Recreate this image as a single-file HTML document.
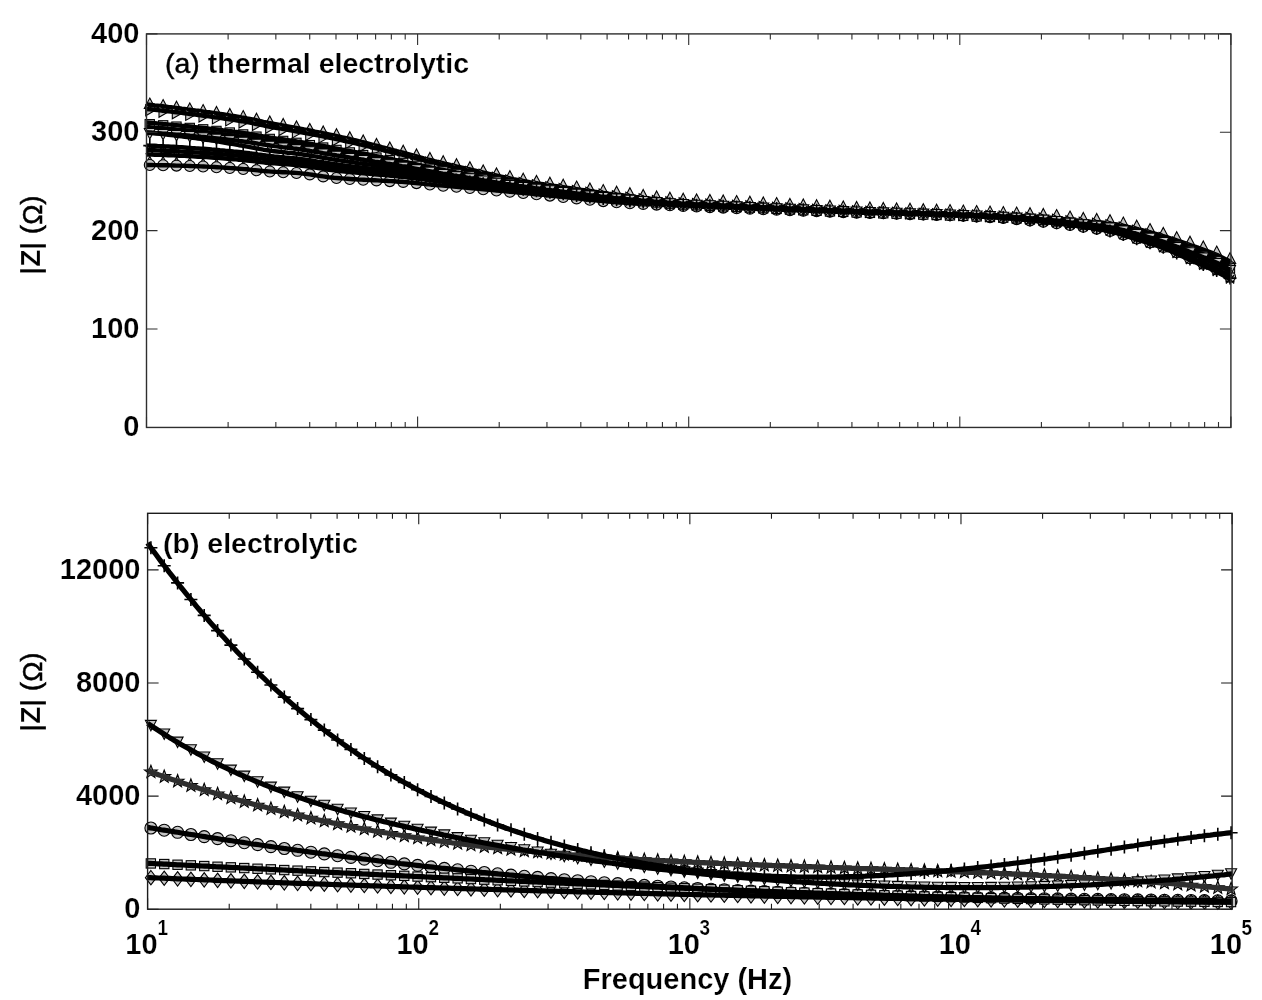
<!DOCTYPE html><html><head><meta charset="utf-8"><style>html,body{margin:0;padding:0;background:#fff;width:1262px;height:1000px;overflow:hidden;position:relative}body{-webkit-font-smoothing:antialiased}#t{position:absolute;left:0;top:0;width:1262px;height:1000px;will-change:transform}</style></head><body><svg width="1262" height="1000" viewBox="0 0 1262 1000" style="position:absolute;left:0;top:0"><rect width="1262" height="1000" fill="#fff"/><clipPath id="ca"><rect x="138.5" y="33.9" width="1100.4" height="393.55"/></clipPath><clipPath id="cb"><rect x="139.6" y="513.3" width="1100.5" height="395.9000000000001"/></clipPath><g><path d="M149.8 156.4L153.8 164.0L145.8 164.0Z" fill="#c4c4c4" stroke="#000" stroke-width="1.1"/><path d="M163.1 156.7L167.1 164.3L159.1 164.3Z" fill="#c4c4c4" stroke="#000" stroke-width="1.1"/><path d="M176.5 157.2L180.5 164.8L172.5 164.8Z" fill="#c4c4c4" stroke="#000" stroke-width="1.1"/><path d="M189.8 157.7L193.8 165.3L185.8 165.3Z" fill="#c4c4c4" stroke="#000" stroke-width="1.1"/><path d="M203.1 158.3L207.1 165.9L199.1 165.9Z" fill="#c4c4c4" stroke="#000" stroke-width="1.1"/><path d="M216.5 159.1L220.5 166.7L212.5 166.7Z" fill="#c4c4c4" stroke="#000" stroke-width="1.1"/><path d="M229.8 160.0L233.8 167.6L225.8 167.6Z" fill="#c4c4c4" stroke="#000" stroke-width="1.1"/><path d="M243.2 161.1L247.2 168.7L239.2 168.7Z" fill="#c4c4c4" stroke="#000" stroke-width="1.1"/><path d="M256.5 162.5L260.5 170.1L252.5 170.1Z" fill="#c4c4c4" stroke="#000" stroke-width="1.1"/><path d="M269.8 163.8L273.8 171.4L265.8 171.4Z" fill="#c4c4c4" stroke="#000" stroke-width="1.1"/><path d="M283.2 164.7L287.2 172.3L279.2 172.3Z" fill="#c4c4c4" stroke="#000" stroke-width="1.1"/><path d="M296.5 165.6L300.5 173.2L292.5 173.2Z" fill="#c4c4c4" stroke="#000" stroke-width="1.1"/><path d="M309.8 167.1L313.8 174.7L305.8 174.7Z" fill="#c4c4c4" stroke="#000" stroke-width="1.1"/><path d="M323.2 169.1L327.2 176.7L319.2 176.7Z" fill="#c4c4c4" stroke="#000" stroke-width="1.1"/><path d="M336.5 170.8L340.5 178.4L332.5 178.4Z" fill="#c4c4c4" stroke="#000" stroke-width="1.1"/><path d="M349.8 172.0L353.8 179.6L345.8 179.6Z" fill="#c4c4c4" stroke="#000" stroke-width="1.1"/><path d="M363.2 173.0L367.2 180.6L359.2 180.6Z" fill="#c4c4c4" stroke="#000" stroke-width="1.1"/><path d="M376.5 173.8L380.5 181.4L372.5 181.4Z" fill="#c4c4c4" stroke="#000" stroke-width="1.1"/><path d="M389.8 174.7L393.8 182.3L385.8 182.3Z" fill="#c4c4c4" stroke="#000" stroke-width="1.1"/><path d="M403.2 175.8L407.2 183.4L399.2 183.4Z" fill="#c4c4c4" stroke="#000" stroke-width="1.1"/><path d="M416.5 177.2L420.5 184.8L412.5 184.8Z" fill="#c4c4c4" stroke="#000" stroke-width="1.1"/><path d="M429.9 178.7L433.9 186.3L425.9 186.3Z" fill="#c4c4c4" stroke="#000" stroke-width="1.1"/><path d="M443.2 180.1L447.2 187.7L439.2 187.7Z" fill="#c4c4c4" stroke="#000" stroke-width="1.1"/><path d="M456.5 181.4L460.5 189.0L452.5 189.0Z" fill="#c4c4c4" stroke="#000" stroke-width="1.1"/><path d="M469.9 182.7L473.9 190.3L465.9 190.3Z" fill="#c4c4c4" stroke="#000" stroke-width="1.1"/><path d="M483.2 184.1L487.2 191.7L479.2 191.7Z" fill="#c4c4c4" stroke="#000" stroke-width="1.1"/><path d="M496.5 185.5L500.5 193.1L492.5 193.1Z" fill="#c4c4c4" stroke="#000" stroke-width="1.1"/><path d="M509.9 186.9L513.9 194.5L505.9 194.5Z" fill="#c4c4c4" stroke="#000" stroke-width="1.1"/><path d="M523.2 188.3L527.2 195.9L519.2 195.9Z" fill="#c4c4c4" stroke="#000" stroke-width="1.1"/><path d="M536.5 189.6L540.5 197.2L532.5 197.2Z" fill="#c4c4c4" stroke="#000" stroke-width="1.1"/><path d="M549.9 191.0L553.9 198.6L545.9 198.6Z" fill="#c4c4c4" stroke="#000" stroke-width="1.1"/><path d="M563.2 192.4L567.2 200.0L559.2 200.0Z" fill="#c4c4c4" stroke="#000" stroke-width="1.1"/><path d="M576.6 193.9L580.6 201.5L572.6 201.5Z" fill="#c4c4c4" stroke="#000" stroke-width="1.1"/><path d="M589.9 195.3L593.9 202.9L585.9 202.9Z" fill="#c4c4c4" stroke="#000" stroke-width="1.1"/><path d="M603.2 196.7L607.2 204.3L599.2 204.3Z" fill="#c4c4c4" stroke="#000" stroke-width="1.1"/><path d="M616.6 197.8L620.6 205.4L612.6 205.4Z" fill="#c4c4c4" stroke="#000" stroke-width="1.1"/><path d="M629.9 198.8L633.9 206.4L625.9 206.4Z" fill="#c4c4c4" stroke="#000" stroke-width="1.1"/><path d="M643.2 199.7L647.2 207.3L639.2 207.3Z" fill="#c4c4c4" stroke="#000" stroke-width="1.1"/><path d="M656.6 200.4L660.6 208.0L652.6 208.0Z" fill="#c4c4c4" stroke="#000" stroke-width="1.1"/><path d="M669.9 201.1L673.9 208.7L665.9 208.7Z" fill="#c4c4c4" stroke="#000" stroke-width="1.1"/><path d="M683.2 201.8L687.2 209.4L679.2 209.4Z" fill="#c4c4c4" stroke="#000" stroke-width="1.1"/><path d="M696.6 202.4L700.6 210.0L692.6 210.0Z" fill="#c4c4c4" stroke="#000" stroke-width="1.1"/><path d="M709.9 203.0L713.9 210.6L705.9 210.6Z" fill="#c4c4c4" stroke="#000" stroke-width="1.1"/><path d="M723.2 203.5L727.2 211.1L719.2 211.1Z" fill="#c4c4c4" stroke="#000" stroke-width="1.1"/><path d="M736.6 204.1L740.6 211.7L732.6 211.7Z" fill="#c4c4c4" stroke="#000" stroke-width="1.1"/><path d="M749.9 204.6L753.9 212.2L745.9 212.2Z" fill="#c4c4c4" stroke="#000" stroke-width="1.1"/><path d="M763.3 205.1L767.3 212.7L759.3 212.7Z" fill="#c4c4c4" stroke="#000" stroke-width="1.1"/><path d="M776.6 205.6L780.6 213.2L772.6 213.2Z" fill="#c4c4c4" stroke="#000" stroke-width="1.1"/><path d="M789.9 206.1L793.9 213.7L785.9 213.7Z" fill="#c4c4c4" stroke="#000" stroke-width="1.1"/><path d="M803.3 206.6L807.3 214.2L799.3 214.2Z" fill="#c4c4c4" stroke="#000" stroke-width="1.1"/><path d="M816.6 207.1L820.6 214.7L812.6 214.7Z" fill="#c4c4c4" stroke="#000" stroke-width="1.1"/><path d="M829.9 207.6L833.9 215.2L825.9 215.2Z" fill="#c4c4c4" stroke="#000" stroke-width="1.1"/><path d="M843.3 208.1L847.3 215.7L839.3 215.7Z" fill="#c4c4c4" stroke="#000" stroke-width="1.1"/><path d="M856.6 208.6L860.6 216.2L852.6 216.2Z" fill="#c4c4c4" stroke="#000" stroke-width="1.1"/><path d="M869.9 209.0L873.9 216.6L865.9 216.6Z" fill="#c4c4c4" stroke="#000" stroke-width="1.1"/><path d="M883.3 209.3L887.3 216.9L879.3 216.9Z" fill="#c4c4c4" stroke="#000" stroke-width="1.1"/><path d="M896.6 209.7L900.6 217.3L892.6 217.3Z" fill="#c4c4c4" stroke="#000" stroke-width="1.1"/><path d="M910.0 210.1L914.0 217.7L906.0 217.7Z" fill="#c4c4c4" stroke="#000" stroke-width="1.1"/><path d="M923.3 210.5L927.3 218.1L919.3 218.1Z" fill="#c4c4c4" stroke="#000" stroke-width="1.1"/><path d="M936.6 210.9L940.6 218.5L932.6 218.5Z" fill="#c4c4c4" stroke="#000" stroke-width="1.1"/><path d="M950.0 211.3L954.0 218.9L946.0 218.9Z" fill="#c4c4c4" stroke="#000" stroke-width="1.1"/><path d="M963.3 211.8L967.3 219.4L959.3 219.4Z" fill="#c4c4c4" stroke="#000" stroke-width="1.1"/><path d="M976.6 212.4L980.6 220.0L972.6 220.0Z" fill="#c4c4c4" stroke="#000" stroke-width="1.1"/><path d="M990.0 213.1L994.0 220.7L986.0 220.7Z" fill="#c4c4c4" stroke="#000" stroke-width="1.1"/><path d="M1003.3 213.9L1007.3 221.5L999.3 221.5Z" fill="#c4c4c4" stroke="#000" stroke-width="1.1"/><path d="M1016.6 215.1L1020.6 222.7L1012.6 222.7Z" fill="#c4c4c4" stroke="#000" stroke-width="1.1"/><path d="M1030.0 216.4L1034.0 224.0L1026.0 224.0Z" fill="#c4c4c4" stroke="#000" stroke-width="1.1"/><path d="M1043.3 217.7L1047.3 225.3L1039.3 225.3Z" fill="#c4c4c4" stroke="#000" stroke-width="1.1"/><path d="M1056.6 219.2L1060.6 226.8L1052.6 226.8Z" fill="#c4c4c4" stroke="#000" stroke-width="1.1"/><path d="M1070.0 220.9L1074.0 228.5L1066.0 228.5Z" fill="#c4c4c4" stroke="#000" stroke-width="1.1"/><path d="M1083.3 222.8L1087.3 230.4L1079.3 230.4Z" fill="#c4c4c4" stroke="#000" stroke-width="1.1"/><path d="M1096.7 224.7L1100.7 232.3L1092.7 232.3Z" fill="#c4c4c4" stroke="#000" stroke-width="1.1"/><path d="M1110.0 227.1L1114.0 234.7L1106.0 234.7Z" fill="#c4c4c4" stroke="#000" stroke-width="1.1"/><path d="M1123.3 230.6L1127.3 238.2L1119.3 238.2Z" fill="#c4c4c4" stroke="#000" stroke-width="1.1"/><path d="M1136.7 234.8L1140.7 242.4L1132.7 242.4Z" fill="#c4c4c4" stroke="#000" stroke-width="1.1"/><path d="M1150.0 238.8L1154.0 246.4L1146.0 246.4Z" fill="#c4c4c4" stroke="#000" stroke-width="1.1"/><path d="M1163.3 243.4L1167.3 251.0L1159.3 251.0Z" fill="#c4c4c4" stroke="#000" stroke-width="1.1"/><path d="M1176.7 249.0L1180.7 256.6L1172.7 256.6Z" fill="#c4c4c4" stroke="#000" stroke-width="1.1"/><path d="M1190.0 255.0L1194.0 262.6L1186.0 262.6Z" fill="#c4c4c4" stroke="#000" stroke-width="1.1"/><path d="M1203.3 260.6L1207.3 268.2L1199.3 268.2Z" fill="#c4c4c4" stroke="#000" stroke-width="1.1"/><path d="M1216.7 266.7L1220.7 274.3L1212.7 274.3Z" fill="#c4c4c4" stroke="#000" stroke-width="1.1"/><path d="M1230.0 274.2L1234.0 281.8L1226.0 281.8Z" fill="#c4c4c4" stroke="#000" stroke-width="1.1"/><circle cx="149.8" cy="165.0" r="5.5" fill="#c4c4c4" stroke="#000" stroke-width="1.1"/><circle cx="163.1" cy="165.2" r="5.5" fill="#c4c4c4" stroke="#000" stroke-width="1.1"/><circle cx="176.5" cy="165.6" r="5.5" fill="#c4c4c4" stroke="#000" stroke-width="1.1"/><circle cx="189.8" cy="166.0" r="5.5" fill="#c4c4c4" stroke="#000" stroke-width="1.1"/><circle cx="203.1" cy="166.5" r="5.5" fill="#c4c4c4" stroke="#000" stroke-width="1.1"/><circle cx="216.5" cy="167.2" r="5.5" fill="#c4c4c4" stroke="#000" stroke-width="1.1"/><circle cx="229.8" cy="168.0" r="5.5" fill="#c4c4c4" stroke="#000" stroke-width="1.1"/><circle cx="243.2" cy="169.0" r="5.5" fill="#c4c4c4" stroke="#000" stroke-width="1.1"/><circle cx="256.5" cy="170.3" r="5.5" fill="#c4c4c4" stroke="#000" stroke-width="1.1"/><circle cx="269.8" cy="171.5" r="5.5" fill="#c4c4c4" stroke="#000" stroke-width="1.1"/><circle cx="283.2" cy="172.2" r="5.5" fill="#c4c4c4" stroke="#000" stroke-width="1.1"/><circle cx="296.5" cy="173.0" r="5.5" fill="#c4c4c4" stroke="#000" stroke-width="1.1"/><circle cx="309.8" cy="174.4" r="5.5" fill="#c4c4c4" stroke="#000" stroke-width="1.1"/><circle cx="323.2" cy="176.4" r="5.5" fill="#c4c4c4" stroke="#000" stroke-width="1.1"/><circle cx="336.5" cy="178.0" r="5.5" fill="#c4c4c4" stroke="#000" stroke-width="1.1"/><circle cx="349.8" cy="179.0" r="5.5" fill="#c4c4c4" stroke="#000" stroke-width="1.1"/><circle cx="363.2" cy="179.7" r="5.5" fill="#c4c4c4" stroke="#000" stroke-width="1.1"/><circle cx="376.5" cy="180.4" r="5.5" fill="#c4c4c4" stroke="#000" stroke-width="1.1"/><circle cx="389.8" cy="181.1" r="5.5" fill="#c4c4c4" stroke="#000" stroke-width="1.1"/><circle cx="403.2" cy="181.9" r="5.5" fill="#c4c4c4" stroke="#000" stroke-width="1.1"/><circle cx="416.5" cy="183.1" r="5.5" fill="#c4c4c4" stroke="#000" stroke-width="1.1"/><circle cx="429.9" cy="184.5" r="5.5" fill="#c4c4c4" stroke="#000" stroke-width="1.1"/><circle cx="443.2" cy="185.7" r="5.5" fill="#c4c4c4" stroke="#000" stroke-width="1.1"/><circle cx="456.5" cy="186.8" r="5.5" fill="#c4c4c4" stroke="#000" stroke-width="1.1"/><circle cx="469.9" cy="188.0" r="5.5" fill="#c4c4c4" stroke="#000" stroke-width="1.1"/><circle cx="483.2" cy="189.2" r="5.5" fill="#c4c4c4" stroke="#000" stroke-width="1.1"/><circle cx="496.5" cy="190.5" r="5.5" fill="#c4c4c4" stroke="#000" stroke-width="1.1"/><circle cx="509.9" cy="191.7" r="5.5" fill="#c4c4c4" stroke="#000" stroke-width="1.1"/><circle cx="523.2" cy="193.0" r="5.5" fill="#c4c4c4" stroke="#000" stroke-width="1.1"/><circle cx="536.5" cy="194.3" r="5.5" fill="#c4c4c4" stroke="#000" stroke-width="1.1"/><circle cx="549.9" cy="195.6" r="5.5" fill="#c4c4c4" stroke="#000" stroke-width="1.1"/><circle cx="563.2" cy="197.0" r="5.5" fill="#c4c4c4" stroke="#000" stroke-width="1.1"/><circle cx="576.6" cy="198.4" r="5.5" fill="#c4c4c4" stroke="#000" stroke-width="1.1"/><circle cx="589.9" cy="199.8" r="5.5" fill="#c4c4c4" stroke="#000" stroke-width="1.1"/><circle cx="603.2" cy="201.1" r="5.5" fill="#c4c4c4" stroke="#000" stroke-width="1.1"/><circle cx="616.6" cy="202.3" r="5.5" fill="#c4c4c4" stroke="#000" stroke-width="1.1"/><circle cx="629.9" cy="203.2" r="5.5" fill="#c4c4c4" stroke="#000" stroke-width="1.1"/><circle cx="643.2" cy="203.9" r="5.5" fill="#c4c4c4" stroke="#000" stroke-width="1.1"/><circle cx="656.6" cy="204.6" r="5.5" fill="#c4c4c4" stroke="#000" stroke-width="1.1"/><circle cx="669.9" cy="205.3" r="5.5" fill="#c4c4c4" stroke="#000" stroke-width="1.1"/><circle cx="683.2" cy="205.9" r="5.5" fill="#c4c4c4" stroke="#000" stroke-width="1.1"/><circle cx="696.6" cy="206.5" r="5.5" fill="#c4c4c4" stroke="#000" stroke-width="1.1"/><circle cx="709.9" cy="207.1" r="5.5" fill="#c4c4c4" stroke="#000" stroke-width="1.1"/><circle cx="723.2" cy="207.6" r="5.5" fill="#c4c4c4" stroke="#000" stroke-width="1.1"/><circle cx="736.6" cy="208.2" r="5.5" fill="#c4c4c4" stroke="#000" stroke-width="1.1"/><circle cx="749.9" cy="208.7" r="5.5" fill="#c4c4c4" stroke="#000" stroke-width="1.1"/><circle cx="763.3" cy="209.2" r="5.5" fill="#c4c4c4" stroke="#000" stroke-width="1.1"/><circle cx="776.6" cy="209.7" r="5.5" fill="#c4c4c4" stroke="#000" stroke-width="1.1"/><circle cx="789.9" cy="210.2" r="5.5" fill="#c4c4c4" stroke="#000" stroke-width="1.1"/><circle cx="803.3" cy="210.7" r="5.5" fill="#c4c4c4" stroke="#000" stroke-width="1.1"/><circle cx="816.6" cy="211.2" r="5.5" fill="#c4c4c4" stroke="#000" stroke-width="1.1"/><circle cx="829.9" cy="211.6" r="5.5" fill="#c4c4c4" stroke="#000" stroke-width="1.1"/><circle cx="843.3" cy="212.1" r="5.5" fill="#c4c4c4" stroke="#000" stroke-width="1.1"/><circle cx="856.6" cy="212.6" r="5.5" fill="#c4c4c4" stroke="#000" stroke-width="1.1"/><circle cx="869.9" cy="213.0" r="5.5" fill="#c4c4c4" stroke="#000" stroke-width="1.1"/><circle cx="883.3" cy="213.3" r="5.5" fill="#c4c4c4" stroke="#000" stroke-width="1.1"/><circle cx="896.6" cy="213.7" r="5.5" fill="#c4c4c4" stroke="#000" stroke-width="1.1"/><circle cx="910.0" cy="214.1" r="5.5" fill="#c4c4c4" stroke="#000" stroke-width="1.1"/><circle cx="923.3" cy="214.4" r="5.5" fill="#c4c4c4" stroke="#000" stroke-width="1.1"/><circle cx="936.6" cy="214.9" r="5.5" fill="#c4c4c4" stroke="#000" stroke-width="1.1"/><circle cx="950.0" cy="215.3" r="5.5" fill="#c4c4c4" stroke="#000" stroke-width="1.1"/><circle cx="963.3" cy="215.8" r="5.5" fill="#c4c4c4" stroke="#000" stroke-width="1.1"/><circle cx="976.6" cy="216.4" r="5.5" fill="#c4c4c4" stroke="#000" stroke-width="1.1"/><circle cx="990.0" cy="217.1" r="5.5" fill="#c4c4c4" stroke="#000" stroke-width="1.1"/><circle cx="1003.3" cy="217.9" r="5.5" fill="#c4c4c4" stroke="#000" stroke-width="1.1"/><circle cx="1016.6" cy="219.1" r="5.5" fill="#c4c4c4" stroke="#000" stroke-width="1.1"/><circle cx="1030.0" cy="220.4" r="5.5" fill="#c4c4c4" stroke="#000" stroke-width="1.1"/><circle cx="1043.3" cy="221.8" r="5.5" fill="#c4c4c4" stroke="#000" stroke-width="1.1"/><circle cx="1056.6" cy="223.3" r="5.5" fill="#c4c4c4" stroke="#000" stroke-width="1.1"/><circle cx="1070.0" cy="224.9" r="5.5" fill="#c4c4c4" stroke="#000" stroke-width="1.1"/><circle cx="1083.3" cy="226.7" r="5.5" fill="#c4c4c4" stroke="#000" stroke-width="1.1"/><circle cx="1096.7" cy="228.6" r="5.5" fill="#c4c4c4" stroke="#000" stroke-width="1.1"/><circle cx="1110.0" cy="230.9" r="5.5" fill="#c4c4c4" stroke="#000" stroke-width="1.1"/><circle cx="1123.3" cy="234.4" r="5.5" fill="#c4c4c4" stroke="#000" stroke-width="1.1"/><circle cx="1136.7" cy="238.5" r="5.5" fill="#c4c4c4" stroke="#000" stroke-width="1.1"/><circle cx="1150.0" cy="242.4" r="5.5" fill="#c4c4c4" stroke="#000" stroke-width="1.1"/><circle cx="1163.3" cy="246.9" r="5.5" fill="#c4c4c4" stroke="#000" stroke-width="1.1"/><circle cx="1176.7" cy="252.3" r="5.5" fill="#c4c4c4" stroke="#000" stroke-width="1.1"/><circle cx="1190.0" cy="258.2" r="5.5" fill="#c4c4c4" stroke="#000" stroke-width="1.1"/><circle cx="1203.3" cy="263.6" r="5.5" fill="#c4c4c4" stroke="#000" stroke-width="1.1"/><circle cx="1216.7" cy="269.4" r="5.5" fill="#c4c4c4" stroke="#000" stroke-width="1.1"/><circle cx="1230.0" cy="276.7" r="5.5" fill="#c4c4c4" stroke="#000" stroke-width="1.1"/><polyline points="146.5,165.0 149.2,165.0 151.9,165.0 154.7,165.1 157.4,165.1 160.1,165.2 162.8,165.2 165.5,165.3 168.2,165.3 171.0,165.4 173.7,165.5 176.4,165.6 179.1,165.6 181.8,165.7 184.5,165.8 187.3,165.9 190.0,166.0 192.7,166.1 195.4,166.2 198.1,166.3 200.9,166.4 203.6,166.5 206.3,166.6 209.0,166.8 211.7,166.9 214.4,167.0 217.2,167.2 219.9,167.4 222.6,167.5 225.3,167.7 228.0,167.9 230.8,168.1 233.5,168.3 236.2,168.5 238.9,168.7 241.6,168.9 244.3,169.1 247.1,169.3 249.8,169.6 252.5,169.9 255.2,170.1 257.9,170.4 260.6,170.7 263.4,171.0 266.1,171.2 268.8,171.4 271.5,171.6 274.2,171.8 277.0,171.9 279.7,172.0 282.4,172.2 285.1,172.3 287.8,172.4 290.5,172.6 293.3,172.7 296.0,172.9 298.7,173.1 301.4,173.4 304.1,173.7 306.8,174.0 309.6,174.4 312.3,174.8 315.0,175.2 317.7,175.6 320.4,176.0 323.2,176.4 325.9,176.8 328.6,177.2 331.3,177.5 334.0,177.8 336.7,178.0 339.5,178.2 342.2,178.4 344.9,178.6 347.6,178.8 350.3,179.0 353.1,179.2 355.8,179.3 358.5,179.5 361.2,179.6 363.9,179.7 366.6,179.9 369.4,180.0 372.1,180.2 374.8,180.3 377.5,180.4 380.2,180.6 382.9,180.7 385.7,180.8 388.4,181.0 391.1,181.1 393.8,181.3 396.5,181.5 399.3,181.7 402.0,181.8 404.7,182.1 407.4,182.3 410.1,182.5 412.8,182.8 415.6,183.1 418.3,183.3 421.0,183.6 423.7,183.9 426.4,184.2 429.2,184.4 431.9,184.7 434.6,184.9 437.3,185.2 440.0,185.4 442.7,185.6 445.5,185.9 448.2,186.1 450.9,186.3 453.6,186.6 456.3,186.8 459.0,187.0 461.8,187.3 464.5,187.5 467.2,187.7 469.9,188.0 472.6,188.2 475.4,188.5 478.1,188.7 480.8,189.0 483.5,189.2 486.2,189.5 488.9,189.8 491.7,190.0 494.4,190.3 497.1,190.5 499.8,190.8 502.5,191.0 505.2,191.3 508.0,191.6 510.7,191.8 513.4,192.1 516.1,192.3 518.8,192.6 521.6,192.9 524.3,193.1 527.0,193.4 529.7,193.6 532.4,193.9 535.1,194.2 537.9,194.4 540.6,194.7 543.3,194.9 546.0,195.2 548.7,195.5 551.5,195.7 554.2,196.0 556.9,196.3 559.6,196.6 562.3,196.9 565.0,197.1 567.8,197.4 570.5,197.7 573.2,198.0 575.9,198.3 578.6,198.6 581.3,198.9 584.1,199.2 586.8,199.5 589.5,199.8 592.2,200.0 594.9,200.3 597.7,200.6 600.4,200.9 603.1,201.1 605.8,201.4 608.5,201.6 611.2,201.8 614.0,202.1 616.7,202.3 619.4,202.5 622.1,202.6 624.8,202.8 627.5,203.0 630.3,203.2 633.0,203.3 635.7,203.5 638.4,203.7 641.1,203.8 643.9,204.0 646.6,204.1 649.3,204.3 652.0,204.4 654.7,204.5 657.4,204.7 660.2,204.8 662.9,205.0 665.6,205.1 668.3,205.2 671.0,205.3 673.8,205.5 676.5,205.6 679.2,205.7 681.9,205.9 684.6,206.0 687.3,206.1 690.1,206.2 692.8,206.4 695.5,206.5 698.2,206.6 700.9,206.7 703.6,206.8 706.4,206.9 709.1,207.1 711.8,207.2 714.5,207.3 717.2,207.4 720.0,207.5 722.7,207.6 725.4,207.7 728.1,207.8 730.8,207.9 733.5,208.0 736.3,208.2 739.0,208.3 741.7,208.4 744.4,208.5 747.1,208.6 749.9,208.7 752.6,208.8 755.3,208.9 758.0,209.0 760.7,209.1 763.4,209.2 766.2,209.3 768.9,209.4 771.6,209.5 774.3,209.6 777.0,209.7 779.7,209.8 782.5,209.9 785.2,210.0 787.9,210.1 790.6,210.2 793.3,210.3 796.1,210.4 798.8,210.5 801.5,210.6 804.2,210.7 806.9,210.8 809.6,210.9 812.4,211.0 815.1,211.1 817.8,211.2 820.5,211.3 823.2,211.4 825.9,211.5 828.7,211.6 831.4,211.7 834.1,211.8 836.8,211.9 839.5,212.0 842.3,212.1 845.0,212.2 847.7,212.3 850.4,212.4 853.1,212.4 855.8,212.5 858.6,212.6 861.3,212.7 864.0,212.8 866.7,212.9 869.4,212.9 872.2,213.0 874.9,213.1 877.6,213.2 880.3,213.2 883.0,213.3 885.7,213.4 888.5,213.5 891.2,213.5 893.9,213.6 896.6,213.7 899.3,213.8 902.0,213.8 904.8,213.9 907.5,214.0 910.2,214.1 912.9,214.1 915.6,214.2 918.4,214.3 921.1,214.4 923.8,214.5 926.5,214.5 929.2,214.6 931.9,214.7 934.7,214.8 937.4,214.9 940.1,215.0 942.8,215.1 945.5,215.2 948.2,215.2 951.0,215.3 953.7,215.4 956.4,215.5 959.1,215.6 961.8,215.8 964.6,215.9 967.3,216.0 970.0,216.1 972.7,216.2 975.4,216.3 978.1,216.5 980.9,216.6 983.6,216.7 986.3,216.9 989.0,217.0 991.7,217.2 994.5,217.3 997.2,217.5 999.9,217.7 1002.6,217.9 1005.3,218.1 1008.0,218.3 1010.8,218.6 1013.5,218.8 1016.2,219.0 1018.9,219.3 1021.6,219.6 1024.3,219.8 1027.1,220.1 1029.8,220.4 1032.5,220.7 1035.2,220.9 1037.9,221.2 1040.7,221.5 1043.4,221.8 1046.1,222.1 1048.8,222.4 1051.5,222.7 1054.2,223.0 1057.0,223.3 1059.7,223.6 1062.4,224.0 1065.1,224.3 1067.8,224.7 1070.6,225.0 1073.3,225.4 1076.0,225.7 1078.7,226.1 1081.4,226.5 1084.1,226.8 1086.9,227.2 1089.6,227.6 1092.3,228.0 1095.0,228.4 1097.7,228.8 1100.4,229.2 1103.2,229.7 1105.9,230.1 1108.6,230.7 1111.3,231.2 1114.0,231.8 1116.8,232.5 1119.5,233.3 1122.2,234.0 1124.9,234.8 1127.6,235.7 1130.3,236.5 1133.1,237.4 1135.8,238.2 1138.5,239.0 1141.2,239.8 1143.9,240.6 1146.6,241.4 1149.4,242.3 1152.1,243.1 1154.8,243.9 1157.5,244.8 1160.2,245.8 1163.0,246.7 1165.7,247.7 1168.4,248.8 1171.1,249.9 1173.8,251.1 1176.5,252.2 1179.3,253.4 1182.0,254.6 1184.7,255.9 1187.4,257.0 1190.1,258.2 1192.9,259.3 1195.6,260.5 1198.3,261.6 1201.0,262.7 1203.7,263.8 1206.4,264.9 1209.2,266.0 1211.9,267.2 1214.6,268.5 1217.3,269.8 1220.0,271.1 1222.7,272.6 1225.5,274.1 1228.2,275.6 1230.9,277.2" fill="none" stroke="#000" stroke-width="4.4" stroke-linejoin="round" stroke-linecap="butt"/><path d="M149.8 98.1L155.3 108.5L144.3 108.5Z" fill="#c4c4c4" stroke="#000" stroke-width="1.1"/><path d="M163.1 99.6L168.6 110.0L157.6 110.0Z" fill="#c4c4c4" stroke="#000" stroke-width="1.1"/><path d="M176.5 101.2L182.0 111.6L171.0 111.6Z" fill="#c4c4c4" stroke="#000" stroke-width="1.1"/><path d="M189.8 102.9L195.3 113.3L184.3 113.3Z" fill="#c4c4c4" stroke="#000" stroke-width="1.1"/><path d="M203.1 104.6L208.6 115.1L197.6 115.1Z" fill="#c4c4c4" stroke="#000" stroke-width="1.1"/><path d="M216.5 106.5L222.0 116.9L211.0 116.9Z" fill="#c4c4c4" stroke="#000" stroke-width="1.1"/><path d="M229.8 108.4L235.3 118.9L224.3 118.9Z" fill="#c4c4c4" stroke="#000" stroke-width="1.1"/><path d="M243.2 110.6L248.7 121.1L237.7 121.1Z" fill="#c4c4c4" stroke="#000" stroke-width="1.1"/><path d="M256.5 113.3L262.0 123.7L251.0 123.7Z" fill="#c4c4c4" stroke="#000" stroke-width="1.1"/><path d="M269.8 116.0L275.3 126.4L264.3 126.4Z" fill="#c4c4c4" stroke="#000" stroke-width="1.1"/><path d="M283.2 118.4L288.7 128.9L277.7 128.9Z" fill="#c4c4c4" stroke="#000" stroke-width="1.1"/><path d="M296.5 120.9L302.0 131.3L291.0 131.3Z" fill="#c4c4c4" stroke="#000" stroke-width="1.1"/><path d="M309.8 123.4L315.3 133.8L304.3 133.8Z" fill="#c4c4c4" stroke="#000" stroke-width="1.1"/><path d="M323.2 126.0L328.7 136.4L317.7 136.4Z" fill="#c4c4c4" stroke="#000" stroke-width="1.1"/><path d="M336.5 128.7L342.0 139.2L331.0 139.2Z" fill="#c4c4c4" stroke="#000" stroke-width="1.1"/><path d="M349.8 131.8L355.3 142.2L344.3 142.2Z" fill="#c4c4c4" stroke="#000" stroke-width="1.1"/><path d="M363.2 135.0L368.7 145.5L357.7 145.5Z" fill="#c4c4c4" stroke="#000" stroke-width="1.1"/><path d="M376.5 138.4L382.0 148.9L371.0 148.9Z" fill="#c4c4c4" stroke="#000" stroke-width="1.1"/><path d="M389.8 141.9L395.3 152.3L384.3 152.3Z" fill="#c4c4c4" stroke="#000" stroke-width="1.1"/><path d="M403.2 145.3L408.7 155.8L397.7 155.8Z" fill="#c4c4c4" stroke="#000" stroke-width="1.1"/><path d="M416.5 148.9L422.0 159.4L411.0 159.4Z" fill="#c4c4c4" stroke="#000" stroke-width="1.1"/><path d="M429.9 152.4L435.4 162.9L424.4 162.9Z" fill="#c4c4c4" stroke="#000" stroke-width="1.1"/><path d="M443.2 155.7L448.7 166.1L437.7 166.1Z" fill="#c4c4c4" stroke="#000" stroke-width="1.1"/><path d="M456.5 158.8L462.0 169.3L451.0 169.3Z" fill="#c4c4c4" stroke="#000" stroke-width="1.1"/><path d="M469.9 161.8L475.4 172.3L464.4 172.3Z" fill="#c4c4c4" stroke="#000" stroke-width="1.1"/><path d="M483.2 164.9L488.7 175.3L477.7 175.3Z" fill="#c4c4c4" stroke="#000" stroke-width="1.1"/><path d="M496.5 167.9L502.0 178.3L491.0 178.3Z" fill="#c4c4c4" stroke="#000" stroke-width="1.1"/><path d="M509.9 170.7L515.4 181.1L504.4 181.1Z" fill="#c4c4c4" stroke="#000" stroke-width="1.1"/><path d="M523.2 173.2L528.7 183.6L517.7 183.6Z" fill="#c4c4c4" stroke="#000" stroke-width="1.1"/><path d="M536.5 175.4L542.0 185.8L531.0 185.8Z" fill="#c4c4c4" stroke="#000" stroke-width="1.1"/><path d="M549.9 177.3L555.4 187.8L544.4 187.8Z" fill="#c4c4c4" stroke="#000" stroke-width="1.1"/><path d="M563.2 179.2L568.7 189.7L557.7 189.7Z" fill="#c4c4c4" stroke="#000" stroke-width="1.1"/><path d="M576.6 181.1L582.1 191.5L571.1 191.5Z" fill="#c4c4c4" stroke="#000" stroke-width="1.1"/><path d="M589.9 182.9L595.4 193.4L584.4 193.4Z" fill="#c4c4c4" stroke="#000" stroke-width="1.1"/><path d="M603.2 184.6L608.7 195.1L597.7 195.1Z" fill="#c4c4c4" stroke="#000" stroke-width="1.1"/><path d="M616.6 186.3L622.1 196.7L611.1 196.7Z" fill="#c4c4c4" stroke="#000" stroke-width="1.1"/><path d="M629.9 187.8L635.4 198.3L624.4 198.3Z" fill="#c4c4c4" stroke="#000" stroke-width="1.1"/><path d="M643.2 189.4L648.7 199.9L637.7 199.9Z" fill="#c4c4c4" stroke="#000" stroke-width="1.1"/><path d="M656.6 191.0L662.1 201.4L651.1 201.4Z" fill="#c4c4c4" stroke="#000" stroke-width="1.1"/><path d="M669.9 192.3L675.4 202.7L664.4 202.7Z" fill="#c4c4c4" stroke="#000" stroke-width="1.1"/><path d="M683.2 193.3L688.7 203.7L677.7 203.7Z" fill="#c4c4c4" stroke="#000" stroke-width="1.1"/><path d="M696.6 193.9L702.1 204.3L691.1 204.3Z" fill="#c4c4c4" stroke="#000" stroke-width="1.1"/><path d="M709.9 194.4L715.4 204.8L704.4 204.8Z" fill="#c4c4c4" stroke="#000" stroke-width="1.1"/><path d="M723.2 194.9L728.7 205.4L717.7 205.4Z" fill="#c4c4c4" stroke="#000" stroke-width="1.1"/><path d="M736.6 195.6L742.1 206.0L731.1 206.0Z" fill="#c4c4c4" stroke="#000" stroke-width="1.1"/><path d="M749.9 196.2L755.4 206.7L744.4 206.7Z" fill="#c4c4c4" stroke="#000" stroke-width="1.1"/><path d="M763.3 196.9L768.8 207.4L757.8 207.4Z" fill="#c4c4c4" stroke="#000" stroke-width="1.1"/><path d="M776.6 197.6L782.1 208.1L771.1 208.1Z" fill="#c4c4c4" stroke="#000" stroke-width="1.1"/><path d="M789.9 198.4L795.4 208.8L784.4 208.8Z" fill="#c4c4c4" stroke="#000" stroke-width="1.1"/><path d="M803.3 199.0L808.8 209.5L797.8 209.5Z" fill="#c4c4c4" stroke="#000" stroke-width="1.1"/><path d="M816.6 199.7L822.1 210.2L811.1 210.2Z" fill="#c4c4c4" stroke="#000" stroke-width="1.1"/><path d="M829.9 200.3L835.4 210.8L824.4 210.8Z" fill="#c4c4c4" stroke="#000" stroke-width="1.1"/><path d="M843.3 200.9L848.8 211.4L837.8 211.4Z" fill="#c4c4c4" stroke="#000" stroke-width="1.1"/><path d="M856.6 201.4L862.1 211.9L851.1 211.9Z" fill="#c4c4c4" stroke="#000" stroke-width="1.1"/><path d="M869.9 201.9L875.4 212.4L864.4 212.4Z" fill="#c4c4c4" stroke="#000" stroke-width="1.1"/><path d="M883.3 202.4L888.8 212.9L877.8 212.9Z" fill="#c4c4c4" stroke="#000" stroke-width="1.1"/><path d="M896.6 202.9L902.1 213.3L891.1 213.3Z" fill="#c4c4c4" stroke="#000" stroke-width="1.1"/><path d="M910.0 203.3L915.5 213.8L904.5 213.8Z" fill="#c4c4c4" stroke="#000" stroke-width="1.1"/><path d="M923.3 203.8L928.8 214.2L917.8 214.2Z" fill="#c4c4c4" stroke="#000" stroke-width="1.1"/><path d="M936.6 204.2L942.1 214.6L931.1 214.6Z" fill="#c4c4c4" stroke="#000" stroke-width="1.1"/><path d="M950.0 204.6L955.5 215.1L944.5 215.1Z" fill="#c4c4c4" stroke="#000" stroke-width="1.1"/><path d="M963.3 205.1L968.8 215.6L957.8 215.6Z" fill="#c4c4c4" stroke="#000" stroke-width="1.1"/><path d="M976.6 205.6L982.1 216.0L971.1 216.0Z" fill="#c4c4c4" stroke="#000" stroke-width="1.1"/><path d="M990.0 206.1L995.5 216.6L984.5 216.6Z" fill="#c4c4c4" stroke="#000" stroke-width="1.1"/><path d="M1003.3 206.6L1008.8 217.1L997.8 217.1Z" fill="#c4c4c4" stroke="#000" stroke-width="1.1"/><path d="M1016.6 207.1L1022.1 217.6L1011.1 217.6Z" fill="#c4c4c4" stroke="#000" stroke-width="1.1"/><path d="M1030.0 207.7L1035.5 218.2L1024.5 218.2Z" fill="#c4c4c4" stroke="#000" stroke-width="1.1"/><path d="M1043.3 208.4L1048.8 218.9L1037.8 218.9Z" fill="#c4c4c4" stroke="#000" stroke-width="1.1"/><path d="M1056.6 209.6L1062.1 220.0L1051.1 220.0Z" fill="#c4c4c4" stroke="#000" stroke-width="1.1"/><path d="M1070.0 211.1L1075.5 221.5L1064.5 221.5Z" fill="#c4c4c4" stroke="#000" stroke-width="1.1"/><path d="M1083.3 212.5L1088.8 223.0L1077.8 223.0Z" fill="#c4c4c4" stroke="#000" stroke-width="1.1"/><path d="M1096.7 213.5L1102.2 224.0L1091.2 224.0Z" fill="#c4c4c4" stroke="#000" stroke-width="1.1"/><path d="M1110.0 214.8L1115.5 225.2L1104.5 225.2Z" fill="#c4c4c4" stroke="#000" stroke-width="1.1"/><path d="M1123.3 217.1L1128.8 227.6L1117.8 227.6Z" fill="#c4c4c4" stroke="#000" stroke-width="1.1"/><path d="M1136.7 220.2L1142.2 230.6L1131.2 230.6Z" fill="#c4c4c4" stroke="#000" stroke-width="1.1"/><path d="M1150.0 223.6L1155.5 234.0L1144.5 234.0Z" fill="#c4c4c4" stroke="#000" stroke-width="1.1"/><path d="M1163.3 227.4L1168.8 237.8L1157.8 237.8Z" fill="#c4c4c4" stroke="#000" stroke-width="1.1"/><path d="M1176.7 231.7L1182.2 242.1L1171.2 242.1Z" fill="#c4c4c4" stroke="#000" stroke-width="1.1"/><path d="M1190.0 236.3L1195.5 246.7L1184.5 246.7Z" fill="#c4c4c4" stroke="#000" stroke-width="1.1"/><path d="M1203.3 240.9L1208.8 251.4L1197.8 251.4Z" fill="#c4c4c4" stroke="#000" stroke-width="1.1"/><path d="M1216.7 246.1L1222.2 256.6L1211.2 256.6Z" fill="#c4c4c4" stroke="#000" stroke-width="1.1"/><path d="M1230.0 252.7L1235.5 263.2L1224.5 263.2Z" fill="#c4c4c4" stroke="#000" stroke-width="1.1"/><polyline points="146.5,104.4 149.2,104.7 151.9,105.0 154.7,105.4 157.4,105.7 160.1,106.0 162.8,106.3 165.5,106.6 168.2,107.0 171.0,107.3 173.7,107.6 176.4,108.0 179.1,108.3 181.8,108.7 184.5,109.0 187.3,109.4 190.0,109.7 192.7,110.1 195.4,110.5 198.1,110.8 200.9,111.2 203.6,111.6 206.3,112.0 209.0,112.3 211.7,112.7 214.4,113.1 217.2,113.5 219.9,113.9 222.6,114.3 225.3,114.7 228.0,115.1 230.8,115.6 233.5,116.0 236.2,116.4 238.9,116.9 241.6,117.4 244.3,117.8 247.1,118.4 249.8,118.9 252.5,119.4 255.2,120.0 257.9,120.6 260.6,121.2 263.4,121.8 266.1,122.3 268.8,122.9 271.5,123.4 274.2,123.9 277.0,124.4 279.7,124.9 282.4,125.4 285.1,125.9 287.8,126.4 290.5,126.9 293.3,127.4 296.0,127.9 298.7,128.4 301.4,128.9 304.1,129.5 306.8,130.0 309.6,130.5 312.3,131.0 315.0,131.6 317.7,132.1 320.4,132.6 323.2,133.2 325.9,133.7 328.6,134.3 331.3,134.9 334.0,135.5 336.7,136.1 339.5,136.7 342.2,137.3 344.9,137.9 347.6,138.5 350.3,139.2 353.1,139.8 355.8,140.5 358.5,141.2 361.2,141.9 363.9,142.5 366.6,143.2 369.4,143.9 372.1,144.6 374.8,145.3 377.5,146.0 380.2,146.7 382.9,147.5 385.7,148.2 388.4,148.9 391.1,149.6 393.8,150.3 396.5,151.0 399.3,151.8 402.0,152.5 404.7,153.2 407.4,153.9 410.1,154.6 412.8,155.4 415.6,156.1 418.3,156.9 421.0,157.6 423.7,158.4 426.4,159.1 429.2,159.8 431.9,160.5 434.6,161.2 437.3,161.8 440.0,162.5 442.7,163.1 445.5,163.8 448.2,164.4 450.9,165.1 453.6,165.7 456.3,166.4 459.0,167.0 461.8,167.6 464.5,168.2 467.2,168.9 469.9,169.5 472.6,170.1 475.4,170.7 478.1,171.3 480.8,172.0 483.5,172.6 486.2,173.2 488.9,173.8 491.7,174.5 494.4,175.1 497.1,175.7 499.8,176.3 502.5,176.9 505.2,177.5 508.0,178.0 510.7,178.6 513.4,179.2 516.1,179.7 518.8,180.2 521.6,180.7 524.3,181.2 527.0,181.7 529.7,182.2 532.4,182.6 535.1,183.0 537.9,183.5 540.6,183.9 543.3,184.3 546.0,184.7 548.7,185.1 551.5,185.5 554.2,185.9 556.9,186.3 559.6,186.7 562.3,187.1 565.0,187.5 567.8,187.9 570.5,188.3 573.2,188.7 575.9,189.1 578.6,189.5 581.3,189.9 584.1,190.3 586.8,190.7 589.5,191.0 592.2,191.4 594.9,191.8 597.7,192.1 600.4,192.5 603.1,192.9 605.8,193.2 608.5,193.6 611.2,193.9 614.0,194.3 616.7,194.6 619.4,194.9 622.1,195.3 624.8,195.6 627.5,195.9 630.3,196.3 633.0,196.6 635.7,197.0 638.4,197.3 641.1,197.6 643.9,198.0 646.6,198.3 649.3,198.6 652.0,198.9 654.7,199.3 657.4,199.6 660.2,199.9 662.9,200.2 665.6,200.4 668.3,200.7 671.0,200.9 673.8,201.2 676.5,201.4 679.2,201.6 681.9,201.8 684.6,202.0 687.3,202.1 690.1,202.3 692.8,202.4 695.5,202.5 698.2,202.6 700.9,202.7 703.6,202.9 706.4,203.0 709.1,203.1 711.8,203.2 714.5,203.3 717.2,203.4 720.0,203.5 722.7,203.6 725.4,203.7 728.1,203.9 730.8,204.0 733.5,204.1 736.3,204.3 739.0,204.4 741.7,204.5 744.4,204.7 747.1,204.8 749.9,205.0 752.6,205.1 755.3,205.2 758.0,205.4 760.7,205.5 763.4,205.7 766.2,205.8 768.9,206.0 771.6,206.1 774.3,206.3 777.0,206.4 779.7,206.5 782.5,206.7 785.2,206.8 787.9,207.0 790.6,207.1 793.3,207.3 796.1,207.4 798.8,207.5 801.5,207.7 804.2,207.8 806.9,208.0 809.6,208.1 812.4,208.2 815.1,208.4 817.8,208.5 820.5,208.6 823.2,208.8 825.9,208.9 828.7,209.0 831.4,209.1 834.1,209.2 836.8,209.4 839.5,209.5 842.3,209.6 845.0,209.7 847.7,209.8 850.4,209.9 853.1,210.0 855.8,210.1 858.6,210.2 861.3,210.3 864.0,210.4 866.7,210.5 869.4,210.6 872.2,210.7 874.9,210.8 877.6,210.9 880.3,211.0 883.0,211.1 885.7,211.2 888.5,211.3 891.2,211.4 893.9,211.5 896.6,211.6 899.3,211.7 902.0,211.8 904.8,211.9 907.5,212.0 910.2,212.0 912.9,212.1 915.6,212.2 918.4,212.3 921.1,212.4 923.8,212.5 926.5,212.6 929.2,212.7 931.9,212.8 934.7,212.9 937.4,212.9 940.1,213.0 942.8,213.1 945.5,213.2 948.2,213.3 951.0,213.4 953.7,213.5 956.4,213.6 959.1,213.7 961.8,213.8 964.6,213.9 967.3,214.0 970.0,214.1 972.7,214.2 975.4,214.3 978.1,214.4 980.9,214.5 983.6,214.6 986.3,214.7 989.0,214.8 991.7,214.9 994.5,215.0 997.2,215.1 999.9,215.2 1002.6,215.3 1005.3,215.4 1008.0,215.5 1010.8,215.6 1013.5,215.7 1016.2,215.8 1018.9,215.9 1021.6,216.1 1024.3,216.2 1027.1,216.3 1029.8,216.4 1032.5,216.6 1035.2,216.7 1037.9,216.8 1040.7,217.0 1043.4,217.2 1046.1,217.3 1048.8,217.6 1051.5,217.8 1054.2,218.0 1057.0,218.3 1059.7,218.6 1062.4,218.9 1065.1,219.2 1067.8,219.6 1070.6,219.9 1073.3,220.2 1076.0,220.5 1078.7,220.8 1081.4,221.1 1084.1,221.3 1086.9,221.5 1089.6,221.7 1092.3,221.9 1095.0,222.1 1097.7,222.3 1100.4,222.6 1103.2,222.8 1105.9,223.0 1108.6,223.3 1111.3,223.7 1114.0,224.1 1116.8,224.5 1119.5,225.0 1122.2,225.6 1124.9,226.2 1127.6,226.8 1130.3,227.4 1133.1,228.1 1135.8,228.7 1138.5,229.4 1141.2,230.0 1143.9,230.7 1146.6,231.4 1149.4,232.1 1152.1,232.9 1154.8,233.6 1157.5,234.4 1160.2,235.2 1163.0,236.0 1165.7,236.8 1168.4,237.7 1171.1,238.5 1173.8,239.4 1176.5,240.3 1179.3,241.3 1182.0,242.2 1184.7,243.1 1187.4,244.1 1190.1,245.0 1192.9,246.0 1195.6,246.9 1198.3,247.9 1201.0,248.8 1203.7,249.8 1206.4,250.8 1209.2,251.8 1211.9,252.9 1214.6,254.0 1217.3,255.1 1220.0,256.4 1222.7,257.7 1225.5,259.1 1228.2,260.5 1230.9,261.9" fill="none" stroke="#000" stroke-width="4.4" stroke-linejoin="round" stroke-linecap="butt"/><path d="M155.3 110.3L145.7 104.8L145.7 115.8Z" fill="#c4c4c4" stroke="#000" stroke-width="1.1"/><path d="M168.6 111.8L159.0 106.3L159.0 117.3Z" fill="#c4c4c4" stroke="#000" stroke-width="1.1"/><path d="M182.0 113.3L172.3 107.8L172.3 118.8Z" fill="#c4c4c4" stroke="#000" stroke-width="1.1"/><path d="M195.3 114.9L185.7 109.4L185.7 120.4Z" fill="#c4c4c4" stroke="#000" stroke-width="1.1"/><path d="M208.6 116.6L199.0 111.1L199.0 122.1Z" fill="#c4c4c4" stroke="#000" stroke-width="1.1"/><path d="M222.0 118.4L212.4 112.9L212.4 123.9Z" fill="#c4c4c4" stroke="#000" stroke-width="1.1"/><path d="M235.3 120.4L225.7 114.9L225.7 125.9Z" fill="#c4c4c4" stroke="#000" stroke-width="1.1"/><path d="M248.7 122.5L239.0 117.0L239.0 128.0Z" fill="#c4c4c4" stroke="#000" stroke-width="1.1"/><path d="M262.0 125.0L252.4 119.5L252.4 130.5Z" fill="#c4c4c4" stroke="#000" stroke-width="1.1"/><path d="M275.3 127.7L265.7 122.2L265.7 133.2Z" fill="#c4c4c4" stroke="#000" stroke-width="1.1"/><path d="M288.7 130.0L279.0 124.5L279.0 135.5Z" fill="#c4c4c4" stroke="#000" stroke-width="1.1"/><path d="M302.0 132.4L292.4 126.9L292.4 137.9Z" fill="#c4c4c4" stroke="#000" stroke-width="1.1"/><path d="M315.3 134.9L305.7 129.4L305.7 140.4Z" fill="#c4c4c4" stroke="#000" stroke-width="1.1"/><path d="M328.7 137.4L319.0 131.9L319.0 142.9Z" fill="#c4c4c4" stroke="#000" stroke-width="1.1"/><path d="M342.0 140.2L332.4 134.7L332.4 145.7Z" fill="#c4c4c4" stroke="#000" stroke-width="1.1"/><path d="M355.3 143.1L345.7 137.6L345.7 148.6Z" fill="#c4c4c4" stroke="#000" stroke-width="1.1"/><path d="M368.7 146.2L359.1 140.7L359.1 151.7Z" fill="#c4c4c4" stroke="#000" stroke-width="1.1"/><path d="M382.0 149.4L372.4 143.9L372.4 154.9Z" fill="#c4c4c4" stroke="#000" stroke-width="1.1"/><path d="M395.3 152.7L385.7 147.2L385.7 158.2Z" fill="#c4c4c4" stroke="#000" stroke-width="1.1"/><path d="M408.7 156.0L399.1 150.5L399.1 161.5Z" fill="#c4c4c4" stroke="#000" stroke-width="1.1"/><path d="M422.0 159.4L412.4 153.9L412.4 164.9Z" fill="#c4c4c4" stroke="#000" stroke-width="1.1"/><path d="M435.4 162.8L425.7 157.3L425.7 168.3Z" fill="#c4c4c4" stroke="#000" stroke-width="1.1"/><path d="M448.7 165.9L439.1 160.4L439.1 171.4Z" fill="#c4c4c4" stroke="#000" stroke-width="1.1"/><path d="M462.0 168.9L452.4 163.4L452.4 174.4Z" fill="#c4c4c4" stroke="#000" stroke-width="1.1"/><path d="M475.4 171.9L465.7 166.4L465.7 177.4Z" fill="#c4c4c4" stroke="#000" stroke-width="1.1"/><path d="M488.7 174.8L479.1 169.3L479.1 180.3Z" fill="#c4c4c4" stroke="#000" stroke-width="1.1"/><path d="M502.0 177.7L492.4 172.2L492.4 183.2Z" fill="#c4c4c4" stroke="#000" stroke-width="1.1"/><path d="M515.4 180.4L505.7 174.9L505.7 185.9Z" fill="#c4c4c4" stroke="#000" stroke-width="1.1"/><path d="M528.7 182.9L519.1 177.4L519.1 188.4Z" fill="#c4c4c4" stroke="#000" stroke-width="1.1"/><path d="M542.0 185.1L532.4 179.6L532.4 190.6Z" fill="#c4c4c4" stroke="#000" stroke-width="1.1"/><path d="M555.4 187.1L545.8 181.6L545.8 192.6Z" fill="#c4c4c4" stroke="#000" stroke-width="1.1"/><path d="M568.7 189.0L559.1 183.5L559.1 194.5Z" fill="#c4c4c4" stroke="#000" stroke-width="1.1"/><path d="M582.1 190.9L572.4 185.4L572.4 196.4Z" fill="#c4c4c4" stroke="#000" stroke-width="1.1"/><path d="M595.4 192.7L585.8 187.2L585.8 198.2Z" fill="#c4c4c4" stroke="#000" stroke-width="1.1"/><path d="M608.7 194.5L599.1 189.0L599.1 200.0Z" fill="#c4c4c4" stroke="#000" stroke-width="1.1"/><path d="M622.1 196.2L612.4 190.7L612.4 201.7Z" fill="#c4c4c4" stroke="#000" stroke-width="1.1"/><path d="M635.4 197.7L625.8 192.2L625.8 203.2Z" fill="#c4c4c4" stroke="#000" stroke-width="1.1"/><path d="M648.7 199.3L639.1 193.8L639.1 204.8Z" fill="#c4c4c4" stroke="#000" stroke-width="1.1"/><path d="M662.1 200.9L652.4 195.4L652.4 206.4Z" fill="#c4c4c4" stroke="#000" stroke-width="1.1"/><path d="M675.4 202.2L665.8 196.7L665.8 207.7Z" fill="#c4c4c4" stroke="#000" stroke-width="1.1"/><path d="M688.7 203.2L679.1 197.7L679.1 208.7Z" fill="#c4c4c4" stroke="#000" stroke-width="1.1"/><path d="M702.1 203.9L692.5 198.4L692.5 209.4Z" fill="#c4c4c4" stroke="#000" stroke-width="1.1"/><path d="M715.4 204.4L705.8 198.9L705.8 209.9Z" fill="#c4c4c4" stroke="#000" stroke-width="1.1"/><path d="M728.7 204.9L719.1 199.4L719.1 210.4Z" fill="#c4c4c4" stroke="#000" stroke-width="1.1"/><path d="M742.1 205.6L732.5 200.1L732.5 211.1Z" fill="#c4c4c4" stroke="#000" stroke-width="1.1"/><path d="M755.4 206.2L745.8 200.7L745.8 211.7Z" fill="#c4c4c4" stroke="#000" stroke-width="1.1"/><path d="M768.8 206.9L759.1 201.4L759.1 212.4Z" fill="#c4c4c4" stroke="#000" stroke-width="1.1"/><path d="M782.1 207.6L772.5 202.1L772.5 213.1Z" fill="#c4c4c4" stroke="#000" stroke-width="1.1"/><path d="M795.4 208.3L785.8 202.8L785.8 213.8Z" fill="#c4c4c4" stroke="#000" stroke-width="1.1"/><path d="M808.8 209.0L799.1 203.5L799.1 214.5Z" fill="#c4c4c4" stroke="#000" stroke-width="1.1"/><path d="M822.1 209.6L812.5 204.1L812.5 215.1Z" fill="#c4c4c4" stroke="#000" stroke-width="1.1"/><path d="M835.4 210.3L825.8 204.8L825.8 215.8Z" fill="#c4c4c4" stroke="#000" stroke-width="1.1"/><path d="M848.8 210.8L839.1 205.3L839.1 216.3Z" fill="#c4c4c4" stroke="#000" stroke-width="1.1"/><path d="M862.1 211.3L852.5 205.8L852.5 216.8Z" fill="#c4c4c4" stroke="#000" stroke-width="1.1"/><path d="M875.4 211.8L865.8 206.3L865.8 217.3Z" fill="#c4c4c4" stroke="#000" stroke-width="1.1"/><path d="M888.8 212.3L879.2 206.8L879.2 217.8Z" fill="#c4c4c4" stroke="#000" stroke-width="1.1"/><path d="M902.1 212.7L892.5 207.2L892.5 218.2Z" fill="#c4c4c4" stroke="#000" stroke-width="1.1"/><path d="M915.5 213.2L905.8 207.7L905.8 218.7Z" fill="#c4c4c4" stroke="#000" stroke-width="1.1"/><path d="M928.8 213.6L919.2 208.1L919.2 219.1Z" fill="#c4c4c4" stroke="#000" stroke-width="1.1"/><path d="M942.1 214.1L932.5 208.6L932.5 219.6Z" fill="#c4c4c4" stroke="#000" stroke-width="1.1"/><path d="M955.5 214.5L945.8 209.0L945.8 220.0Z" fill="#c4c4c4" stroke="#000" stroke-width="1.1"/><path d="M968.8 215.0L959.2 209.5L959.2 220.5Z" fill="#c4c4c4" stroke="#000" stroke-width="1.1"/><path d="M982.1 215.5L972.5 210.0L972.5 221.0Z" fill="#c4c4c4" stroke="#000" stroke-width="1.1"/><path d="M995.5 216.0L985.8 210.5L985.8 221.5Z" fill="#c4c4c4" stroke="#000" stroke-width="1.1"/><path d="M1008.8 216.5L999.2 211.0L999.2 222.0Z" fill="#c4c4c4" stroke="#000" stroke-width="1.1"/><path d="M1022.1 217.1L1012.5 211.6L1012.5 222.6Z" fill="#c4c4c4" stroke="#000" stroke-width="1.1"/><path d="M1035.5 217.7L1025.9 212.2L1025.9 223.2Z" fill="#c4c4c4" stroke="#000" stroke-width="1.1"/><path d="M1048.8 218.5L1039.2 213.0L1039.2 224.0Z" fill="#c4c4c4" stroke="#000" stroke-width="1.1"/><path d="M1062.1 219.7L1052.5 214.2L1052.5 225.2Z" fill="#c4c4c4" stroke="#000" stroke-width="1.1"/><path d="M1075.5 221.2L1065.9 215.7L1065.9 226.7Z" fill="#c4c4c4" stroke="#000" stroke-width="1.1"/><path d="M1088.8 222.7L1079.2 217.2L1079.2 228.2Z" fill="#c4c4c4" stroke="#000" stroke-width="1.1"/><path d="M1102.2 223.8L1092.5 218.3L1092.5 229.3Z" fill="#c4c4c4" stroke="#000" stroke-width="1.1"/><path d="M1115.5 225.1L1105.9 219.6L1105.9 230.6Z" fill="#c4c4c4" stroke="#000" stroke-width="1.1"/><path d="M1128.8 227.5L1119.2 222.0L1119.2 233.0Z" fill="#c4c4c4" stroke="#000" stroke-width="1.1"/><path d="M1142.2 230.7L1132.5 225.2L1132.5 236.2Z" fill="#c4c4c4" stroke="#000" stroke-width="1.1"/><path d="M1155.5 234.1L1145.9 228.6L1145.9 239.6Z" fill="#c4c4c4" stroke="#000" stroke-width="1.1"/><path d="M1168.8 238.0L1159.2 232.5L1159.2 243.5Z" fill="#c4c4c4" stroke="#000" stroke-width="1.1"/><path d="M1182.2 242.4L1172.5 236.9L1172.5 247.9Z" fill="#c4c4c4" stroke="#000" stroke-width="1.1"/><path d="M1195.5 247.1L1185.9 241.6L1185.9 252.6Z" fill="#c4c4c4" stroke="#000" stroke-width="1.1"/><path d="M1208.8 251.9L1199.2 246.4L1199.2 257.4Z" fill="#c4c4c4" stroke="#000" stroke-width="1.1"/><path d="M1222.2 257.1L1212.6 251.6L1212.6 262.6Z" fill="#c4c4c4" stroke="#000" stroke-width="1.1"/><path d="M1235.5 263.8L1225.9 258.3L1225.9 269.3Z" fill="#c4c4c4" stroke="#000" stroke-width="1.1"/><polyline points="146.5,109.0 149.2,109.3 151.9,109.5 154.7,109.8 157.4,110.1 160.1,110.4 162.8,110.7 165.5,111.0 168.2,111.3 171.0,111.6 173.7,112.0 176.4,112.3 179.1,112.6 181.8,112.9 184.5,113.3 187.3,113.6 190.0,114.0 192.7,114.3 195.4,114.6 198.1,115.0 200.9,115.3 203.6,115.7 206.3,116.1 209.0,116.4 211.7,116.8 214.4,117.2 217.2,117.5 219.9,117.9 222.6,118.3 225.3,118.7 228.0,119.1 230.8,119.5 233.5,119.9 236.2,120.3 238.9,120.8 241.6,121.2 244.3,121.7 247.1,122.2 249.8,122.7 252.5,123.2 255.2,123.8 257.9,124.3 260.6,124.9 263.4,125.4 266.1,126.0 268.8,126.5 271.5,127.0 274.2,127.5 277.0,128.0 279.7,128.4 282.4,128.9 285.1,129.4 287.8,129.8 290.5,130.3 293.3,130.8 296.0,131.3 298.7,131.8 301.4,132.3 304.1,132.8 306.8,133.3 309.6,133.8 312.3,134.3 315.0,134.8 317.7,135.4 320.4,135.9 323.2,136.4 325.9,137.0 328.6,137.5 331.3,138.1 334.0,138.6 336.7,139.2 339.5,139.8 342.2,140.4 344.9,141.0 347.6,141.6 350.3,142.2 353.1,142.8 355.8,143.4 358.5,144.1 361.2,144.7 363.9,145.3 366.6,146.0 369.4,146.6 372.1,147.3 374.8,148.0 377.5,148.6 380.2,149.3 382.9,150.0 385.7,150.6 388.4,151.3 391.1,152.0 393.8,152.6 396.5,153.3 399.3,154.0 402.0,154.7 404.7,155.3 407.4,156.0 410.1,156.7 412.8,157.4 415.6,158.2 418.3,158.9 421.0,159.6 423.7,160.3 426.4,161.0 429.2,161.6 431.9,162.3 434.6,162.9 437.3,163.6 440.0,164.2 442.7,164.8 445.5,165.5 448.2,166.1 450.9,166.7 453.6,167.3 456.3,167.9 459.0,168.5 461.8,169.1 464.5,169.7 467.2,170.3 469.9,170.9 472.6,171.5 475.4,172.1 478.1,172.7 480.8,173.3 483.5,173.8 486.2,174.4 488.9,175.0 491.7,175.6 494.4,176.2 497.1,176.8 499.8,177.4 502.5,177.9 505.2,178.5 508.0,179.1 510.7,179.6 513.4,180.1 516.1,180.7 518.8,181.2 521.6,181.6 524.3,182.1 527.0,182.6 529.7,183.0 532.4,183.5 535.1,183.9 537.9,184.3 540.6,184.7 543.3,185.1 546.0,185.5 548.7,185.9 551.5,186.3 554.2,186.7 556.9,187.1 559.6,187.5 562.3,187.9 565.0,188.3 567.8,188.6 570.5,189.0 573.2,189.4 575.9,189.8 578.6,190.2 581.3,190.6 584.1,190.9 586.8,191.3 589.5,191.7 592.2,192.0 594.9,192.4 597.7,192.8 600.4,193.1 603.1,193.5 605.8,193.8 608.5,194.2 611.2,194.5 614.0,194.8 616.7,195.2 619.4,195.5 622.1,195.8 624.8,196.1 627.5,196.5 630.3,196.8 633.0,197.1 635.7,197.4 638.4,197.8 641.1,198.1 643.9,198.4 646.6,198.7 649.3,199.0 652.0,199.4 654.7,199.7 657.4,200.0 660.2,200.2 662.9,200.5 665.6,200.8 668.3,201.0 671.0,201.3 673.8,201.5 676.5,201.7 679.2,201.9 681.9,202.1 684.6,202.3 687.3,202.4 690.1,202.6 692.8,202.7 695.5,202.8 698.2,202.9 700.9,203.0 703.6,203.2 706.4,203.3 709.1,203.4 711.8,203.5 714.5,203.6 717.2,203.7 720.0,203.8 722.7,203.9 725.4,204.0 728.1,204.2 730.8,204.3 733.5,204.4 736.3,204.6 739.0,204.7 741.7,204.8 744.4,205.0 747.1,205.1 749.9,205.2 752.6,205.4 755.3,205.5 758.0,205.7 760.7,205.8 763.4,205.9 766.2,206.1 768.9,206.2 771.6,206.4 774.3,206.5 777.0,206.6 779.7,206.8 782.5,206.9 785.2,207.1 787.9,207.2 790.6,207.3 793.3,207.5 796.1,207.6 798.8,207.8 801.5,207.9 804.2,208.0 806.9,208.2 809.6,208.3 812.4,208.4 815.1,208.6 817.8,208.7 820.5,208.8 823.2,209.0 825.9,209.1 828.7,209.2 831.4,209.3 834.1,209.4 836.8,209.6 839.5,209.7 842.3,209.8 845.0,209.9 847.7,210.0 850.4,210.1 853.1,210.2 855.8,210.3 858.6,210.4 861.3,210.5 864.0,210.6 866.7,210.7 869.4,210.8 872.2,210.9 874.9,211.0 877.6,211.1 880.3,211.2 883.0,211.3 885.7,211.4 888.5,211.5 891.2,211.6 893.9,211.7 896.6,211.7 899.3,211.8 902.0,211.9 904.8,212.0 907.5,212.1 910.2,212.2 912.9,212.3 915.6,212.4 918.4,212.5 921.1,212.5 923.8,212.6 926.5,212.7 929.2,212.8 931.9,212.9 934.7,213.0 937.4,213.1 940.1,213.2 942.8,213.3 945.5,213.3 948.2,213.4 951.0,213.5 953.7,213.6 956.4,213.7 959.1,213.8 961.8,213.9 964.6,214.0 967.3,214.1 970.0,214.2 972.7,214.3 975.4,214.4 978.1,214.5 980.9,214.6 983.6,214.7 986.3,214.9 989.0,215.0 991.7,215.1 994.5,215.2 997.2,215.3 999.9,215.4 1002.6,215.5 1005.3,215.6 1008.0,215.7 1010.8,215.8 1013.5,216.0 1016.2,216.1 1018.9,216.2 1021.6,216.3 1024.3,216.5 1027.1,216.6 1029.8,216.7 1032.5,216.9 1035.2,217.0 1037.9,217.2 1040.7,217.3 1043.4,217.5 1046.1,217.7 1048.8,217.9 1051.5,218.2 1054.2,218.4 1057.0,218.7 1059.7,219.0 1062.4,219.3 1065.1,219.6 1067.8,220.0 1070.6,220.3 1073.3,220.6 1076.0,220.9 1078.7,221.2 1081.4,221.5 1084.1,221.7 1086.9,222.0 1089.6,222.2 1092.3,222.4 1095.0,222.6 1097.7,222.9 1100.4,223.1 1103.2,223.3 1105.9,223.6 1108.6,223.9 1111.3,224.3 1114.0,224.7 1116.8,225.2 1119.5,225.7 1122.2,226.3 1124.9,226.9 1127.6,227.5 1130.3,228.2 1133.1,228.8 1135.8,229.5 1138.5,230.1 1141.2,230.8 1143.9,231.5 1146.6,232.2 1149.4,233.0 1152.1,233.7 1154.8,234.5 1157.5,235.3 1160.2,236.1 1163.0,236.9 1165.7,237.7 1168.4,238.6 1171.1,239.5 1173.8,240.4 1176.5,241.3 1179.3,242.3 1182.0,243.3 1184.7,244.2 1187.4,245.2 1190.1,246.2 1192.9,247.1 1195.6,248.1 1198.3,249.1 1201.0,250.0 1203.7,251.0 1206.4,252.0 1209.2,253.1 1211.9,254.1 1214.6,255.2 1217.3,256.4 1220.0,257.7 1222.7,259.0 1225.5,260.4 1228.2,261.8 1230.9,263.3" fill="none" stroke="#000" stroke-width="4.4" stroke-linejoin="round" stroke-linecap="butt"/><rect x="145.1" y="119.6" width="9.3" height="9.3" fill="#c4c4c4" stroke="#000" stroke-width="1.1"/><rect x="158.5" y="120.7" width="9.3" height="9.3" fill="#c4c4c4" stroke="#000" stroke-width="1.1"/><rect x="171.8" y="122.0" width="9.3" height="9.3" fill="#c4c4c4" stroke="#000" stroke-width="1.1"/><rect x="185.1" y="123.3" width="9.3" height="9.3" fill="#c4c4c4" stroke="#000" stroke-width="1.1"/><rect x="198.5" y="124.7" width="9.3" height="9.3" fill="#c4c4c4" stroke="#000" stroke-width="1.1"/><rect x="211.8" y="126.3" width="9.3" height="9.3" fill="#c4c4c4" stroke="#000" stroke-width="1.1"/><rect x="225.1" y="127.9" width="9.3" height="9.3" fill="#c4c4c4" stroke="#000" stroke-width="1.1"/><rect x="238.5" y="129.8" width="9.3" height="9.3" fill="#c4c4c4" stroke="#000" stroke-width="1.1"/><rect x="251.8" y="132.0" width="9.3" height="9.3" fill="#c4c4c4" stroke="#000" stroke-width="1.1"/><rect x="265.1" y="134.3" width="9.3" height="9.3" fill="#c4c4c4" stroke="#000" stroke-width="1.1"/><rect x="278.5" y="136.3" width="9.3" height="9.3" fill="#c4c4c4" stroke="#000" stroke-width="1.1"/><rect x="291.8" y="138.2" width="9.3" height="9.3" fill="#c4c4c4" stroke="#000" stroke-width="1.1"/><rect x="305.2" y="140.5" width="9.3" height="9.3" fill="#c4c4c4" stroke="#000" stroke-width="1.1"/><rect x="318.5" y="142.9" width="9.3" height="9.3" fill="#c4c4c4" stroke="#000" stroke-width="1.1"/><rect x="331.8" y="145.3" width="9.3" height="9.3" fill="#c4c4c4" stroke="#000" stroke-width="1.1"/><rect x="345.2" y="147.8" width="9.3" height="9.3" fill="#c4c4c4" stroke="#000" stroke-width="1.1"/><rect x="358.5" y="150.4" width="9.3" height="9.3" fill="#c4c4c4" stroke="#000" stroke-width="1.1"/><rect x="371.8" y="152.9" width="9.3" height="9.3" fill="#c4c4c4" stroke="#000" stroke-width="1.1"/><rect x="385.2" y="155.6" width="9.3" height="9.3" fill="#c4c4c4" stroke="#000" stroke-width="1.1"/><rect x="398.5" y="158.3" width="9.3" height="9.3" fill="#c4c4c4" stroke="#000" stroke-width="1.1"/><rect x="411.8" y="161.2" width="9.3" height="9.3" fill="#c4c4c4" stroke="#000" stroke-width="1.1"/><rect x="425.2" y="164.1" width="9.3" height="9.3" fill="#c4c4c4" stroke="#000" stroke-width="1.1"/><rect x="438.5" y="166.8" width="9.3" height="9.3" fill="#c4c4c4" stroke="#000" stroke-width="1.1"/><rect x="451.9" y="169.3" width="9.3" height="9.3" fill="#c4c4c4" stroke="#000" stroke-width="1.1"/><rect x="465.2" y="171.8" width="9.3" height="9.3" fill="#c4c4c4" stroke="#000" stroke-width="1.1"/><rect x="478.5" y="174.3" width="9.3" height="9.3" fill="#c4c4c4" stroke="#000" stroke-width="1.1"/><rect x="491.9" y="176.8" width="9.3" height="9.3" fill="#c4c4c4" stroke="#000" stroke-width="1.1"/><rect x="505.2" y="179.2" width="9.3" height="9.3" fill="#c4c4c4" stroke="#000" stroke-width="1.1"/><rect x="518.5" y="181.4" width="9.3" height="9.3" fill="#c4c4c4" stroke="#000" stroke-width="1.1"/><rect x="531.9" y="183.4" width="9.3" height="9.3" fill="#c4c4c4" stroke="#000" stroke-width="1.1"/><rect x="545.2" y="185.2" width="9.3" height="9.3" fill="#c4c4c4" stroke="#000" stroke-width="1.1"/><rect x="558.5" y="187.0" width="9.3" height="9.3" fill="#c4c4c4" stroke="#000" stroke-width="1.1"/><rect x="571.9" y="188.8" width="9.3" height="9.3" fill="#c4c4c4" stroke="#000" stroke-width="1.1"/><rect x="585.2" y="190.5" width="9.3" height="9.3" fill="#c4c4c4" stroke="#000" stroke-width="1.1"/><rect x="598.5" y="192.2" width="9.3" height="9.3" fill="#c4c4c4" stroke="#000" stroke-width="1.1"/><rect x="611.9" y="193.7" width="9.3" height="9.3" fill="#c4c4c4" stroke="#000" stroke-width="1.1"/><rect x="625.2" y="195.1" width="9.3" height="9.3" fill="#c4c4c4" stroke="#000" stroke-width="1.1"/><rect x="638.6" y="196.5" width="9.3" height="9.3" fill="#c4c4c4" stroke="#000" stroke-width="1.1"/><rect x="651.9" y="197.8" width="9.3" height="9.3" fill="#c4c4c4" stroke="#000" stroke-width="1.1"/><rect x="665.2" y="199.0" width="9.3" height="9.3" fill="#c4c4c4" stroke="#000" stroke-width="1.1"/><rect x="678.6" y="199.9" width="9.3" height="9.3" fill="#c4c4c4" stroke="#000" stroke-width="1.1"/><rect x="691.9" y="200.6" width="9.3" height="9.3" fill="#c4c4c4" stroke="#000" stroke-width="1.1"/><rect x="705.2" y="201.1" width="9.3" height="9.3" fill="#c4c4c4" stroke="#000" stroke-width="1.1"/><rect x="718.6" y="201.7" width="9.3" height="9.3" fill="#c4c4c4" stroke="#000" stroke-width="1.1"/><rect x="731.9" y="202.3" width="9.3" height="9.3" fill="#c4c4c4" stroke="#000" stroke-width="1.1"/><rect x="745.2" y="202.9" width="9.3" height="9.3" fill="#c4c4c4" stroke="#000" stroke-width="1.1"/><rect x="758.6" y="203.5" width="9.3" height="9.3" fill="#c4c4c4" stroke="#000" stroke-width="1.1"/><rect x="771.9" y="204.2" width="9.3" height="9.3" fill="#c4c4c4" stroke="#000" stroke-width="1.1"/><rect x="785.3" y="204.8" width="9.3" height="9.3" fill="#c4c4c4" stroke="#000" stroke-width="1.1"/><rect x="798.6" y="205.5" width="9.3" height="9.3" fill="#c4c4c4" stroke="#000" stroke-width="1.1"/><rect x="811.9" y="206.1" width="9.3" height="9.3" fill="#c4c4c4" stroke="#000" stroke-width="1.1"/><rect x="825.3" y="206.7" width="9.3" height="9.3" fill="#c4c4c4" stroke="#000" stroke-width="1.1"/><rect x="838.6" y="207.2" width="9.3" height="9.3" fill="#c4c4c4" stroke="#000" stroke-width="1.1"/><rect x="851.9" y="207.7" width="9.3" height="9.3" fill="#c4c4c4" stroke="#000" stroke-width="1.1"/><rect x="865.3" y="208.2" width="9.3" height="9.3" fill="#c4c4c4" stroke="#000" stroke-width="1.1"/><rect x="878.6" y="208.6" width="9.3" height="9.3" fill="#c4c4c4" stroke="#000" stroke-width="1.1"/><rect x="891.9" y="209.0" width="9.3" height="9.3" fill="#c4c4c4" stroke="#000" stroke-width="1.1"/><rect x="905.3" y="209.4" width="9.3" height="9.3" fill="#c4c4c4" stroke="#000" stroke-width="1.1"/><rect x="918.6" y="209.9" width="9.3" height="9.3" fill="#c4c4c4" stroke="#000" stroke-width="1.1"/><rect x="931.9" y="210.3" width="9.3" height="9.3" fill="#c4c4c4" stroke="#000" stroke-width="1.1"/><rect x="945.3" y="210.7" width="9.3" height="9.3" fill="#c4c4c4" stroke="#000" stroke-width="1.1"/><rect x="958.6" y="211.2" width="9.3" height="9.3" fill="#c4c4c4" stroke="#000" stroke-width="1.1"/><rect x="972.0" y="211.7" width="9.3" height="9.3" fill="#c4c4c4" stroke="#000" stroke-width="1.1"/><rect x="985.3" y="212.3" width="9.3" height="9.3" fill="#c4c4c4" stroke="#000" stroke-width="1.1"/><rect x="998.6" y="213.0" width="9.3" height="9.3" fill="#c4c4c4" stroke="#000" stroke-width="1.1"/><rect x="1012.0" y="213.7" width="9.3" height="9.3" fill="#c4c4c4" stroke="#000" stroke-width="1.1"/><rect x="1025.3" y="214.5" width="9.3" height="9.3" fill="#c4c4c4" stroke="#000" stroke-width="1.1"/><rect x="1038.6" y="215.4" width="9.3" height="9.3" fill="#c4c4c4" stroke="#000" stroke-width="1.1"/><rect x="1052.0" y="216.7" width="9.3" height="9.3" fill="#c4c4c4" stroke="#000" stroke-width="1.1"/><rect x="1065.3" y="218.2" width="9.3" height="9.3" fill="#c4c4c4" stroke="#000" stroke-width="1.1"/><rect x="1078.6" y="219.8" width="9.3" height="9.3" fill="#c4c4c4" stroke="#000" stroke-width="1.1"/><rect x="1092.0" y="221.1" width="9.3" height="9.3" fill="#c4c4c4" stroke="#000" stroke-width="1.1"/><rect x="1105.3" y="222.7" width="9.3" height="9.3" fill="#c4c4c4" stroke="#000" stroke-width="1.1"/><rect x="1118.7" y="225.4" width="9.3" height="9.3" fill="#c4c4c4" stroke="#000" stroke-width="1.1"/><rect x="1132.0" y="228.9" width="9.3" height="9.3" fill="#c4c4c4" stroke="#000" stroke-width="1.1"/><rect x="1145.3" y="232.5" width="9.3" height="9.3" fill="#c4c4c4" stroke="#000" stroke-width="1.1"/><rect x="1158.7" y="236.5" width="9.3" height="9.3" fill="#c4c4c4" stroke="#000" stroke-width="1.1"/><rect x="1172.0" y="241.2" width="9.3" height="9.3" fill="#c4c4c4" stroke="#000" stroke-width="1.1"/><rect x="1185.3" y="246.3" width="9.3" height="9.3" fill="#c4c4c4" stroke="#000" stroke-width="1.1"/><rect x="1198.7" y="251.3" width="9.3" height="9.3" fill="#c4c4c4" stroke="#000" stroke-width="1.1"/><rect x="1212.0" y="256.7" width="9.3" height="9.3" fill="#c4c4c4" stroke="#000" stroke-width="1.1"/><rect x="1225.3" y="263.6" width="9.3" height="9.3" fill="#c4c4c4" stroke="#000" stroke-width="1.1"/><polyline points="146.5,122.5 149.2,122.7 151.9,122.9 154.7,123.1 157.4,123.4 160.1,123.6 162.8,123.9 165.5,124.1 168.2,124.4 171.0,124.6 173.7,124.9 176.4,125.1 179.1,125.4 181.8,125.7 184.5,125.9 187.3,126.2 190.0,126.5 192.7,126.8 195.4,127.1 198.1,127.4 200.9,127.7 203.6,128.0 206.3,128.3 209.0,128.6 211.7,128.9 214.4,129.2 217.2,129.5 219.9,129.8 222.6,130.2 225.3,130.5 228.0,130.9 230.8,131.2 233.5,131.6 236.2,131.9 238.9,132.3 241.6,132.7 244.3,133.1 247.1,133.5 249.8,134.0 252.5,134.5 255.2,135.0 257.9,135.4 260.6,135.9 263.4,136.4 266.1,136.9 268.8,137.3 271.5,137.8 274.2,138.2 277.0,138.6 279.7,139.0 282.4,139.3 285.1,139.7 287.8,140.1 290.5,140.5 293.3,140.9 296.0,141.3 298.7,141.8 301.4,142.2 304.1,142.7 306.8,143.1 309.6,143.6 312.3,144.1 315.0,144.6 317.7,145.0 320.4,145.5 323.2,146.0 325.9,146.5 328.6,147.0 331.3,147.6 334.0,148.1 336.7,148.6 339.5,149.1 342.2,149.6 344.9,150.1 347.6,150.6 350.3,151.1 353.1,151.6 355.8,152.1 358.5,152.6 361.2,153.2 363.9,153.7 366.6,154.2 369.4,154.7 372.1,155.2 374.8,155.8 377.5,156.3 380.2,156.8 382.9,157.4 385.7,157.9 388.4,158.5 391.1,159.0 393.8,159.6 396.5,160.1 399.3,160.7 402.0,161.2 404.7,161.8 407.4,162.4 410.1,163.0 412.8,163.6 415.6,164.2 418.3,164.8 421.0,165.4 423.7,166.0 426.4,166.6 429.2,167.1 431.9,167.7 434.6,168.2 437.3,168.8 440.0,169.3 442.7,169.8 445.5,170.4 448.2,170.9 450.9,171.4 453.6,171.9 456.3,172.5 459.0,173.0 461.8,173.5 464.5,174.0 467.2,174.5 469.9,175.0 472.6,175.5 475.4,176.0 478.1,176.5 480.8,177.0 483.5,177.6 486.2,178.1 488.9,178.6 491.7,179.1 494.4,179.6 497.1,180.1 499.8,180.6 502.5,181.1 505.2,181.6 508.0,182.1 510.7,182.5 513.4,183.0 516.1,183.5 518.8,183.9 521.6,184.3 524.3,184.8 527.0,185.2 529.7,185.6 532.4,186.0 535.1,186.4 537.9,186.7 540.6,187.1 543.3,187.5 546.0,187.8 548.7,188.2 551.5,188.6 554.2,188.9 556.9,189.3 559.6,189.7 562.3,190.0 565.0,190.4 567.8,190.8 570.5,191.1 573.2,191.5 575.9,191.9 578.6,192.2 581.3,192.6 584.1,192.9 586.8,193.3 589.5,193.6 592.2,194.0 594.9,194.3 597.7,194.7 600.4,195.0 603.1,195.3 605.8,195.6 608.5,196.0 611.2,196.3 614.0,196.6 616.7,196.9 619.4,197.2 622.1,197.5 624.8,197.7 627.5,198.0 630.3,198.3 633.0,198.6 635.7,198.9 638.4,199.2 641.1,199.5 643.9,199.8 646.6,200.0 649.3,200.3 652.0,200.6 654.7,200.8 657.4,201.1 660.2,201.3 662.9,201.6 665.6,201.8 668.3,202.0 671.0,202.3 673.8,202.5 676.5,202.7 679.2,202.8 681.9,203.0 684.6,203.2 687.3,203.3 690.1,203.5 692.8,203.6 695.5,203.7 698.2,203.8 700.9,203.9 703.6,204.0 706.4,204.1 709.1,204.2 711.8,204.4 714.5,204.5 717.2,204.6 720.0,204.7 722.7,204.8 725.4,204.9 728.1,205.1 730.8,205.2 733.5,205.3 736.3,205.4 739.0,205.6 741.7,205.7 744.4,205.8 747.1,205.9 749.9,206.1 752.6,206.2 755.3,206.3 758.0,206.5 760.7,206.6 763.4,206.7 766.2,206.9 768.9,207.0 771.6,207.1 774.3,207.3 777.0,207.4 779.7,207.5 782.5,207.6 785.2,207.8 787.9,207.9 790.6,208.0 793.3,208.2 796.1,208.3 798.8,208.4 801.5,208.6 804.2,208.7 806.9,208.8 809.6,208.9 812.4,209.1 815.1,209.2 817.8,209.3 820.5,209.4 823.2,209.5 825.9,209.7 828.7,209.8 831.4,209.9 834.1,210.0 836.8,210.1 839.5,210.2 842.3,210.3 845.0,210.4 847.7,210.5 850.4,210.6 853.1,210.7 855.8,210.8 858.6,210.9 861.3,211.0 864.0,211.1 866.7,211.2 869.4,211.3 872.2,211.4 874.9,211.5 877.6,211.6 880.3,211.7 883.0,211.8 885.7,211.9 888.5,211.9 891.2,212.0 893.9,212.1 896.6,212.2 899.3,212.3 902.0,212.4 904.8,212.5 907.5,212.5 910.2,212.6 912.9,212.7 915.6,212.8 918.4,212.9 921.1,213.0 923.8,213.0 926.5,213.1 929.2,213.2 931.9,213.3 934.7,213.4 937.4,213.5 940.1,213.6 942.8,213.7 945.5,213.8 948.2,213.9 951.0,213.9 953.7,214.0 956.4,214.1 959.1,214.2 961.8,214.3 964.6,214.4 967.3,214.5 970.0,214.7 972.7,214.8 975.4,214.9 978.1,215.0 980.9,215.1 983.6,215.2 986.3,215.3 989.0,215.5 991.7,215.6 994.5,215.7 997.2,215.8 999.9,216.0 1002.6,216.1 1005.3,216.2 1008.0,216.4 1010.8,216.5 1013.5,216.7 1016.2,216.8 1018.9,217.0 1021.6,217.1 1024.3,217.3 1027.1,217.5 1029.8,217.6 1032.5,217.8 1035.2,218.0 1037.9,218.2 1040.7,218.4 1043.4,218.6 1046.1,218.8 1048.8,219.0 1051.5,219.3 1054.2,219.6 1057.0,219.9 1059.7,220.2 1062.4,220.5 1065.1,220.8 1067.8,221.1 1070.6,221.5 1073.3,221.8 1076.0,222.1 1078.7,222.4 1081.4,222.8 1084.1,223.1 1086.9,223.3 1089.6,223.6 1092.3,223.9 1095.0,224.1 1097.7,224.4 1100.4,224.7 1103.2,225.0 1105.9,225.3 1108.6,225.7 1111.3,226.1 1114.0,226.6 1116.8,227.1 1119.5,227.7 1122.2,228.3 1124.9,229.0 1127.6,229.7 1130.3,230.4 1133.1,231.1 1135.8,231.8 1138.5,232.5 1141.2,233.2 1143.9,234.0 1146.6,234.7 1149.4,235.5 1152.1,236.2 1154.8,237.0 1157.5,237.9 1160.2,238.7 1163.0,239.6 1165.7,240.5 1168.4,241.4 1171.1,242.3 1173.8,243.3 1176.5,244.3 1179.3,245.4 1182.0,246.4 1184.7,247.4 1187.4,248.5 1190.1,249.5 1192.9,250.5 1195.6,251.6 1198.3,252.6 1201.0,253.6 1203.7,254.6 1206.4,255.6 1209.2,256.7 1211.9,257.8 1214.6,259.0 1217.3,260.2 1220.0,261.5 1222.7,262.9 1225.5,264.3 1228.2,265.8 1230.9,267.3" fill="none" stroke="#000" stroke-width="4.4" stroke-linejoin="round" stroke-linecap="butt"/><polyline points="146.5,127.0 149.2,127.2 151.9,127.4 154.7,127.6 157.4,127.8 160.1,128.0 162.8,128.2 165.5,128.4 168.2,128.7 171.0,128.9 173.7,129.1 176.4,129.4 179.1,129.6 181.8,129.9 184.5,130.1 187.3,130.4 190.0,130.7 192.7,130.9 195.4,131.2 198.1,131.5 200.9,131.7 203.6,132.0 206.3,132.3 209.0,132.6 211.7,132.9 214.4,133.2 217.2,133.5 219.9,133.8 222.6,134.1 225.3,134.4 228.0,134.8 230.8,135.1 233.5,135.4 236.2,135.8 238.9,136.2 241.6,136.5 244.3,136.9 247.1,137.3 249.8,137.7 252.5,138.2 255.2,138.7 257.9,139.1 260.6,139.6 263.4,140.1 266.1,140.5 268.8,140.9 271.5,141.3 274.2,141.7 277.0,142.1 279.7,142.4 282.4,142.8 285.1,143.2 287.8,143.5 290.5,143.9 293.3,144.3 296.0,144.6 298.7,145.1 301.4,145.5 304.1,145.9 306.8,146.4 309.6,146.8 312.3,147.3 315.0,147.8 317.7,148.3 320.4,148.8 323.2,149.2 325.9,149.7 328.6,150.2 331.3,150.7 334.0,151.2 336.7,151.7 339.5,152.1 342.2,152.6 344.9,153.1 347.6,153.6 350.3,154.1 353.1,154.5 355.8,155.0 358.5,155.5 361.2,156.0 363.9,156.4 366.6,156.9 369.4,157.4 372.1,157.9 374.8,158.4 377.5,158.9 380.2,159.3 382.9,159.8 385.7,160.3 388.4,160.8 391.1,161.3 393.8,161.8 396.5,162.4 399.3,162.9 402.0,163.4 404.7,163.9 407.4,164.5 410.1,165.0 412.8,165.6 415.6,166.1 418.3,166.7 421.0,167.3 423.7,167.9 426.4,168.4 429.2,168.9 431.9,169.5 434.6,170.0 437.3,170.5 440.0,171.0 442.7,171.5 445.5,172.0 448.2,172.5 450.9,173.0 453.6,173.5 456.3,174.0 459.0,174.4 461.8,174.9 464.5,175.4 467.2,175.9 469.9,176.4 472.6,176.8 475.4,177.3 478.1,177.8 480.8,178.3 483.5,178.8 486.2,179.3 488.9,179.8 491.7,180.2 494.4,180.7 497.1,181.2 499.8,181.7 502.5,182.1 505.2,182.6 508.0,183.1 510.7,183.5 513.4,184.0 516.1,184.4 518.8,184.8 521.6,185.2 524.3,185.7 527.0,186.0 529.7,186.4 532.4,186.8 535.1,187.2 537.9,187.5 540.6,187.9 543.3,188.3 546.0,188.6 548.7,189.0 551.5,189.3 554.2,189.7 556.9,190.0 559.6,190.4 562.3,190.7 565.0,191.1 567.8,191.5 570.5,191.8 573.2,192.2 575.9,192.5 578.6,192.9 581.3,193.2 584.1,193.6 586.8,193.9 589.5,194.3 592.2,194.6 594.9,194.9 597.7,195.3 600.4,195.6 603.1,195.9 605.8,196.2 608.5,196.6 611.2,196.9 614.0,197.2 616.7,197.4 619.4,197.7 622.1,198.0 624.8,198.3 627.5,198.6 630.3,198.8 633.0,199.1 635.7,199.4 638.4,199.7 641.1,199.9 643.9,200.2 646.6,200.5 649.3,200.7 652.0,201.0 654.7,201.2 657.4,201.5 660.2,201.7 662.9,201.9 665.6,202.2 668.3,202.4 671.0,202.6 673.8,202.8 676.5,203.0 679.2,203.1 681.9,203.3 684.6,203.5 687.3,203.6 690.1,203.8 692.8,203.9 695.5,204.0 698.2,204.1 700.9,204.2 703.6,204.3 706.4,204.4 709.1,204.5 711.8,204.7 714.5,204.8 717.2,204.9 720.0,205.0 722.7,205.1 725.4,205.2 728.1,205.3 730.8,205.5 733.5,205.6 736.3,205.7 739.0,205.8 741.7,206.0 744.4,206.1 747.1,206.2 749.9,206.3 752.6,206.5 755.3,206.6 758.0,206.7 760.7,206.9 763.4,207.0 766.2,207.1 768.9,207.2 771.6,207.4 774.3,207.5 777.0,207.6 779.7,207.8 782.5,207.9 785.2,208.0 787.9,208.1 790.6,208.3 793.3,208.4 796.1,208.5 798.8,208.6 801.5,208.8 804.2,208.9 806.9,209.0 809.6,209.1 812.4,209.3 815.1,209.4 817.8,209.5 820.5,209.6 823.2,209.7 825.9,209.9 828.7,210.0 831.4,210.1 834.1,210.2 836.8,210.3 839.5,210.4 842.3,210.5 845.0,210.6 847.7,210.7 850.4,210.8 853.1,210.9 855.8,211.0 858.6,211.1 861.3,211.2 864.0,211.3 866.7,211.4 869.4,211.5 872.2,211.6 874.9,211.7 877.6,211.8 880.3,211.8 883.0,211.9 885.7,212.0 888.5,212.1 891.2,212.2 893.9,212.3 896.6,212.4 899.3,212.4 902.0,212.5 904.8,212.6 907.5,212.7 910.2,212.8 912.9,212.8 915.6,212.9 918.4,213.0 921.1,213.1 923.8,213.2 926.5,213.3 929.2,213.4 931.9,213.4 934.7,213.5 937.4,213.6 940.1,213.7 942.8,213.8 945.5,213.9 948.2,214.0 951.0,214.1 953.7,214.2 956.4,214.3 959.1,214.4 961.8,214.5 964.6,214.6 967.3,214.7 970.0,214.8 972.7,214.9 975.4,215.0 978.1,215.1 980.9,215.3 983.6,215.4 986.3,215.5 989.0,215.6 991.7,215.7 994.5,215.9 997.2,216.0 999.9,216.1 1002.6,216.3 1005.3,216.4 1008.0,216.6 1010.8,216.7 1013.5,216.9 1016.2,217.0 1018.9,217.2 1021.6,217.4 1024.3,217.6 1027.1,217.7 1029.8,217.9 1032.5,218.1 1035.2,218.3 1037.9,218.5 1040.7,218.7 1043.4,218.9 1046.1,219.2 1048.8,219.4 1051.5,219.7 1054.2,220.0 1057.0,220.3 1059.7,220.6 1062.4,220.9 1065.1,221.2 1067.8,221.5 1070.6,221.9 1073.3,222.2 1076.0,222.5 1078.7,222.9 1081.4,223.2 1084.1,223.5 1086.9,223.8 1089.6,224.1 1092.3,224.3 1095.0,224.6 1097.7,224.9 1100.4,225.2 1103.2,225.5 1105.9,225.9 1108.6,226.3 1111.3,226.7 1114.0,227.2 1116.8,227.7 1119.5,228.4 1122.2,229.0 1124.9,229.7 1127.6,230.4 1130.3,231.1 1133.1,231.9 1135.8,232.6 1138.5,233.3 1141.2,234.0 1143.9,234.8 1146.6,235.5 1149.4,236.3 1152.1,237.1 1154.8,237.9 1157.5,238.7 1160.2,239.6 1163.0,240.4 1165.7,241.4 1168.4,242.3 1171.1,243.3 1173.8,244.3 1176.5,245.3 1179.3,246.4 1182.0,247.5 1184.7,248.5 1187.4,249.6 1190.1,250.6 1192.9,251.7 1195.6,252.7 1198.3,253.7 1201.0,254.7 1203.7,255.8 1206.4,256.8 1209.2,257.9 1211.9,259.1 1214.6,260.2 1217.3,261.5 1220.0,262.8 1222.7,264.2 1225.5,265.6 1228.2,267.1 1230.9,268.6" fill="none" stroke="#000" stroke-width="4.4" stroke-linejoin="round" stroke-linecap="butt"/><path d="M149.8 138.9L155.3 128.5L144.3 128.5Z" fill="#c4c4c4" stroke="#000" stroke-width="1.1"/><path d="M163.1 139.8L168.6 129.4L157.6 129.4Z" fill="#c4c4c4" stroke="#000" stroke-width="1.1"/><path d="M176.5 140.9L182.0 130.4L171.0 130.4Z" fill="#c4c4c4" stroke="#000" stroke-width="1.1"/><path d="M189.8 142.0L195.3 131.5L184.3 131.5Z" fill="#c4c4c4" stroke="#000" stroke-width="1.1"/><path d="M203.1 143.2L208.6 132.8L197.6 132.8Z" fill="#c4c4c4" stroke="#000" stroke-width="1.1"/><path d="M216.5 144.5L222.0 134.1L211.0 134.1Z" fill="#c4c4c4" stroke="#000" stroke-width="1.1"/><path d="M229.8 146.0L235.3 135.6L224.3 135.6Z" fill="#c4c4c4" stroke="#000" stroke-width="1.1"/><path d="M243.2 147.6L248.7 137.2L237.7 137.2Z" fill="#c4c4c4" stroke="#000" stroke-width="1.1"/><path d="M256.5 149.7L262.0 139.2L251.0 139.2Z" fill="#c4c4c4" stroke="#000" stroke-width="1.1"/><path d="M269.8 151.7L275.3 141.3L264.3 141.3Z" fill="#c4c4c4" stroke="#000" stroke-width="1.1"/><path d="M283.2 153.4L288.7 142.9L277.7 142.9Z" fill="#c4c4c4" stroke="#000" stroke-width="1.1"/><path d="M296.5 155.0L302.0 144.6L291.0 144.6Z" fill="#c4c4c4" stroke="#000" stroke-width="1.1"/><path d="M309.8 157.1L315.3 146.7L304.3 146.7Z" fill="#c4c4c4" stroke="#000" stroke-width="1.1"/><path d="M323.2 159.4L328.7 148.9L317.7 148.9Z" fill="#c4c4c4" stroke="#000" stroke-width="1.1"/><path d="M336.5 161.7L342.0 151.2L331.0 151.2Z" fill="#c4c4c4" stroke="#000" stroke-width="1.1"/><path d="M349.8 163.8L355.3 153.4L344.3 153.4Z" fill="#c4c4c4" stroke="#000" stroke-width="1.1"/><path d="M363.2 165.9L368.7 155.5L357.7 155.5Z" fill="#c4c4c4" stroke="#000" stroke-width="1.1"/><path d="M376.5 168.1L382.0 157.6L371.0 157.6Z" fill="#c4c4c4" stroke="#000" stroke-width="1.1"/><path d="M389.8 170.2L395.3 159.8L384.3 159.8Z" fill="#c4c4c4" stroke="#000" stroke-width="1.1"/><path d="M403.2 172.5L408.7 162.1L397.7 162.1Z" fill="#c4c4c4" stroke="#000" stroke-width="1.1"/><path d="M416.5 175.0L422.0 164.6L411.0 164.6Z" fill="#c4c4c4" stroke="#000" stroke-width="1.1"/><path d="M429.9 177.5L435.4 167.1L424.4 167.1Z" fill="#c4c4c4" stroke="#000" stroke-width="1.1"/><path d="M443.2 179.9L448.7 169.4L437.7 169.4Z" fill="#c4c4c4" stroke="#000" stroke-width="1.1"/><path d="M456.5 182.1L462.0 171.6L451.0 171.6Z" fill="#c4c4c4" stroke="#000" stroke-width="1.1"/><path d="M469.9 184.3L475.4 173.8L464.4 173.8Z" fill="#c4c4c4" stroke="#000" stroke-width="1.1"/><path d="M483.2 186.5L488.7 176.0L477.7 176.0Z" fill="#c4c4c4" stroke="#000" stroke-width="1.1"/><path d="M496.5 188.7L502.0 178.2L491.0 178.2Z" fill="#c4c4c4" stroke="#000" stroke-width="1.1"/><path d="M509.9 190.8L515.4 180.4L504.4 180.4Z" fill="#c4c4c4" stroke="#000" stroke-width="1.1"/><path d="M523.2 192.8L528.7 182.4L517.7 182.4Z" fill="#c4c4c4" stroke="#000" stroke-width="1.1"/><path d="M536.5 194.6L542.0 184.1L531.0 184.1Z" fill="#c4c4c4" stroke="#000" stroke-width="1.1"/><path d="M549.9 196.3L555.4 185.8L544.4 185.8Z" fill="#c4c4c4" stroke="#000" stroke-width="1.1"/><path d="M563.2 198.0L568.7 187.5L557.7 187.5Z" fill="#c4c4c4" stroke="#000" stroke-width="1.1"/><path d="M576.6 199.7L582.1 189.2L571.1 189.2Z" fill="#c4c4c4" stroke="#000" stroke-width="1.1"/><path d="M589.9 201.3L595.4 190.9L584.4 190.9Z" fill="#c4c4c4" stroke="#000" stroke-width="1.1"/><path d="M603.2 202.9L608.7 192.5L597.7 192.5Z" fill="#c4c4c4" stroke="#000" stroke-width="1.1"/><path d="M616.6 204.4L622.1 193.9L611.1 193.9Z" fill="#c4c4c4" stroke="#000" stroke-width="1.1"/><path d="M629.9 205.7L635.4 195.2L624.4 195.2Z" fill="#c4c4c4" stroke="#000" stroke-width="1.1"/><path d="M643.2 206.9L648.7 196.5L637.7 196.5Z" fill="#c4c4c4" stroke="#000" stroke-width="1.1"/><path d="M656.6 208.1L662.1 197.6L651.1 197.6Z" fill="#c4c4c4" stroke="#000" stroke-width="1.1"/><path d="M669.9 209.1L675.4 198.7L664.4 198.7Z" fill="#c4c4c4" stroke="#000" stroke-width="1.1"/><path d="M683.2 210.0L688.7 199.5L677.7 199.5Z" fill="#c4c4c4" stroke="#000" stroke-width="1.1"/><path d="M696.6 210.6L702.1 200.2L691.1 200.2Z" fill="#c4c4c4" stroke="#000" stroke-width="1.1"/><path d="M709.9 211.2L715.4 200.7L704.4 200.7Z" fill="#c4c4c4" stroke="#000" stroke-width="1.1"/><path d="M723.2 211.7L728.7 201.3L717.7 201.3Z" fill="#c4c4c4" stroke="#000" stroke-width="1.1"/><path d="M736.6 212.3L742.1 201.9L731.1 201.9Z" fill="#c4c4c4" stroke="#000" stroke-width="1.1"/><path d="M749.9 212.9L755.4 202.5L744.4 202.5Z" fill="#c4c4c4" stroke="#000" stroke-width="1.1"/><path d="M763.3 213.5L768.8 203.1L757.8 203.1Z" fill="#c4c4c4" stroke="#000" stroke-width="1.1"/><path d="M776.6 214.1L782.1 203.7L771.1 203.7Z" fill="#c4c4c4" stroke="#000" stroke-width="1.1"/><path d="M789.9 214.7L795.4 204.3L784.4 204.3Z" fill="#c4c4c4" stroke="#000" stroke-width="1.1"/><path d="M803.3 215.3L808.8 204.9L797.8 204.9Z" fill="#c4c4c4" stroke="#000" stroke-width="1.1"/><path d="M816.6 215.9L822.1 205.5L811.1 205.5Z" fill="#c4c4c4" stroke="#000" stroke-width="1.1"/><path d="M829.9 216.5L835.4 206.0L824.4 206.0Z" fill="#c4c4c4" stroke="#000" stroke-width="1.1"/><path d="M843.3 217.0L848.8 206.6L837.8 206.6Z" fill="#c4c4c4" stroke="#000" stroke-width="1.1"/><path d="M856.6 217.5L862.1 207.0L851.1 207.0Z" fill="#c4c4c4" stroke="#000" stroke-width="1.1"/><path d="M869.9 217.9L875.4 207.5L864.4 207.5Z" fill="#c4c4c4" stroke="#000" stroke-width="1.1"/><path d="M883.3 218.4L888.8 207.9L877.8 207.9Z" fill="#c4c4c4" stroke="#000" stroke-width="1.1"/><path d="M896.6 218.8L902.1 208.3L891.1 208.3Z" fill="#c4c4c4" stroke="#000" stroke-width="1.1"/><path d="M910.0 219.2L915.5 208.7L904.5 208.7Z" fill="#c4c4c4" stroke="#000" stroke-width="1.1"/><path d="M923.3 219.6L928.8 209.1L917.8 209.1Z" fill="#c4c4c4" stroke="#000" stroke-width="1.1"/><path d="M936.6 220.0L942.1 209.5L931.1 209.5Z" fill="#c4c4c4" stroke="#000" stroke-width="1.1"/><path d="M950.0 220.4L955.5 210.0L944.5 210.0Z" fill="#c4c4c4" stroke="#000" stroke-width="1.1"/><path d="M963.3 220.9L968.8 210.5L957.8 210.5Z" fill="#c4c4c4" stroke="#000" stroke-width="1.1"/><path d="M976.6 221.5L982.1 211.0L971.1 211.0Z" fill="#c4c4c4" stroke="#000" stroke-width="1.1"/><path d="M990.0 222.1L995.5 211.6L984.5 211.6Z" fill="#c4c4c4" stroke="#000" stroke-width="1.1"/><path d="M1003.3 222.8L1008.8 212.3L997.8 212.3Z" fill="#c4c4c4" stroke="#000" stroke-width="1.1"/><path d="M1016.6 223.6L1022.1 213.1L1011.1 213.1Z" fill="#c4c4c4" stroke="#000" stroke-width="1.1"/><path d="M1030.0 224.5L1035.5 214.1L1024.5 214.1Z" fill="#c4c4c4" stroke="#000" stroke-width="1.1"/><path d="M1043.3 225.6L1048.8 215.1L1037.8 215.1Z" fill="#c4c4c4" stroke="#000" stroke-width="1.1"/><path d="M1056.6 226.9L1062.1 216.5L1051.1 216.5Z" fill="#c4c4c4" stroke="#000" stroke-width="1.1"/><path d="M1070.0 228.5L1075.5 218.1L1064.5 218.1Z" fill="#c4c4c4" stroke="#000" stroke-width="1.1"/><path d="M1083.3 230.1L1088.8 219.7L1077.8 219.7Z" fill="#c4c4c4" stroke="#000" stroke-width="1.1"/><path d="M1096.7 231.6L1102.2 221.2L1091.2 221.2Z" fill="#c4c4c4" stroke="#000" stroke-width="1.1"/><path d="M1110.0 233.4L1115.5 223.0L1104.5 223.0Z" fill="#c4c4c4" stroke="#000" stroke-width="1.1"/><path d="M1123.3 236.4L1128.8 225.9L1117.8 225.9Z" fill="#c4c4c4" stroke="#000" stroke-width="1.1"/><path d="M1136.7 240.0L1142.2 229.5L1131.2 229.5Z" fill="#c4c4c4" stroke="#000" stroke-width="1.1"/><path d="M1150.0 243.7L1155.5 233.3L1144.5 233.3Z" fill="#c4c4c4" stroke="#000" stroke-width="1.1"/><path d="M1163.3 247.9L1168.8 237.4L1157.8 237.4Z" fill="#c4c4c4" stroke="#000" stroke-width="1.1"/><path d="M1176.7 252.8L1182.2 242.4L1171.2 242.4Z" fill="#c4c4c4" stroke="#000" stroke-width="1.1"/><path d="M1190.0 258.2L1195.5 247.7L1184.5 247.7Z" fill="#c4c4c4" stroke="#000" stroke-width="1.1"/><path d="M1203.3 263.3L1208.8 252.9L1197.8 252.9Z" fill="#c4c4c4" stroke="#000" stroke-width="1.1"/><path d="M1216.7 268.9L1222.2 258.5L1211.2 258.5Z" fill="#c4c4c4" stroke="#000" stroke-width="1.1"/><path d="M1230.0 276.0L1235.5 265.5L1224.5 265.5Z" fill="#c4c4c4" stroke="#000" stroke-width="1.1"/><polyline points="146.5,132.5 149.2,132.6 151.9,132.8 154.7,133.0 157.4,133.2 160.1,133.4 162.8,133.6 165.5,133.8 168.2,134.0 171.0,134.2 173.7,134.4 176.4,134.6 179.1,134.8 181.8,135.1 184.5,135.3 187.3,135.5 190.0,135.8 192.7,136.0 195.4,136.3 198.1,136.5 200.9,136.8 203.6,137.0 206.3,137.3 209.0,137.5 211.7,137.8 214.4,138.1 217.2,138.4 219.9,138.7 222.6,139.0 225.3,139.3 228.0,139.6 230.8,139.9 233.5,140.2 236.2,140.5 238.9,140.9 241.6,141.2 244.3,141.6 247.1,142.0 249.8,142.4 252.5,142.8 255.2,143.2 257.9,143.7 260.6,144.1 263.4,144.5 266.1,144.9 268.8,145.3 271.5,145.7 274.2,146.1 277.0,146.4 279.7,146.7 282.4,147.1 285.1,147.4 287.8,147.7 290.5,148.0 293.3,148.4 296.0,148.7 298.7,149.1 301.4,149.5 304.1,150.0 306.8,150.4 309.6,150.8 312.3,151.3 315.0,151.8 317.7,152.2 320.4,152.7 323.2,153.2 325.9,153.6 328.6,154.1 331.3,154.6 334.0,155.0 336.7,155.5 339.5,155.9 342.2,156.4 344.9,156.8 347.6,157.2 350.3,157.7 353.1,158.1 355.8,158.5 358.5,159.0 361.2,159.4 363.9,159.8 366.6,160.3 369.4,160.7 372.1,161.1 374.8,161.6 377.5,162.0 380.2,162.4 382.9,162.9 385.7,163.3 388.4,163.8 391.1,164.2 393.8,164.7 396.5,165.1 399.3,165.6 402.0,166.1 404.7,166.5 407.4,167.0 410.1,167.6 412.8,168.1 415.6,168.6 418.3,169.1 421.0,169.7 423.7,170.2 426.4,170.7 429.2,171.2 431.9,171.7 434.6,172.2 437.3,172.6 440.0,173.1 442.7,173.6 445.5,174.0 448.2,174.5 450.9,174.9 453.6,175.4 456.3,175.8 459.0,176.3 461.8,176.7 464.5,177.2 467.2,177.6 469.9,178.1 472.6,178.5 475.4,178.9 478.1,179.4 480.8,179.9 483.5,180.3 486.2,180.8 488.9,181.2 491.7,181.7 494.4,182.1 497.1,182.6 499.8,183.0 502.5,183.4 505.2,183.9 508.0,184.3 510.7,184.7 513.4,185.1 516.1,185.6 518.8,186.0 521.6,186.3 524.3,186.7 527.0,187.1 529.7,187.5 532.4,187.8 535.1,188.2 537.9,188.5 540.6,188.9 543.3,189.2 546.0,189.6 548.7,189.9 551.5,190.3 554.2,190.6 556.9,190.9 559.6,191.3 562.3,191.6 565.0,192.0 567.8,192.3 570.5,192.7 573.2,193.0 575.9,193.4 578.6,193.7 581.3,194.1 584.1,194.4 586.8,194.7 589.5,195.1 592.2,195.4 594.9,195.7 597.7,196.0 600.4,196.4 603.1,196.7 605.8,197.0 608.5,197.3 611.2,197.6 614.0,197.9 616.7,198.1 619.4,198.4 622.1,198.7 624.8,198.9 627.5,199.2 630.3,199.5 633.0,199.7 635.7,200.0 638.4,200.2 641.1,200.5 643.9,200.7 646.6,201.0 649.3,201.2 652.0,201.5 654.7,201.7 657.4,201.9 660.2,202.2 662.9,202.4 665.6,202.6 668.3,202.8 671.0,203.0 673.8,203.2 676.5,203.3 679.2,203.5 681.9,203.7 684.6,203.8 687.3,204.0 690.1,204.1 692.8,204.2 695.5,204.4 698.2,204.5 700.9,204.6 703.6,204.7 706.4,204.8 709.1,204.9 711.8,205.0 714.5,205.1 717.2,205.2 720.0,205.4 722.7,205.5 725.4,205.6 728.1,205.7 730.8,205.8 733.5,205.9 736.3,206.1 739.0,206.2 741.7,206.3 744.4,206.4 747.1,206.6 749.9,206.7 752.6,206.8 755.3,206.9 758.0,207.1 760.7,207.2 763.4,207.3 766.2,207.4 768.9,207.6 771.6,207.7 774.3,207.8 777.0,207.9 779.7,208.1 782.5,208.2 785.2,208.3 787.9,208.4 790.6,208.6 793.3,208.7 796.1,208.8 798.8,208.9 801.5,209.0 804.2,209.2 806.9,209.3 809.6,209.4 812.4,209.5 815.1,209.6 817.8,209.7 820.5,209.9 823.2,210.0 825.9,210.1 828.7,210.2 831.4,210.3 834.1,210.4 836.8,210.5 839.5,210.6 842.3,210.7 845.0,210.8 847.7,210.9 850.4,211.0 853.1,211.1 855.8,211.2 858.6,211.3 861.3,211.4 864.0,211.5 866.7,211.6 869.4,211.7 872.2,211.8 874.9,211.9 877.6,212.0 880.3,212.0 883.0,212.1 885.7,212.2 888.5,212.3 891.2,212.4 893.9,212.5 896.6,212.5 899.3,212.6 902.0,212.7 904.8,212.8 907.5,212.9 910.2,212.9 912.9,213.0 915.6,213.1 918.4,213.2 921.1,213.3 923.8,213.4 926.5,213.4 929.2,213.5 931.9,213.6 934.7,213.7 937.4,213.8 940.1,213.9 942.8,214.0 945.5,214.1 948.2,214.2 951.0,214.3 953.7,214.4 956.4,214.5 959.1,214.6 961.8,214.7 964.6,214.8 967.3,214.9 970.0,215.0 972.7,215.1 975.4,215.2 978.1,215.3 980.9,215.4 983.6,215.6 986.3,215.7 989.0,215.8 991.7,216.0 994.5,216.1 997.2,216.2 999.9,216.4 1002.6,216.5 1005.3,216.7 1008.0,216.8 1010.8,217.0 1013.5,217.2 1016.2,217.3 1018.9,217.5 1021.6,217.7 1024.3,217.9 1027.1,218.1 1029.8,218.3 1032.5,218.5 1035.2,218.7 1037.9,218.9 1040.7,219.1 1043.4,219.4 1046.1,219.6 1048.8,219.9 1051.5,220.1 1054.2,220.4 1057.0,220.7 1059.7,221.0 1062.4,221.4 1065.1,221.7 1067.8,222.0 1070.6,222.4 1073.3,222.7 1076.0,223.0 1078.7,223.4 1081.4,223.7 1084.1,224.0 1086.9,224.3 1089.6,224.6 1092.3,224.9 1095.0,225.2 1097.7,225.5 1100.4,225.9 1103.2,226.2 1105.9,226.6 1108.6,227.0 1111.3,227.4 1114.0,227.9 1116.8,228.5 1119.5,229.2 1122.2,229.8 1124.9,230.5 1127.6,231.3 1130.3,232.0 1133.1,232.8 1135.8,233.5 1138.5,234.3 1141.2,235.0 1143.9,235.8 1146.6,236.5 1149.4,237.3 1152.1,238.1 1154.8,238.9 1157.5,239.8 1160.2,240.6 1163.0,241.5 1165.7,242.5 1168.4,243.4 1171.1,244.5 1173.8,245.5 1176.5,246.6 1179.3,247.6 1182.0,248.7 1184.7,249.8 1187.4,250.9 1190.1,252.0 1192.9,253.1 1195.6,254.1 1198.3,255.1 1201.0,256.2 1203.7,257.3 1206.4,258.3 1209.2,259.4 1211.9,260.6 1214.6,261.8 1217.3,263.0 1220.0,264.3 1222.7,265.7 1225.5,267.2 1228.2,268.7 1230.9,270.3" fill="none" stroke="#000" stroke-width="4.4" stroke-linejoin="round" stroke-linecap="butt"/><polyline points="146.5,132.5 149.2,132.7 151.9,133.0 154.7,133.2 157.4,133.5 160.1,133.8 162.8,134.1 165.5,134.4 168.2,134.7 171.0,135.0 173.7,135.3 176.4,135.7 179.1,136.0 181.8,136.4 184.5,136.7 187.3,137.1 190.0,137.4 192.7,137.8 195.4,138.1 198.1,138.5 200.9,138.9 203.6,139.3 206.3,139.7 209.0,140.1 211.7,140.5 214.4,140.9 217.2,141.4 219.9,141.8 222.6,142.3 225.3,142.8 228.0,143.3 230.8,143.7 233.5,144.2 236.2,144.7 238.9,145.2 241.6,145.6 244.3,146.1 247.1,146.6 249.8,147.1 252.5,147.6 255.2,148.2 257.9,148.7 260.6,149.2 263.4,149.7 266.1,150.1 268.8,150.5 271.5,150.9 274.2,151.2 277.0,151.5 279.7,151.8 282.4,152.1 285.1,152.4 287.8,152.7 290.5,152.9 293.3,153.2 296.0,153.6 298.7,153.9 301.4,154.3 304.1,154.7 306.8,155.1 309.6,155.5 312.3,156.0 315.0,156.4 317.7,156.9 320.4,157.3 323.2,157.8 325.9,158.2 328.6,158.7 331.3,159.1 334.0,159.6 336.7,160.0 339.5,160.4 342.2,160.8 344.9,161.2 347.6,161.6 350.3,161.9 353.1,162.3 355.8,162.7 358.5,163.1 361.2,163.4 363.9,163.8 366.6,164.2 369.4,164.6 372.1,164.9 374.8,165.3 377.5,165.7 380.2,166.0 382.9,166.4 385.7,166.8 388.4,167.2 391.1,167.6 393.8,168.0 396.5,168.4 399.3,168.8 402.0,169.2 404.7,169.6 407.4,170.1 410.1,170.5 412.8,171.0 415.6,171.5 418.3,172.0 421.0,172.4 423.7,172.9 426.4,173.4 429.2,173.8 431.9,174.3 434.6,174.7 437.3,175.1 440.0,175.5 442.7,176.0 445.5,176.4 448.2,176.8 450.9,177.2 453.6,177.6 456.3,178.0 459.0,178.4 461.8,178.8 464.5,179.2 467.2,179.6 469.9,180.0 472.6,180.4 475.4,180.9 478.1,181.3 480.8,181.7 483.5,182.1 486.2,182.5 488.9,182.9 491.7,183.3 494.4,183.7 497.1,184.1 499.8,184.5 502.5,185.0 505.2,185.4 508.0,185.7 510.7,186.1 513.4,186.5 516.1,186.9 518.8,187.3 521.6,187.6 524.3,188.0 527.0,188.4 529.7,188.7 532.4,189.0 535.1,189.4 537.9,189.7 540.6,190.0 543.3,190.4 546.0,190.7 548.7,191.0 551.5,191.3 554.2,191.7 556.9,192.0 559.6,192.3 562.3,192.7 565.0,193.0 567.8,193.3 570.5,193.7 573.2,194.0 575.9,194.4 578.6,194.7 581.3,195.0 584.1,195.4 586.8,195.7 589.5,196.0 592.2,196.3 594.9,196.6 597.7,197.0 600.4,197.3 603.1,197.6 605.8,197.9 608.5,198.1 611.2,198.4 614.0,198.7 616.7,199.0 619.4,199.2 622.1,199.5 624.8,199.7 627.5,200.0 630.3,200.2 633.0,200.5 635.7,200.7 638.4,200.9 641.1,201.2 643.9,201.4 646.6,201.6 649.3,201.8 652.0,202.1 654.7,202.3 657.4,202.5 660.2,202.7 662.9,202.9 665.6,203.1 668.3,203.3 671.0,203.4 673.8,203.6 676.5,203.8 679.2,204.0 681.9,204.1 684.6,204.3 687.3,204.4 690.1,204.5 692.8,204.7 695.5,204.8 698.2,204.9 700.9,205.0 703.6,205.1 706.4,205.2 709.1,205.3 711.8,205.4 714.5,205.6 717.2,205.7 720.0,205.8 722.7,205.9 725.4,206.0 728.1,206.1 730.8,206.2 733.5,206.4 736.3,206.5 739.0,206.6 741.7,206.7 744.4,206.8 747.1,207.0 749.9,207.1 752.6,207.2 755.3,207.3 758.0,207.4 760.7,207.6 763.4,207.7 766.2,207.8 768.9,207.9 771.6,208.0 774.3,208.2 777.0,208.3 779.7,208.4 782.5,208.5 785.2,208.6 787.9,208.8 790.6,208.9 793.3,209.0 796.1,209.1 798.8,209.2 801.5,209.4 804.2,209.5 806.9,209.6 809.6,209.7 812.4,209.8 815.1,209.9 817.8,210.0 820.5,210.2 823.2,210.3 825.9,210.4 828.7,210.5 831.4,210.6 834.1,210.7 836.8,210.8 839.5,210.9 842.3,211.0 845.0,211.1 847.7,211.2 850.4,211.3 853.1,211.4 855.8,211.5 858.6,211.6 861.3,211.7 864.0,211.8 866.7,211.9 869.4,211.9 872.2,212.0 874.9,212.1 877.6,212.2 880.3,212.3 883.0,212.4 885.7,212.4 888.5,212.5 891.2,212.6 893.9,212.7 896.6,212.8 899.3,212.8 902.0,212.9 904.8,213.0 907.5,213.1 910.2,213.2 912.9,213.2 915.6,213.3 918.4,213.4 921.1,213.5 923.8,213.6 926.5,213.7 929.2,213.7 931.9,213.8 934.7,213.9 937.4,214.0 940.1,214.1 942.8,214.2 945.5,214.3 948.2,214.4 951.0,214.5 953.7,214.6 956.4,214.7 959.1,214.8 961.8,214.9 964.6,215.0 967.3,215.1 970.0,215.2 972.7,215.3 975.4,215.4 978.1,215.5 980.9,215.7 983.6,215.8 986.3,215.9 989.0,216.1 991.7,216.2 994.5,216.3 997.2,216.5 999.9,216.6 1002.6,216.8 1005.3,217.0 1008.0,217.1 1010.8,217.3 1013.5,217.5 1016.2,217.7 1018.9,217.9 1021.6,218.1 1024.3,218.3 1027.1,218.5 1029.8,218.7 1032.5,218.9 1035.2,219.2 1037.9,219.4 1040.7,219.6 1043.4,219.9 1046.1,220.1 1048.8,220.4 1051.5,220.7 1054.2,221.0 1057.0,221.3 1059.7,221.6 1062.4,221.9 1065.1,222.2 1067.8,222.6 1070.6,222.9 1073.3,223.3 1076.0,223.6 1078.7,224.0 1081.4,224.3 1084.1,224.6 1086.9,225.0 1089.6,225.3 1092.3,225.6 1095.0,225.9 1097.7,226.3 1100.4,226.6 1103.2,227.0 1105.9,227.4 1108.6,227.8 1111.3,228.3 1114.0,228.8 1116.8,229.5 1119.5,230.1 1122.2,230.8 1124.9,231.6 1127.6,232.3 1130.3,233.1 1133.1,233.9 1135.8,234.6 1138.5,235.4 1141.2,236.2 1143.9,236.9 1146.6,237.7 1149.4,238.5 1152.1,239.3 1154.8,240.2 1157.5,241.0 1160.2,241.9 1163.0,242.8 1165.7,243.8 1168.4,244.8 1171.1,245.8 1173.8,246.9 1176.5,248.0 1179.3,249.1 1182.0,250.2 1184.7,251.4 1187.4,252.5 1190.1,253.6 1192.9,254.7 1195.6,255.8 1198.3,256.8 1201.0,257.9 1203.7,259.0 1206.4,260.1 1209.2,261.2 1211.9,262.4 1214.6,263.6 1217.3,264.8 1220.0,266.2 1222.7,267.6 1225.5,269.1 1228.2,270.6 1230.9,272.2" fill="none" stroke="#000" stroke-width="4.4" stroke-linejoin="round" stroke-linecap="butt"/><path d="M143.3 145.6h13.0M149.8 139.1v13.0" stroke="#000" stroke-width="1.6"/><path d="M156.6 146.3h13.0M163.1 139.8v13.0" stroke="#000" stroke-width="1.6"/><path d="M170.0 147.0h13.0M176.5 140.5v13.0" stroke="#000" stroke-width="1.6"/><path d="M183.3 147.9h13.0M189.8 141.4v13.0" stroke="#000" stroke-width="1.6"/><path d="M196.6 148.8h13.0M203.1 142.3v13.0" stroke="#000" stroke-width="1.6"/><path d="M210.0 149.9h13.0M216.5 143.4v13.0" stroke="#000" stroke-width="1.6"/><path d="M223.3 151.1h13.0M229.8 144.6v13.0" stroke="#000" stroke-width="1.6"/><path d="M236.7 152.5h13.0M243.2 146.0v13.0" stroke="#000" stroke-width="1.6"/><path d="M250.0 154.2h13.0M256.5 147.7v13.0" stroke="#000" stroke-width="1.6"/><path d="M263.3 155.9h13.0M269.8 149.4v13.0" stroke="#000" stroke-width="1.6"/><path d="M276.7 157.2h13.0M283.2 150.7v13.0" stroke="#000" stroke-width="1.6"/><path d="M290.0 158.5h13.0M296.5 152.0v13.0" stroke="#000" stroke-width="1.6"/><path d="M303.3 160.3h13.0M309.8 153.8v13.0" stroke="#000" stroke-width="1.6"/><path d="M316.7 162.5h13.0M323.2 156.0v13.0" stroke="#000" stroke-width="1.6"/><path d="M330.0 164.5h13.0M336.5 158.0v13.0" stroke="#000" stroke-width="1.6"/><path d="M343.3 166.2h13.0M349.8 159.7v13.0" stroke="#000" stroke-width="1.6"/><path d="M356.7 167.7h13.0M363.2 161.2v13.0" stroke="#000" stroke-width="1.6"/><path d="M370.0 169.3h13.0M376.5 162.8v13.0" stroke="#000" stroke-width="1.6"/><path d="M383.3 170.8h13.0M389.8 164.3v13.0" stroke="#000" stroke-width="1.6"/><path d="M396.7 172.6h13.0M403.2 166.1v13.0" stroke="#000" stroke-width="1.6"/><path d="M410.0 174.5h13.0M416.5 168.0v13.0" stroke="#000" stroke-width="1.6"/><path d="M423.4 176.6h13.0M429.9 170.1v13.0" stroke="#000" stroke-width="1.6"/><path d="M436.7 178.5h13.0M443.2 172.0v13.0" stroke="#000" stroke-width="1.6"/><path d="M450.0 180.2h13.0M456.5 173.7v13.0" stroke="#000" stroke-width="1.6"/><path d="M463.4 182.0h13.0M469.9 175.5v13.0" stroke="#000" stroke-width="1.6"/><path d="M476.7 183.8h13.0M483.2 177.3v13.0" stroke="#000" stroke-width="1.6"/><path d="M490.0 185.7h13.0M496.5 179.2v13.0" stroke="#000" stroke-width="1.6"/><path d="M503.4 187.5h13.0M509.9 181.0v13.0" stroke="#000" stroke-width="1.6"/><path d="M516.7 189.2h13.0M523.2 182.7v13.0" stroke="#000" stroke-width="1.6"/><path d="M530.0 190.7h13.0M536.5 184.2v13.0" stroke="#000" stroke-width="1.6"/><path d="M543.4 192.3h13.0M549.9 185.8v13.0" stroke="#000" stroke-width="1.6"/><path d="M556.7 193.8h13.0M563.2 187.3v13.0" stroke="#000" stroke-width="1.6"/><path d="M570.1 195.4h13.0M576.6 188.9v13.0" stroke="#000" stroke-width="1.6"/><path d="M583.4 197.0h13.0M589.9 190.5v13.0" stroke="#000" stroke-width="1.6"/><path d="M596.7 198.5h13.0M603.2 192.0v13.0" stroke="#000" stroke-width="1.6"/><path d="M610.1 199.8h13.0M616.6 193.3v13.0" stroke="#000" stroke-width="1.6"/><path d="M623.4 200.9h13.0M629.9 194.4v13.0" stroke="#000" stroke-width="1.6"/><path d="M636.7 202.0h13.0M643.2 195.5v13.0" stroke="#000" stroke-width="1.6"/><path d="M650.1 203.0h13.0M656.6 196.5v13.0" stroke="#000" stroke-width="1.6"/><path d="M663.4 203.8h13.0M669.9 197.3v13.0" stroke="#000" stroke-width="1.6"/><path d="M676.7 204.6h13.0M683.2 198.1v13.0" stroke="#000" stroke-width="1.6"/><path d="M690.1 205.3h13.0M696.6 198.8v13.0" stroke="#000" stroke-width="1.6"/><path d="M703.4 205.8h13.0M709.9 199.3v13.0" stroke="#000" stroke-width="1.6"/><path d="M716.7 206.3h13.0M723.2 199.8v13.0" stroke="#000" stroke-width="1.6"/><path d="M730.1 206.9h13.0M736.6 200.4v13.0" stroke="#000" stroke-width="1.6"/><path d="M743.4 207.5h13.0M749.9 201.0v13.0" stroke="#000" stroke-width="1.6"/><path d="M756.8 208.1h13.0M763.3 201.6v13.0" stroke="#000" stroke-width="1.6"/><path d="M770.1 208.6h13.0M776.6 202.1v13.0" stroke="#000" stroke-width="1.6"/><path d="M783.4 209.2h13.0M789.9 202.7v13.0" stroke="#000" stroke-width="1.6"/><path d="M796.8 209.7h13.0M803.3 203.2v13.0" stroke="#000" stroke-width="1.6"/><path d="M810.1 210.3h13.0M816.6 203.8v13.0" stroke="#000" stroke-width="1.6"/><path d="M823.4 210.8h13.0M829.9 204.3v13.0" stroke="#000" stroke-width="1.6"/><path d="M836.8 211.3h13.0M843.3 204.8v13.0" stroke="#000" stroke-width="1.6"/><path d="M850.1 211.8h13.0M856.6 205.3v13.0" stroke="#000" stroke-width="1.6"/><path d="M863.4 212.2h13.0M869.9 205.7v13.0" stroke="#000" stroke-width="1.6"/><path d="M876.8 212.6h13.0M883.3 206.1v13.0" stroke="#000" stroke-width="1.6"/><path d="M890.1 213.0h13.0M896.6 206.5v13.0" stroke="#000" stroke-width="1.6"/><path d="M903.5 213.4h13.0M910.0 206.9v13.0" stroke="#000" stroke-width="1.6"/><path d="M916.8 213.8h13.0M923.3 207.3v13.0" stroke="#000" stroke-width="1.6"/><path d="M930.1 214.3h13.0M936.6 207.8v13.0" stroke="#000" stroke-width="1.6"/><path d="M943.5 214.8h13.0M950.0 208.3v13.0" stroke="#000" stroke-width="1.6"/><path d="M956.8 215.3h13.0M963.3 208.8v13.0" stroke="#000" stroke-width="1.6"/><path d="M970.1 215.9h13.0M976.6 209.4v13.0" stroke="#000" stroke-width="1.6"/><path d="M983.5 216.6h13.0M990.0 210.1v13.0" stroke="#000" stroke-width="1.6"/><path d="M996.8 217.5h13.0M1003.3 211.0v13.0" stroke="#000" stroke-width="1.6"/><path d="M1010.1 218.6h13.0M1016.6 212.1v13.0" stroke="#000" stroke-width="1.6"/><path d="M1023.5 219.9h13.0M1030.0 213.4v13.0" stroke="#000" stroke-width="1.6"/><path d="M1036.8 221.3h13.0M1043.3 214.8v13.0" stroke="#000" stroke-width="1.6"/><path d="M1050.1 222.8h13.0M1056.6 216.3v13.0" stroke="#000" stroke-width="1.6"/><path d="M1063.5 224.6h13.0M1070.0 218.1v13.0" stroke="#000" stroke-width="1.6"/><path d="M1076.8 226.5h13.0M1083.3 220.0v13.0" stroke="#000" stroke-width="1.6"/><path d="M1090.2 228.5h13.0M1096.7 222.0v13.0" stroke="#000" stroke-width="1.6"/><path d="M1103.5 230.9h13.0M1110.0 224.4v13.0" stroke="#000" stroke-width="1.6"/><path d="M1116.8 234.5h13.0M1123.3 228.0v13.0" stroke="#000" stroke-width="1.6"/><path d="M1130.2 238.7h13.0M1136.7 232.2v13.0" stroke="#000" stroke-width="1.6"/><path d="M1143.5 242.8h13.0M1150.0 236.3v13.0" stroke="#000" stroke-width="1.6"/><path d="M1156.8 247.3h13.0M1163.3 240.8v13.0" stroke="#000" stroke-width="1.6"/><path d="M1170.2 252.9h13.0M1176.7 246.4v13.0" stroke="#000" stroke-width="1.6"/><path d="M1183.5 259.0h13.0M1190.0 252.5v13.0" stroke="#000" stroke-width="1.6"/><path d="M1196.8 264.6h13.0M1203.3 258.1v13.0" stroke="#000" stroke-width="1.6"/><path d="M1210.2 270.6h13.0M1216.7 264.1v13.0" stroke="#000" stroke-width="1.6"/><path d="M1223.5 278.1h13.0M1230.0 271.6v13.0" stroke="#000" stroke-width="1.6"/><polyline points="146.5,145.5 149.2,145.6 151.9,145.7 154.7,145.8 157.4,146.0 160.1,146.1 162.8,146.2 165.5,146.4 168.2,146.5 171.0,146.7 173.7,146.8 176.4,147.0 179.1,147.2 181.8,147.3 184.5,147.5 187.3,147.7 190.0,147.9 192.7,148.1 195.4,148.3 198.1,148.4 200.9,148.6 203.6,148.8 206.3,149.0 209.0,149.2 211.7,149.5 214.4,149.7 217.2,149.9 219.9,150.2 222.6,150.4 225.3,150.7 228.0,150.9 230.8,151.2 233.5,151.5 236.2,151.7 238.9,152.0 241.6,152.3 244.3,152.6 247.1,152.9 249.8,153.3 252.5,153.6 255.2,154.0 257.9,154.4 260.6,154.7 263.4,155.1 266.1,155.5 268.8,155.8 271.5,156.1 274.2,156.4 277.0,156.6 279.7,156.9 282.4,157.1 285.1,157.4 287.8,157.6 290.5,157.9 293.3,158.1 296.0,158.4 298.7,158.7 301.4,159.1 304.1,159.5 306.8,159.9 309.6,160.3 312.3,160.7 315.0,161.1 317.7,161.6 320.4,162.0 323.2,162.5 325.9,162.9 328.6,163.3 331.3,163.7 334.0,164.1 336.7,164.5 339.5,164.9 342.2,165.2 344.9,165.6 347.6,165.9 350.3,166.2 353.1,166.6 355.8,166.9 358.5,167.2 361.2,167.5 363.9,167.8 366.6,168.1 369.4,168.5 372.1,168.8 374.8,169.1 377.5,169.4 380.2,169.7 382.9,170.0 385.7,170.3 388.4,170.7 391.1,171.0 393.8,171.3 396.5,171.7 399.3,172.0 402.0,172.4 404.7,172.8 407.4,173.1 410.1,173.5 412.8,174.0 415.6,174.4 418.3,174.8 421.0,175.2 423.7,175.7 426.4,176.1 429.2,176.5 431.9,176.9 434.6,177.3 437.3,177.6 440.0,178.0 442.7,178.4 445.5,178.8 448.2,179.1 450.9,179.5 453.6,179.9 456.3,180.2 459.0,180.6 461.8,180.9 464.5,181.3 467.2,181.7 469.9,182.0 472.6,182.4 475.4,182.8 478.1,183.1 480.8,183.5 483.5,183.9 486.2,184.3 488.9,184.6 491.7,185.0 494.4,185.4 497.1,185.7 499.8,186.1 502.5,186.5 505.2,186.8 508.0,187.2 510.7,187.6 513.4,187.9 516.1,188.3 518.8,188.6 521.6,189.0 524.3,189.3 527.0,189.6 529.7,189.9 532.4,190.3 535.1,190.6 537.9,190.9 540.6,191.2 543.3,191.5 546.0,191.8 548.7,192.1 551.5,192.4 554.2,192.8 556.9,193.1 559.6,193.4 562.3,193.7 565.0,194.0 567.8,194.4 570.5,194.7 573.2,195.0 575.9,195.4 578.6,195.7 581.3,196.0 584.1,196.3 586.8,196.6 589.5,196.9 592.2,197.3 594.9,197.6 597.7,197.9 600.4,198.2 603.1,198.5 605.8,198.7 608.5,199.0 611.2,199.3 614.0,199.5 616.7,199.8 619.4,200.0 622.1,200.3 624.8,200.5 627.5,200.7 630.3,201.0 633.0,201.2 635.7,201.4 638.4,201.6 641.1,201.8 643.9,202.0 646.6,202.2 649.3,202.4 652.0,202.6 654.7,202.8 657.4,203.0 660.2,203.2 662.9,203.4 665.6,203.6 668.3,203.7 671.0,203.9 673.8,204.1 676.5,204.2 679.2,204.4 681.9,204.5 684.6,204.7 687.3,204.8 690.1,205.0 692.8,205.1 695.5,205.2 698.2,205.3 700.9,205.4 703.6,205.6 706.4,205.7 709.1,205.8 711.8,205.9 714.5,206.0 717.2,206.1 720.0,206.2 722.7,206.3 725.4,206.4 728.1,206.6 730.8,206.7 733.5,206.8 736.3,206.9 739.0,207.0 741.7,207.1 744.4,207.2 747.1,207.4 749.9,207.5 752.6,207.6 755.3,207.7 758.0,207.8 760.7,207.9 763.4,208.1 766.2,208.2 768.9,208.3 771.6,208.4 774.3,208.5 777.0,208.6 779.7,208.7 782.5,208.9 785.2,209.0 787.9,209.1 790.6,209.2 793.3,209.3 796.1,209.4 798.8,209.5 801.5,209.7 804.2,209.8 806.9,209.9 809.6,210.0 812.4,210.1 815.1,210.2 817.8,210.3 820.5,210.4 823.2,210.5 825.9,210.6 828.7,210.8 831.4,210.9 834.1,211.0 836.8,211.1 839.5,211.2 842.3,211.3 845.0,211.4 847.7,211.5 850.4,211.6 853.1,211.7 855.8,211.8 858.6,211.9 861.3,212.0 864.0,212.0 866.7,212.1 869.4,212.2 872.2,212.3 874.9,212.4 877.6,212.5 880.3,212.6 883.0,212.6 885.7,212.7 888.5,212.8 891.2,212.9 893.9,213.0 896.6,213.0 899.3,213.1 902.0,213.2 904.8,213.3 907.5,213.4 910.2,213.4 912.9,213.5 915.6,213.6 918.4,213.7 921.1,213.8 923.8,213.9 926.5,214.0 929.2,214.0 931.9,214.1 934.7,214.2 937.4,214.3 940.1,214.4 942.8,214.5 945.5,214.6 948.2,214.7 951.0,214.8 953.7,214.9 956.4,215.0 959.1,215.1 961.8,215.2 964.6,215.4 967.3,215.5 970.0,215.6 972.7,215.7 975.4,215.8 978.1,216.0 980.9,216.1 983.6,216.3 986.3,216.4 989.0,216.5 991.7,216.7 994.5,216.9 997.2,217.0 999.9,217.2 1002.6,217.4 1005.3,217.6 1008.0,217.8 1010.8,218.1 1013.5,218.3 1016.2,218.5 1018.9,218.8 1021.6,219.1 1024.3,219.3 1027.1,219.6 1029.8,219.8 1032.5,220.1 1035.2,220.4 1037.9,220.7 1040.7,221.0 1043.4,221.3 1046.1,221.6 1048.8,221.9 1051.5,222.2 1054.2,222.5 1057.0,222.8 1059.7,223.2 1062.4,223.5 1065.1,223.9 1067.8,224.3 1070.6,224.7 1073.3,225.1 1076.0,225.4 1078.7,225.8 1081.4,226.2 1084.1,226.6 1086.9,227.0 1089.6,227.4 1092.3,227.8 1095.0,228.3 1097.7,228.7 1100.4,229.1 1103.2,229.6 1105.9,230.1 1108.6,230.6 1111.3,231.2 1114.0,231.9 1116.8,232.6 1119.5,233.3 1122.2,234.1 1124.9,235.0 1127.6,235.8 1130.3,236.7 1133.1,237.5 1135.8,238.4 1138.5,239.2 1141.2,240.0 1143.9,240.9 1146.6,241.7 1149.4,242.6 1152.1,243.4 1154.8,244.3 1157.5,245.2 1160.2,246.2 1163.0,247.1 1165.7,248.2 1168.4,249.3 1171.1,250.4 1173.8,251.6 1176.5,252.8 1179.3,254.1 1182.0,255.3 1184.7,256.6 1187.4,257.8 1190.1,259.0 1192.9,260.2 1195.6,261.3 1198.3,262.5 1201.0,263.6 1203.7,264.8 1206.4,265.9 1209.2,267.1 1211.9,268.3 1214.6,269.6 1217.3,271.0 1220.0,272.4 1222.7,273.9 1225.5,275.4 1228.2,277.0 1230.9,278.7" fill="none" stroke="#000" stroke-width="4.4" stroke-linejoin="round" stroke-linecap="butt"/><path d="M145.7 146.0l8.2 8.2M145.7 154.2l8.2 -8.2" stroke="#000" stroke-width="1.3"/><path d="M159.0 146.5l8.2 8.2M159.0 154.7l8.2 -8.2" stroke="#000" stroke-width="1.3"/><path d="M172.3 147.1l8.2 8.2M172.3 155.4l8.2 -8.2" stroke="#000" stroke-width="1.3"/><path d="M185.7 147.9l8.2 8.2M185.7 156.2l8.2 -8.2" stroke="#000" stroke-width="1.3"/><path d="M199.0 148.7l8.2 8.2M199.0 157.0l8.2 -8.2" stroke="#000" stroke-width="1.3"/><path d="M212.4 149.7l8.2 8.2M212.4 158.0l8.2 -8.2" stroke="#000" stroke-width="1.3"/><path d="M225.7 150.9l8.2 8.2M225.7 159.1l8.2 -8.2" stroke="#000" stroke-width="1.3"/><path d="M239.0 152.1l8.2 8.2M239.0 160.4l8.2 -8.2" stroke="#000" stroke-width="1.3"/><path d="M252.4 153.7l8.2 8.2M252.4 162.0l8.2 -8.2" stroke="#000" stroke-width="1.3"/><path d="M265.7 155.4l8.2 8.2M265.7 163.6l8.2 -8.2" stroke="#000" stroke-width="1.3"/><path d="M279.0 156.5l8.2 8.2M279.0 164.8l8.2 -8.2" stroke="#000" stroke-width="1.3"/><path d="M292.4 157.7l8.2 8.2M292.4 165.9l8.2 -8.2" stroke="#000" stroke-width="1.3"/><path d="M305.7 159.4l8.2 8.2M305.7 167.7l8.2 -8.2" stroke="#000" stroke-width="1.3"/><path d="M319.0 161.5l8.2 8.2M319.0 169.8l8.2 -8.2" stroke="#000" stroke-width="1.3"/><path d="M332.4 163.5l8.2 8.2M332.4 171.7l8.2 -8.2" stroke="#000" stroke-width="1.3"/><path d="M345.7 165.0l8.2 8.2M345.7 173.3l8.2 -8.2" stroke="#000" stroke-width="1.3"/><path d="M359.1 166.4l8.2 8.2M359.1 174.6l8.2 -8.2" stroke="#000" stroke-width="1.3"/><path d="M372.4 167.7l8.2 8.2M372.4 176.0l8.2 -8.2" stroke="#000" stroke-width="1.3"/><path d="M385.7 169.1l8.2 8.2M385.7 177.3l8.2 -8.2" stroke="#000" stroke-width="1.3"/><path d="M399.1 170.6l8.2 8.2M399.1 178.8l8.2 -8.2" stroke="#000" stroke-width="1.3"/><path d="M412.4 172.4l8.2 8.2M412.4 180.6l8.2 -8.2" stroke="#000" stroke-width="1.3"/><path d="M425.7 174.3l8.2 8.2M425.7 182.5l8.2 -8.2" stroke="#000" stroke-width="1.3"/><path d="M439.1 176.0l8.2 8.2M439.1 184.2l8.2 -8.2" stroke="#000" stroke-width="1.3"/><path d="M452.4 177.6l8.2 8.2M452.4 185.9l8.2 -8.2" stroke="#000" stroke-width="1.3"/><path d="M465.7 179.3l8.2 8.2M465.7 187.5l8.2 -8.2" stroke="#000" stroke-width="1.3"/><path d="M479.1 181.0l8.2 8.2M479.1 189.2l8.2 -8.2" stroke="#000" stroke-width="1.3"/><path d="M492.4 182.6l8.2 8.2M492.4 190.9l8.2 -8.2" stroke="#000" stroke-width="1.3"/><path d="M505.7 184.3l8.2 8.2M505.7 192.6l8.2 -8.2" stroke="#000" stroke-width="1.3"/><path d="M519.1 185.9l8.2 8.2M519.1 194.2l8.2 -8.2" stroke="#000" stroke-width="1.3"/><path d="M532.4 187.4l8.2 8.2M532.4 195.7l8.2 -8.2" stroke="#000" stroke-width="1.3"/><path d="M545.8 188.9l8.2 8.2M545.8 197.2l8.2 -8.2" stroke="#000" stroke-width="1.3"/><path d="M559.1 190.4l8.2 8.2M559.1 198.7l8.2 -8.2" stroke="#000" stroke-width="1.3"/><path d="M572.4 192.0l8.2 8.2M572.4 200.2l8.2 -8.2" stroke="#000" stroke-width="1.3"/><path d="M585.8 193.5l8.2 8.2M585.8 201.8l8.2 -8.2" stroke="#000" stroke-width="1.3"/><path d="M599.1 195.0l8.2 8.2M599.1 203.2l8.2 -8.2" stroke="#000" stroke-width="1.3"/><path d="M612.4 196.2l8.2 8.2M612.4 204.5l8.2 -8.2" stroke="#000" stroke-width="1.3"/><path d="M625.8 197.3l8.2 8.2M625.8 205.6l8.2 -8.2" stroke="#000" stroke-width="1.3"/><path d="M639.1 198.3l8.2 8.2M639.1 206.6l8.2 -8.2" stroke="#000" stroke-width="1.3"/><path d="M652.4 199.2l8.2 8.2M652.4 207.5l8.2 -8.2" stroke="#000" stroke-width="1.3"/><path d="M665.8 200.1l8.2 8.2M665.8 208.3l8.2 -8.2" stroke="#000" stroke-width="1.3"/><path d="M679.1 200.8l8.2 8.2M679.1 209.0l8.2 -8.2" stroke="#000" stroke-width="1.3"/><path d="M692.5 201.4l8.2 8.2M692.5 209.7l8.2 -8.2" stroke="#000" stroke-width="1.3"/><path d="M705.8 202.0l8.2 8.2M705.8 210.2l8.2 -8.2" stroke="#000" stroke-width="1.3"/><path d="M719.1 202.5l8.2 8.2M719.1 210.8l8.2 -8.2" stroke="#000" stroke-width="1.3"/><path d="M732.5 203.1l8.2 8.2M732.5 211.3l8.2 -8.2" stroke="#000" stroke-width="1.3"/><path d="M745.8 203.6l8.2 8.2M745.8 211.9l8.2 -8.2" stroke="#000" stroke-width="1.3"/><path d="M759.1 204.2l8.2 8.2M759.1 212.4l8.2 -8.2" stroke="#000" stroke-width="1.3"/><path d="M772.5 204.7l8.2 8.2M772.5 213.0l8.2 -8.2" stroke="#000" stroke-width="1.3"/><path d="M785.8 205.3l8.2 8.2M785.8 213.5l8.2 -8.2" stroke="#000" stroke-width="1.3"/><path d="M799.1 205.8l8.2 8.2M799.1 214.1l8.2 -8.2" stroke="#000" stroke-width="1.3"/><path d="M812.5 206.3l8.2 8.2M812.5 214.6l8.2 -8.2" stroke="#000" stroke-width="1.3"/><path d="M825.8 206.9l8.2 8.2M825.8 215.1l8.2 -8.2" stroke="#000" stroke-width="1.3"/><path d="M839.1 207.4l8.2 8.2M839.1 215.6l8.2 -8.2" stroke="#000" stroke-width="1.3"/><path d="M852.5 207.8l8.2 8.2M852.5 216.1l8.2 -8.2" stroke="#000" stroke-width="1.3"/><path d="M865.8 208.3l8.2 8.2M865.8 216.5l8.2 -8.2" stroke="#000" stroke-width="1.3"/><path d="M879.2 208.7l8.2 8.2M879.2 216.9l8.2 -8.2" stroke="#000" stroke-width="1.3"/><path d="M892.5 209.1l8.2 8.2M892.5 217.3l8.2 -8.2" stroke="#000" stroke-width="1.3"/><path d="M905.8 209.5l8.2 8.2M905.8 217.7l8.2 -8.2" stroke="#000" stroke-width="1.3"/><path d="M919.2 209.9l8.2 8.2M919.2 218.1l8.2 -8.2" stroke="#000" stroke-width="1.3"/><path d="M932.5 210.3l8.2 8.2M932.5 218.6l8.2 -8.2" stroke="#000" stroke-width="1.3"/><path d="M945.8 210.8l8.2 8.2M945.8 219.0l8.2 -8.2" stroke="#000" stroke-width="1.3"/><path d="M959.2 211.3l8.2 8.2M959.2 219.6l8.2 -8.2" stroke="#000" stroke-width="1.3"/><path d="M972.5 211.9l8.2 8.2M972.5 220.2l8.2 -8.2" stroke="#000" stroke-width="1.3"/><path d="M985.8 212.6l8.2 8.2M985.8 220.9l8.2 -8.2" stroke="#000" stroke-width="1.3"/><path d="M999.2 213.5l8.2 8.2M999.2 221.8l8.2 -8.2" stroke="#000" stroke-width="1.3"/><path d="M1012.5 214.7l8.2 8.2M1012.5 222.9l8.2 -8.2" stroke="#000" stroke-width="1.3"/><path d="M1025.9 216.0l8.2 8.2M1025.9 224.3l8.2 -8.2" stroke="#000" stroke-width="1.3"/><path d="M1039.2 217.5l8.2 8.2M1039.2 225.7l8.2 -8.2" stroke="#000" stroke-width="1.3"/><path d="M1052.5 219.0l8.2 8.2M1052.5 227.3l8.2 -8.2" stroke="#000" stroke-width="1.3"/><path d="M1065.9 220.8l8.2 8.2M1065.9 229.1l8.2 -8.2" stroke="#000" stroke-width="1.3"/><path d="M1079.2 222.8l8.2 8.2M1079.2 231.1l8.2 -8.2" stroke="#000" stroke-width="1.3"/><path d="M1092.5 224.9l8.2 8.2M1092.5 233.1l8.2 -8.2" stroke="#000" stroke-width="1.3"/><path d="M1105.9 227.4l8.2 8.2M1105.9 235.6l8.2 -8.2" stroke="#000" stroke-width="1.3"/><path d="M1119.2 231.0l8.2 8.2M1119.2 239.3l8.2 -8.2" stroke="#000" stroke-width="1.3"/><path d="M1132.5 235.3l8.2 8.2M1132.5 243.5l8.2 -8.2" stroke="#000" stroke-width="1.3"/><path d="M1145.9 239.4l8.2 8.2M1145.9 247.7l8.2 -8.2" stroke="#000" stroke-width="1.3"/><path d="M1159.2 244.0l8.2 8.2M1159.2 252.3l8.2 -8.2" stroke="#000" stroke-width="1.3"/><path d="M1172.5 249.7l8.2 8.2M1172.5 258.0l8.2 -8.2" stroke="#000" stroke-width="1.3"/><path d="M1185.9 255.9l8.2 8.2M1185.9 264.1l8.2 -8.2" stroke="#000" stroke-width="1.3"/><path d="M1199.2 261.6l8.2 8.2M1199.2 269.8l8.2 -8.2" stroke="#000" stroke-width="1.3"/><path d="M1212.6 267.7l8.2 8.2M1212.6 276.0l8.2 -8.2" stroke="#000" stroke-width="1.3"/><path d="M1225.9 275.3l8.2 8.2M1225.9 283.5l8.2 -8.2" stroke="#000" stroke-width="1.3"/><polyline points="146.5,150.0 149.2,150.1 151.9,150.2 154.7,150.3 157.4,150.4 160.1,150.5 162.8,150.6 165.5,150.7 168.2,150.9 171.0,151.0 173.7,151.1 176.4,151.3 179.1,151.4 181.8,151.6 184.5,151.7 187.3,151.9 190.0,152.0 192.7,152.2 195.4,152.4 198.1,152.5 200.9,152.7 203.6,152.9 206.3,153.1 209.0,153.3 211.7,153.5 214.4,153.7 217.2,153.9 219.9,154.1 222.6,154.3 225.3,154.6 228.0,154.8 230.8,155.1 233.5,155.3 236.2,155.6 238.9,155.8 241.6,156.1 244.3,156.4 247.1,156.7 249.8,157.0 252.5,157.4 255.2,157.7 257.9,158.1 260.6,158.4 263.4,158.7 266.1,159.1 268.8,159.4 271.5,159.6 274.2,159.9 277.0,160.1 279.7,160.4 282.4,160.6 285.1,160.8 287.8,161.0 290.5,161.2 293.3,161.5 296.0,161.8 298.7,162.1 301.4,162.4 304.1,162.7 306.8,163.1 309.6,163.5 312.3,163.9 315.0,164.4 317.7,164.8 320.4,165.2 323.2,165.7 325.9,166.1 328.6,166.5 331.3,166.9 334.0,167.3 336.7,167.6 339.5,167.9 342.2,168.3 344.9,168.6 347.6,168.9 350.3,169.2 353.1,169.5 355.8,169.8 358.5,170.0 361.2,170.3 363.9,170.6 366.6,170.9 369.4,171.1 372.1,171.4 374.8,171.7 377.5,171.9 380.2,172.2 382.9,172.5 385.7,172.8 388.4,173.0 391.1,173.3 393.8,173.6 396.5,173.9 399.3,174.2 402.0,174.6 404.7,174.9 407.4,175.2 410.1,175.6 412.8,176.0 415.6,176.4 418.3,176.8 421.0,177.2 423.7,177.6 426.4,177.9 429.2,178.3 431.9,178.7 434.6,179.0 437.3,179.4 440.0,179.7 442.7,180.1 445.5,180.4 448.2,180.7 450.9,181.1 453.6,181.4 456.3,181.7 459.0,182.1 461.8,182.4 464.5,182.7 467.2,183.1 469.9,183.4 472.6,183.7 475.4,184.1 478.1,184.4 480.8,184.8 483.5,185.1 486.2,185.5 488.9,185.8 491.7,186.2 494.4,186.5 497.1,186.8 499.8,187.2 502.5,187.5 505.2,187.9 508.0,188.2 510.7,188.5 513.4,188.9 516.1,189.2 518.8,189.5 521.6,189.9 524.3,190.2 527.0,190.5 529.7,190.8 532.4,191.1 535.1,191.4 537.9,191.7 540.6,192.0 543.3,192.3 546.0,192.6 548.7,192.9 551.5,193.2 554.2,193.5 556.9,193.8 559.6,194.1 562.3,194.4 565.0,194.8 567.8,195.1 570.5,195.4 573.2,195.7 575.9,196.0 578.6,196.3 581.3,196.7 584.1,197.0 586.8,197.3 589.5,197.6 592.2,197.9 594.9,198.2 597.7,198.5 600.4,198.8 603.1,199.1 605.8,199.3 608.5,199.6 611.2,199.9 614.0,200.1 616.7,200.4 619.4,200.6 622.1,200.8 624.8,201.0 627.5,201.3 630.3,201.5 633.0,201.7 635.7,201.9 638.4,202.1 641.1,202.3 643.9,202.5 646.6,202.7 649.3,202.9 652.0,203.0 654.7,203.2 657.4,203.4 660.2,203.6 662.9,203.8 665.6,203.9 668.3,204.1 671.0,204.2 673.8,204.4 676.5,204.6 679.2,204.7 681.9,204.8 684.6,205.0 687.3,205.1 690.1,205.3 692.8,205.4 695.5,205.5 698.2,205.6 700.9,205.7 703.6,205.8 706.4,206.0 709.1,206.1 711.8,206.2 714.5,206.3 717.2,206.4 720.0,206.5 722.7,206.6 725.4,206.7 728.1,206.8 730.8,207.0 733.5,207.1 736.3,207.2 739.0,207.3 741.7,207.4 744.4,207.5 747.1,207.6 749.9,207.8 752.6,207.9 755.3,208.0 758.0,208.1 760.7,208.2 763.4,208.3 766.2,208.4 768.9,208.5 771.6,208.7 774.3,208.8 777.0,208.9 779.7,209.0 782.5,209.1 785.2,209.2 787.9,209.3 790.6,209.4 793.3,209.5 796.1,209.7 798.8,209.8 801.5,209.9 804.2,210.0 806.9,210.1 809.6,210.2 812.4,210.3 815.1,210.4 817.8,210.5 820.5,210.6 823.2,210.7 825.9,210.8 828.7,210.9 831.4,211.0 834.1,211.2 836.8,211.3 839.5,211.4 842.3,211.5 845.0,211.6 847.7,211.7 850.4,211.8 853.1,211.9 855.8,211.9 858.6,212.0 861.3,212.1 864.0,212.2 866.7,212.3 869.4,212.4 872.2,212.5 874.9,212.6 877.6,212.6 880.3,212.7 883.0,212.8 885.7,212.9 888.5,213.0 891.2,213.0 893.9,213.1 896.6,213.2 899.3,213.3 902.0,213.4 904.8,213.4 907.5,213.5 910.2,213.6 912.9,213.7 915.6,213.8 918.4,213.8 921.1,213.9 923.8,214.0 926.5,214.1 929.2,214.2 931.9,214.3 934.7,214.4 937.4,214.5 940.1,214.6 942.8,214.7 945.5,214.8 948.2,214.9 951.0,215.0 953.7,215.1 956.4,215.2 959.1,215.3 961.8,215.4 964.6,215.5 967.3,215.6 970.0,215.7 972.7,215.9 975.4,216.0 978.1,216.1 980.9,216.3 983.6,216.4 986.3,216.6 989.0,216.7 991.7,216.9 994.5,217.0 997.2,217.2 999.9,217.4 1002.6,217.6 1005.3,217.8 1008.0,218.0 1010.8,218.3 1013.5,218.5 1016.2,218.8 1018.9,219.0 1021.6,219.3 1024.3,219.6 1027.1,219.9 1029.8,220.1 1032.5,220.4 1035.2,220.7 1037.9,221.0 1040.7,221.3 1043.4,221.6 1046.1,221.9 1048.8,222.2 1051.5,222.5 1054.2,222.9 1057.0,223.2 1059.7,223.6 1062.4,223.9 1065.1,224.3 1067.8,224.7 1070.6,225.0 1073.3,225.4 1076.0,225.8 1078.7,226.2 1081.4,226.6 1084.1,227.0 1086.9,227.5 1089.6,227.9 1092.3,228.3 1095.0,228.7 1097.7,229.2 1100.4,229.6 1103.2,230.1 1105.9,230.6 1108.6,231.2 1111.3,231.8 1114.0,232.5 1116.8,233.2 1119.5,234.0 1122.2,234.8 1124.9,235.6 1127.6,236.5 1130.3,237.4 1133.1,238.3 1135.8,239.1 1138.5,240.0 1141.2,240.8 1143.9,241.6 1146.6,242.5 1149.4,243.3 1152.1,244.2 1154.8,245.1 1157.5,246.0 1160.2,247.0 1163.0,248.0 1165.7,249.0 1168.4,250.2 1171.1,251.3 1173.8,252.5 1176.5,253.8 1179.3,255.1 1182.0,256.3 1184.7,257.6 1187.4,258.8 1190.1,260.1 1192.9,261.3 1195.6,262.4 1198.3,263.6 1201.0,264.7 1203.7,265.9 1206.4,267.1 1209.2,268.3 1211.9,269.5 1214.6,270.8 1217.3,272.2 1220.0,273.6 1222.7,275.1 1225.5,276.7 1228.2,278.3 1230.9,279.9" fill="none" stroke="#000" stroke-width="4.4" stroke-linejoin="round" stroke-linecap="butt"/><polyline points="146.5,154.5 149.2,154.5 151.9,154.6 154.7,154.7 157.4,154.8 160.1,154.9 162.8,155.0 165.5,155.1 168.2,155.2 171.0,155.3 173.7,155.4 176.4,155.5 179.1,155.7 181.8,155.8 184.5,155.9 187.3,156.1 190.0,156.2 192.7,156.4 195.4,156.5 198.1,156.7 200.9,156.8 203.6,157.0 206.3,157.1 209.0,157.3 211.7,157.5 214.4,157.7 217.2,157.9 219.9,158.1 222.6,158.3 225.3,158.5 228.0,158.7 230.8,159.0 233.5,159.2 236.2,159.4 238.9,159.7 241.6,159.9 244.3,160.2 247.1,160.5 249.8,160.8 252.5,161.1 255.2,161.4 257.9,161.7 260.6,162.1 263.4,162.4 266.1,162.7 268.8,163.0 271.5,163.2 274.2,163.4 277.0,163.6 279.7,163.8 282.4,164.0 285.1,164.2 287.8,164.4 290.5,164.6 293.3,164.8 296.0,165.1 298.7,165.4 301.4,165.7 304.1,166.0 306.8,166.4 309.6,166.8 312.3,167.2 315.0,167.6 317.7,168.0 320.4,168.4 323.2,168.9 325.9,169.3 328.6,169.7 331.3,170.0 334.0,170.4 336.7,170.7 339.5,171.0 342.2,171.3 344.9,171.6 347.6,171.9 350.3,172.1 353.1,172.4 355.8,172.6 358.5,172.9 361.2,173.1 363.9,173.3 366.6,173.6 369.4,173.8 372.1,174.0 374.8,174.2 377.5,174.5 380.2,174.7 382.9,174.9 385.7,175.2 388.4,175.4 391.1,175.7 393.8,175.9 396.5,176.2 399.3,176.5 402.0,176.7 404.7,177.0 407.4,177.3 410.1,177.7 412.8,178.0 415.6,178.4 418.3,178.7 421.0,179.1 423.7,179.4 426.4,179.8 429.2,180.1 431.9,180.5 434.6,180.8 437.3,181.1 440.0,181.4 442.7,181.7 445.5,182.0 448.2,182.3 450.9,182.6 453.6,182.9 456.3,183.2 459.0,183.5 461.8,183.8 464.5,184.2 467.2,184.5 469.9,184.8 472.6,185.1 475.4,185.4 478.1,185.7 480.8,186.0 483.5,186.3 486.2,186.7 488.9,187.0 491.7,187.3 494.4,187.6 497.1,187.9 499.8,188.3 502.5,188.6 505.2,188.9 508.0,189.2 510.7,189.5 513.4,189.8 516.1,190.1 518.8,190.4 521.6,190.8 524.3,191.1 527.0,191.4 529.7,191.6 532.4,191.9 535.1,192.2 537.9,192.5 540.6,192.8 543.3,193.1 546.0,193.4 548.7,193.7 551.5,194.0 554.2,194.3 556.9,194.6 559.6,194.9 562.3,195.2 565.0,195.5 567.8,195.8 570.5,196.1 573.2,196.4 575.9,196.7 578.6,197.0 581.3,197.3 584.1,197.6 586.8,197.9 589.5,198.2 592.2,198.5 594.9,198.8 597.7,199.1 600.4,199.4 603.1,199.7 605.8,199.9 608.5,200.2 611.2,200.5 614.0,200.7 616.7,200.9 619.4,201.1 622.1,201.4 624.8,201.6 627.5,201.8 630.3,202.0 633.0,202.2 635.7,202.4 638.4,202.6 641.1,202.7 643.9,202.9 646.6,203.1 649.3,203.3 652.0,203.5 654.7,203.6 657.4,203.8 660.2,203.9 662.9,204.1 665.6,204.3 668.3,204.4 671.0,204.6 673.8,204.7 676.5,204.9 679.2,205.0 681.9,205.1 684.6,205.3 687.3,205.4 690.1,205.5 692.8,205.7 695.5,205.8 698.2,205.9 700.9,206.0 703.6,206.1 706.4,206.3 709.1,206.4 711.8,206.5 714.5,206.6 717.2,206.7 720.0,206.8 722.7,206.9 725.4,207.0 728.1,207.1 730.8,207.3 733.5,207.4 736.3,207.5 739.0,207.6 741.7,207.7 744.4,207.8 747.1,207.9 749.9,208.0 752.6,208.1 755.3,208.3 758.0,208.4 760.7,208.5 763.4,208.6 766.2,208.7 768.9,208.8 771.6,208.9 774.3,209.0 777.0,209.1 779.7,209.2 782.5,209.4 785.2,209.5 787.9,209.6 790.6,209.7 793.3,209.8 796.1,209.9 798.8,210.0 801.5,210.1 804.2,210.2 806.9,210.3 809.6,210.4 812.4,210.5 815.1,210.6 817.8,210.7 820.5,210.8 823.2,210.9 825.9,211.0 828.7,211.1 831.4,211.2 834.1,211.3 836.8,211.4 839.5,211.5 842.3,211.6 845.0,211.7 847.7,211.8 850.4,211.9 853.1,212.0 855.8,212.1 858.6,212.2 861.3,212.3 864.0,212.4 866.7,212.5 869.4,212.5 872.2,212.6 874.9,212.7 877.6,212.8 880.3,212.9 883.0,212.9 885.7,213.0 888.5,213.1 891.2,213.2 893.9,213.2 896.6,213.3 899.3,213.4 902.0,213.5 904.8,213.5 907.5,213.6 910.2,213.7 912.9,213.8 915.6,213.8 918.4,213.9 921.1,214.0 923.8,214.1 926.5,214.2 929.2,214.3 931.9,214.3 934.7,214.4 937.4,214.5 940.1,214.6 942.8,214.7 945.5,214.8 948.2,214.9 951.0,215.0 953.7,215.1 956.4,215.2 959.1,215.3 961.8,215.4 964.6,215.5 967.3,215.6 970.0,215.7 972.7,215.8 975.4,216.0 978.1,216.1 980.9,216.2 983.6,216.3 986.3,216.5 989.0,216.6 991.7,216.8 994.5,216.9 997.2,217.1 999.9,217.3 1002.6,217.5 1005.3,217.7 1008.0,217.9 1010.8,218.1 1013.5,218.3 1016.2,218.5 1018.9,218.8 1021.6,219.0 1024.3,219.3 1027.1,219.5 1029.8,219.8 1032.5,220.0 1035.2,220.3 1037.9,220.6 1040.7,220.8 1043.4,221.1 1046.1,221.4 1048.8,221.7 1051.5,222.0 1054.2,222.3 1057.0,222.6 1059.7,222.9 1062.4,223.3 1065.1,223.6 1067.8,224.0 1070.6,224.3 1073.3,224.7 1076.0,225.0 1078.7,225.4 1081.4,225.8 1084.1,226.1 1086.9,226.5 1089.6,226.9 1092.3,227.3 1095.0,227.6 1097.7,228.0 1100.4,228.4 1103.2,228.9 1105.9,229.3 1108.6,229.8 1111.3,230.4 1114.0,231.0 1116.8,231.7 1119.5,232.4 1122.2,233.2 1124.9,234.0 1127.6,234.8 1130.3,235.6 1133.1,236.5 1135.8,237.3 1138.5,238.1 1141.2,238.9 1143.9,239.7 1146.6,240.6 1149.4,241.4 1152.1,242.2 1154.8,243.1 1157.5,244.0 1160.2,244.9 1163.0,245.9 1165.7,246.9 1168.4,248.0 1171.1,249.1 1173.8,250.3 1176.5,251.4 1179.3,252.7 1182.0,253.9 1184.7,255.1 1187.4,256.3 1190.1,257.4 1192.9,258.6 1195.6,259.7 1198.3,260.8 1201.0,262.0 1203.7,263.1 1206.4,264.2 1209.2,265.4 1211.9,266.6 1214.6,267.9 1217.3,269.2 1220.0,270.6 1222.7,272.1 1225.5,273.6 1228.2,275.2 1230.9,276.8" fill="none" stroke="#000" stroke-width="4.4" stroke-linejoin="round" stroke-linecap="butt"/></g><circle cx="150.9" cy="828.0" r="6.0" fill="#c4c4c4" stroke="#000" stroke-width="1.1"/><circle cx="164.2" cy="830.2" r="6.0" fill="#c4c4c4" stroke="#000" stroke-width="1.1"/><circle cx="177.6" cy="832.3" r="6.0" fill="#c4c4c4" stroke="#000" stroke-width="1.1"/><circle cx="190.9" cy="834.5" r="6.0" fill="#c4c4c4" stroke="#000" stroke-width="1.1"/><circle cx="204.2" cy="836.6" r="6.0" fill="#c4c4c4" stroke="#000" stroke-width="1.1"/><circle cx="217.6" cy="838.6" r="6.0" fill="#c4c4c4" stroke="#000" stroke-width="1.1"/><circle cx="230.9" cy="840.7" r="6.0" fill="#c4c4c4" stroke="#000" stroke-width="1.1"/><circle cx="244.3" cy="842.7" r="6.0" fill="#c4c4c4" stroke="#000" stroke-width="1.1"/><circle cx="257.6" cy="844.6" r="6.0" fill="#c4c4c4" stroke="#000" stroke-width="1.1"/><circle cx="270.9" cy="846.6" r="6.0" fill="#c4c4c4" stroke="#000" stroke-width="1.1"/><circle cx="284.3" cy="848.5" r="6.0" fill="#c4c4c4" stroke="#000" stroke-width="1.1"/><circle cx="297.6" cy="850.3" r="6.0" fill="#c4c4c4" stroke="#000" stroke-width="1.1"/><circle cx="310.9" cy="852.2" r="6.0" fill="#c4c4c4" stroke="#000" stroke-width="1.1"/><circle cx="324.3" cy="853.9" r="6.0" fill="#c4c4c4" stroke="#000" stroke-width="1.1"/><circle cx="337.6" cy="855.7" r="6.0" fill="#c4c4c4" stroke="#000" stroke-width="1.1"/><circle cx="350.9" cy="857.4" r="6.0" fill="#c4c4c4" stroke="#000" stroke-width="1.1"/><circle cx="364.3" cy="859.1" r="6.0" fill="#c4c4c4" stroke="#000" stroke-width="1.1"/><circle cx="377.6" cy="860.7" r="6.0" fill="#c4c4c4" stroke="#000" stroke-width="1.1"/><circle cx="390.9" cy="862.3" r="6.0" fill="#c4c4c4" stroke="#000" stroke-width="1.1"/><circle cx="404.3" cy="863.9" r="6.0" fill="#c4c4c4" stroke="#000" stroke-width="1.1"/><circle cx="417.6" cy="865.4" r="6.0" fill="#c4c4c4" stroke="#000" stroke-width="1.1"/><circle cx="431.0" cy="866.9" r="6.0" fill="#c4c4c4" stroke="#000" stroke-width="1.1"/><circle cx="444.3" cy="868.4" r="6.0" fill="#c4c4c4" stroke="#000" stroke-width="1.1"/><circle cx="457.6" cy="869.8" r="6.0" fill="#c4c4c4" stroke="#000" stroke-width="1.1"/><circle cx="471.0" cy="871.2" r="6.0" fill="#c4c4c4" stroke="#000" stroke-width="1.1"/><circle cx="484.3" cy="872.5" r="6.0" fill="#c4c4c4" stroke="#000" stroke-width="1.1"/><circle cx="497.6" cy="873.8" r="6.0" fill="#c4c4c4" stroke="#000" stroke-width="1.1"/><circle cx="511.0" cy="875.1" r="6.0" fill="#c4c4c4" stroke="#000" stroke-width="1.1"/><circle cx="524.3" cy="876.3" r="6.0" fill="#c4c4c4" stroke="#000" stroke-width="1.1"/><circle cx="537.6" cy="877.4" r="6.0" fill="#c4c4c4" stroke="#000" stroke-width="1.1"/><circle cx="551.0" cy="878.6" r="6.0" fill="#c4c4c4" stroke="#000" stroke-width="1.1"/><circle cx="564.3" cy="879.7" r="6.0" fill="#c4c4c4" stroke="#000" stroke-width="1.1"/><circle cx="577.7" cy="880.7" r="6.0" fill="#c4c4c4" stroke="#000" stroke-width="1.1"/><circle cx="591.0" cy="881.7" r="6.0" fill="#c4c4c4" stroke="#000" stroke-width="1.1"/><circle cx="604.3" cy="882.7" r="6.0" fill="#c4c4c4" stroke="#000" stroke-width="1.1"/><circle cx="617.7" cy="883.6" r="6.0" fill="#c4c4c4" stroke="#000" stroke-width="1.1"/><circle cx="631.0" cy="884.5" r="6.0" fill="#c4c4c4" stroke="#000" stroke-width="1.1"/><circle cx="644.3" cy="885.4" r="6.0" fill="#c4c4c4" stroke="#000" stroke-width="1.1"/><circle cx="657.7" cy="886.2" r="6.0" fill="#c4c4c4" stroke="#000" stroke-width="1.1"/><circle cx="671.0" cy="887.0" r="6.0" fill="#c4c4c4" stroke="#000" stroke-width="1.1"/><circle cx="684.3" cy="887.8" r="6.0" fill="#c4c4c4" stroke="#000" stroke-width="1.1"/><circle cx="697.7" cy="888.5" r="6.0" fill="#c4c4c4" stroke="#000" stroke-width="1.1"/><circle cx="711.0" cy="889.2" r="6.0" fill="#c4c4c4" stroke="#000" stroke-width="1.1"/><circle cx="724.3" cy="889.8" r="6.0" fill="#c4c4c4" stroke="#000" stroke-width="1.1"/><circle cx="737.7" cy="890.5" r="6.0" fill="#c4c4c4" stroke="#000" stroke-width="1.1"/><circle cx="751.0" cy="891.1" r="6.0" fill="#c4c4c4" stroke="#000" stroke-width="1.1"/><circle cx="764.4" cy="891.6" r="6.0" fill="#c4c4c4" stroke="#000" stroke-width="1.1"/><circle cx="777.7" cy="892.2" r="6.0" fill="#c4c4c4" stroke="#000" stroke-width="1.1"/><circle cx="791.0" cy="892.7" r="6.0" fill="#c4c4c4" stroke="#000" stroke-width="1.1"/><circle cx="804.4" cy="893.2" r="6.0" fill="#c4c4c4" stroke="#000" stroke-width="1.1"/><circle cx="817.7" cy="893.7" r="6.0" fill="#c4c4c4" stroke="#000" stroke-width="1.1"/><circle cx="831.0" cy="894.1" r="6.0" fill="#c4c4c4" stroke="#000" stroke-width="1.1"/><circle cx="844.4" cy="894.5" r="6.0" fill="#c4c4c4" stroke="#000" stroke-width="1.1"/><circle cx="857.7" cy="894.9" r="6.0" fill="#c4c4c4" stroke="#000" stroke-width="1.1"/><circle cx="871.0" cy="895.3" r="6.0" fill="#c4c4c4" stroke="#000" stroke-width="1.1"/><circle cx="884.4" cy="895.7" r="6.0" fill="#c4c4c4" stroke="#000" stroke-width="1.1"/><circle cx="897.7" cy="896.0" r="6.0" fill="#c4c4c4" stroke="#000" stroke-width="1.1"/><circle cx="911.1" cy="896.3" r="6.0" fill="#c4c4c4" stroke="#000" stroke-width="1.1"/><circle cx="924.4" cy="896.6" r="6.0" fill="#c4c4c4" stroke="#000" stroke-width="1.1"/><circle cx="937.7" cy="896.9" r="6.0" fill="#c4c4c4" stroke="#000" stroke-width="1.1"/><circle cx="951.1" cy="897.2" r="6.0" fill="#c4c4c4" stroke="#000" stroke-width="1.1"/><circle cx="964.4" cy="897.5" r="6.0" fill="#c4c4c4" stroke="#000" stroke-width="1.1"/><circle cx="977.7" cy="897.7" r="6.0" fill="#c4c4c4" stroke="#000" stroke-width="1.1"/><circle cx="991.1" cy="897.9" r="6.0" fill="#c4c4c4" stroke="#000" stroke-width="1.1"/><circle cx="1004.4" cy="898.1" r="6.0" fill="#c4c4c4" stroke="#000" stroke-width="1.1"/><circle cx="1017.7" cy="898.4" r="6.0" fill="#c4c4c4" stroke="#000" stroke-width="1.1"/><circle cx="1031.1" cy="898.6" r="6.0" fill="#c4c4c4" stroke="#000" stroke-width="1.1"/><circle cx="1044.4" cy="898.7" r="6.0" fill="#c4c4c4" stroke="#000" stroke-width="1.1"/><circle cx="1057.7" cy="898.9" r="6.0" fill="#c4c4c4" stroke="#000" stroke-width="1.1"/><circle cx="1071.1" cy="899.1" r="6.0" fill="#c4c4c4" stroke="#000" stroke-width="1.1"/><circle cx="1084.4" cy="899.3" r="6.0" fill="#c4c4c4" stroke="#000" stroke-width="1.1"/><circle cx="1097.8" cy="899.4" r="6.0" fill="#c4c4c4" stroke="#000" stroke-width="1.1"/><circle cx="1111.1" cy="899.6" r="6.0" fill="#c4c4c4" stroke="#000" stroke-width="1.1"/><circle cx="1124.4" cy="899.7" r="6.0" fill="#c4c4c4" stroke="#000" stroke-width="1.1"/><circle cx="1137.8" cy="899.9" r="6.0" fill="#c4c4c4" stroke="#000" stroke-width="1.1"/><circle cx="1151.1" cy="900.0" r="6.0" fill="#c4c4c4" stroke="#000" stroke-width="1.1"/><circle cx="1164.4" cy="900.2" r="6.0" fill="#c4c4c4" stroke="#000" stroke-width="1.1"/><circle cx="1177.8" cy="900.3" r="6.0" fill="#c4c4c4" stroke="#000" stroke-width="1.1"/><circle cx="1191.1" cy="900.5" r="6.0" fill="#c4c4c4" stroke="#000" stroke-width="1.1"/><circle cx="1204.4" cy="900.6" r="6.0" fill="#c4c4c4" stroke="#000" stroke-width="1.1"/><circle cx="1217.8" cy="900.8" r="6.0" fill="#c4c4c4" stroke="#000" stroke-width="1.1"/><circle cx="1231.1" cy="900.9" r="6.0" fill="#c4c4c4" stroke="#000" stroke-width="1.1"/><path d="M150.9 870.5L156.4 877.7L150.9 884.9L145.4 877.7Z" fill="#c4c4c4" stroke="#000" stroke-width="1.1"/><path d="M164.2 871.1L169.7 878.2L164.2 885.4L158.8 878.2Z" fill="#c4c4c4" stroke="#000" stroke-width="1.1"/><path d="M177.6 871.6L183.0 878.8L177.6 886.0L172.1 878.8Z" fill="#c4c4c4" stroke="#000" stroke-width="1.1"/><path d="M190.9 872.1L196.4 879.3L190.9 886.5L185.4 879.3Z" fill="#c4c4c4" stroke="#000" stroke-width="1.1"/><path d="M204.2 872.6L209.7 879.8L204.2 887.0L198.8 879.8Z" fill="#c4c4c4" stroke="#000" stroke-width="1.1"/><path d="M217.6 873.1L223.0 880.3L217.6 887.5L212.1 880.3Z" fill="#c4c4c4" stroke="#000" stroke-width="1.1"/><path d="M230.9 873.6L236.4 880.8L230.9 888.0L225.5 880.8Z" fill="#c4c4c4" stroke="#000" stroke-width="1.1"/><path d="M244.3 874.1L249.7 881.3L244.3 888.5L238.8 881.3Z" fill="#c4c4c4" stroke="#000" stroke-width="1.1"/><path d="M257.6 874.6L263.1 881.8L257.6 889.0L252.1 881.8Z" fill="#c4c4c4" stroke="#000" stroke-width="1.1"/><path d="M270.9 875.1L276.4 882.3L270.9 889.5L265.5 882.3Z" fill="#c4c4c4" stroke="#000" stroke-width="1.1"/><path d="M284.3 875.6L289.7 882.8L284.3 890.0L278.8 882.8Z" fill="#c4c4c4" stroke="#000" stroke-width="1.1"/><path d="M297.6 876.1L303.1 883.3L297.6 890.5L292.1 883.3Z" fill="#c4c4c4" stroke="#000" stroke-width="1.1"/><path d="M310.9 876.6L316.4 883.7L310.9 890.9L305.5 883.7Z" fill="#c4c4c4" stroke="#000" stroke-width="1.1"/><path d="M324.3 877.0L329.7 884.2L324.3 891.4L318.8 884.2Z" fill="#c4c4c4" stroke="#000" stroke-width="1.1"/><path d="M337.6 877.5L343.1 884.7L337.6 891.8L332.1 884.7Z" fill="#c4c4c4" stroke="#000" stroke-width="1.1"/><path d="M350.9 877.9L356.4 885.1L350.9 892.3L345.5 885.1Z" fill="#c4c4c4" stroke="#000" stroke-width="1.1"/><path d="M364.3 878.4L369.7 885.5L364.3 892.7L358.8 885.5Z" fill="#c4c4c4" stroke="#000" stroke-width="1.1"/><path d="M377.6 878.8L383.1 886.0L377.6 893.2L372.1 886.0Z" fill="#c4c4c4" stroke="#000" stroke-width="1.1"/><path d="M390.9 879.2L396.4 886.4L390.9 893.6L385.5 886.4Z" fill="#c4c4c4" stroke="#000" stroke-width="1.1"/><path d="M404.3 879.7L409.7 886.8L404.3 894.0L398.8 886.8Z" fill="#c4c4c4" stroke="#000" stroke-width="1.1"/><path d="M417.6 880.1L423.1 887.3L417.6 894.4L412.2 887.3Z" fill="#c4c4c4" stroke="#000" stroke-width="1.1"/><path d="M431.0 880.5L436.4 887.7L431.0 894.9L425.5 887.7Z" fill="#c4c4c4" stroke="#000" stroke-width="1.1"/><path d="M444.3 880.9L449.8 888.1L444.3 895.3L438.8 888.1Z" fill="#c4c4c4" stroke="#000" stroke-width="1.1"/><path d="M457.6 881.3L463.1 888.5L457.6 895.7L452.2 888.5Z" fill="#c4c4c4" stroke="#000" stroke-width="1.1"/><path d="M471.0 881.7L476.4 888.9L471.0 896.1L465.5 888.9Z" fill="#c4c4c4" stroke="#000" stroke-width="1.1"/><path d="M484.3 882.1L489.8 889.3L484.3 896.4L478.8 889.3Z" fill="#c4c4c4" stroke="#000" stroke-width="1.1"/><path d="M497.6 882.4L503.1 889.6L497.6 896.8L492.2 889.6Z" fill="#c4c4c4" stroke="#000" stroke-width="1.1"/><path d="M511.0 882.8L516.4 890.0L511.0 897.2L505.5 890.0Z" fill="#c4c4c4" stroke="#000" stroke-width="1.1"/><path d="M524.3 883.2L529.8 890.4L524.3 897.6L518.8 890.4Z" fill="#c4c4c4" stroke="#000" stroke-width="1.1"/><path d="M537.6 883.6L543.1 890.7L537.6 897.9L532.2 890.7Z" fill="#c4c4c4" stroke="#000" stroke-width="1.1"/><path d="M551.0 883.9L556.4 891.1L551.0 898.3L545.5 891.1Z" fill="#c4c4c4" stroke="#000" stroke-width="1.1"/><path d="M564.3 884.3L569.8 891.5L564.3 898.6L558.9 891.5Z" fill="#c4c4c4" stroke="#000" stroke-width="1.1"/><path d="M577.7 884.6L583.1 891.8L577.7 899.0L572.2 891.8Z" fill="#c4c4c4" stroke="#000" stroke-width="1.1"/><path d="M591.0 885.0L596.5 892.1L591.0 899.3L585.5 892.1Z" fill="#c4c4c4" stroke="#000" stroke-width="1.1"/><path d="M604.3 885.3L609.8 892.5L604.3 899.7L598.9 892.5Z" fill="#c4c4c4" stroke="#000" stroke-width="1.1"/><path d="M617.7 885.6L623.1 892.8L617.7 900.0L612.2 892.8Z" fill="#c4c4c4" stroke="#000" stroke-width="1.1"/><path d="M631.0 885.9L636.5 893.1L631.0 900.3L625.5 893.1Z" fill="#c4c4c4" stroke="#000" stroke-width="1.1"/><path d="M644.3 886.3L649.8 893.5L644.3 900.6L638.9 893.5Z" fill="#c4c4c4" stroke="#000" stroke-width="1.1"/><path d="M657.7 886.6L663.1 893.8L657.7 901.0L652.2 893.8Z" fill="#c4c4c4" stroke="#000" stroke-width="1.1"/><path d="M671.0 886.9L676.5 894.1L671.0 901.3L665.5 894.1Z" fill="#c4c4c4" stroke="#000" stroke-width="1.1"/><path d="M684.3 887.2L689.8 894.4L684.3 901.6L678.9 894.4Z" fill="#c4c4c4" stroke="#000" stroke-width="1.1"/><path d="M697.7 887.5L703.1 894.7L697.7 901.9L692.2 894.7Z" fill="#c4c4c4" stroke="#000" stroke-width="1.1"/><path d="M711.0 887.8L716.5 895.0L711.0 902.1L705.5 895.0Z" fill="#c4c4c4" stroke="#000" stroke-width="1.1"/><path d="M724.3 888.1L729.8 895.2L724.3 902.4L718.9 895.2Z" fill="#c4c4c4" stroke="#000" stroke-width="1.1"/><path d="M737.7 888.3L743.1 895.5L737.7 902.7L732.2 895.5Z" fill="#c4c4c4" stroke="#000" stroke-width="1.1"/><path d="M751.0 888.6L756.5 895.8L751.0 903.0L745.6 895.8Z" fill="#c4c4c4" stroke="#000" stroke-width="1.1"/><path d="M764.4 888.9L769.8 896.1L764.4 903.3L758.9 896.1Z" fill="#c4c4c4" stroke="#000" stroke-width="1.1"/><path d="M777.7 889.1L783.2 896.3L777.7 903.5L772.2 896.3Z" fill="#c4c4c4" stroke="#000" stroke-width="1.1"/><path d="M791.0 889.4L796.5 896.6L791.0 903.8L785.6 896.6Z" fill="#c4c4c4" stroke="#000" stroke-width="1.1"/><path d="M804.4 889.6L809.8 896.8L804.4 904.0L798.9 896.8Z" fill="#c4c4c4" stroke="#000" stroke-width="1.1"/><path d="M817.7 889.9L823.2 897.1L817.7 904.3L812.2 897.1Z" fill="#c4c4c4" stroke="#000" stroke-width="1.1"/><path d="M831.0 890.1L836.5 897.3L831.0 904.5L825.6 897.3Z" fill="#c4c4c4" stroke="#000" stroke-width="1.1"/><path d="M844.4 890.4L849.8 897.6L844.4 904.7L838.9 897.6Z" fill="#c4c4c4" stroke="#000" stroke-width="1.1"/><path d="M857.7 890.6L863.2 897.8L857.7 905.0L852.2 897.8Z" fill="#c4c4c4" stroke="#000" stroke-width="1.1"/><path d="M871.0 890.8L876.5 898.0L871.0 905.2L865.6 898.0Z" fill="#c4c4c4" stroke="#000" stroke-width="1.1"/><path d="M884.4 891.1L889.8 898.2L884.4 905.4L878.9 898.2Z" fill="#c4c4c4" stroke="#000" stroke-width="1.1"/><path d="M897.7 891.3L903.2 898.5L897.7 905.6L892.3 898.5Z" fill="#c4c4c4" stroke="#000" stroke-width="1.1"/><path d="M911.1 891.5L916.5 898.7L911.1 905.9L905.6 898.7Z" fill="#c4c4c4" stroke="#000" stroke-width="1.1"/><path d="M924.4 891.7L929.9 898.9L924.4 906.1L918.9 898.9Z" fill="#c4c4c4" stroke="#000" stroke-width="1.1"/><path d="M937.7 891.9L943.2 899.1L937.7 906.3L932.3 899.1Z" fill="#c4c4c4" stroke="#000" stroke-width="1.1"/><path d="M951.1 892.1L956.5 899.3L951.1 906.5L945.6 899.3Z" fill="#c4c4c4" stroke="#000" stroke-width="1.1"/><path d="M964.4 892.3L969.9 899.5L964.4 906.6L958.9 899.5Z" fill="#c4c4c4" stroke="#000" stroke-width="1.1"/><path d="M977.7 892.5L983.2 899.6L977.7 906.8L972.3 899.6Z" fill="#c4c4c4" stroke="#000" stroke-width="1.1"/><path d="M991.1 892.6L996.5 899.8L991.1 907.0L985.6 899.8Z" fill="#c4c4c4" stroke="#000" stroke-width="1.1"/><path d="M1004.4 892.8L1009.9 900.0L1004.4 907.2L998.9 900.0Z" fill="#c4c4c4" stroke="#000" stroke-width="1.1"/><path d="M1017.7 893.0L1023.2 900.2L1017.7 907.4L1012.3 900.2Z" fill="#c4c4c4" stroke="#000" stroke-width="1.1"/><path d="M1031.1 893.1L1036.5 900.3L1031.1 907.5L1025.6 900.3Z" fill="#c4c4c4" stroke="#000" stroke-width="1.1"/><path d="M1044.4 893.3L1049.9 900.5L1044.4 907.7L1038.9 900.5Z" fill="#c4c4c4" stroke="#000" stroke-width="1.1"/><path d="M1057.7 893.5L1063.2 900.6L1057.7 907.8L1052.3 900.6Z" fill="#c4c4c4" stroke="#000" stroke-width="1.1"/><path d="M1071.1 893.6L1076.5 900.8L1071.1 908.0L1065.6 900.8Z" fill="#c4c4c4" stroke="#000" stroke-width="1.1"/><path d="M1084.4 893.8L1089.9 900.9L1084.4 908.1L1079.0 900.9Z" fill="#c4c4c4" stroke="#000" stroke-width="1.1"/><path d="M1097.8 893.9L1103.2 901.1L1097.8 908.3L1092.3 901.1Z" fill="#c4c4c4" stroke="#000" stroke-width="1.1"/><path d="M1111.1 894.0L1116.6 901.2L1111.1 908.4L1105.6 901.2Z" fill="#c4c4c4" stroke="#000" stroke-width="1.1"/><path d="M1124.4 894.2L1129.9 901.4L1124.4 908.5L1119.0 901.4Z" fill="#c4c4c4" stroke="#000" stroke-width="1.1"/><path d="M1137.8 894.3L1143.2 901.5L1137.8 908.7L1132.3 901.5Z" fill="#c4c4c4" stroke="#000" stroke-width="1.1"/><path d="M1151.1 894.4L1156.6 901.6L1151.1 908.8L1145.6 901.6Z" fill="#c4c4c4" stroke="#000" stroke-width="1.1"/><path d="M1164.4 894.5L1169.9 901.7L1164.4 908.9L1159.0 901.7Z" fill="#c4c4c4" stroke="#000" stroke-width="1.1"/><path d="M1177.8 894.7L1183.2 901.8L1177.8 909.0L1172.3 901.8Z" fill="#c4c4c4" stroke="#000" stroke-width="1.1"/><path d="M1191.1 894.8L1196.6 901.9L1191.1 909.1L1185.6 901.9Z" fill="#c4c4c4" stroke="#000" stroke-width="1.1"/><path d="M1204.4 894.9L1209.9 902.1L1204.4 909.2L1199.0 902.1Z" fill="#c4c4c4" stroke="#000" stroke-width="1.1"/><path d="M1217.8 895.0L1223.2 902.2L1217.8 909.3L1212.3 902.2Z" fill="#c4c4c4" stroke="#000" stroke-width="1.1"/><path d="M1231.1 895.1L1236.6 902.2L1231.1 909.4L1225.7 902.2Z" fill="#c4c4c4" stroke="#000" stroke-width="1.1"/><rect x="146.2" y="858.8" width="9.3" height="9.3" fill="#c4c4c4" stroke="#000" stroke-width="1.1"/><rect x="159.6" y="859.4" width="9.3" height="9.3" fill="#c4c4c4" stroke="#000" stroke-width="1.1"/><rect x="172.9" y="860.1" width="9.3" height="9.3" fill="#c4c4c4" stroke="#000" stroke-width="1.1"/><rect x="186.2" y="860.7" width="9.3" height="9.3" fill="#c4c4c4" stroke="#000" stroke-width="1.1"/><rect x="199.6" y="861.4" width="9.3" height="9.3" fill="#c4c4c4" stroke="#000" stroke-width="1.1"/><rect x="212.9" y="862.1" width="9.3" height="9.3" fill="#c4c4c4" stroke="#000" stroke-width="1.1"/><rect x="226.2" y="862.7" width="9.3" height="9.3" fill="#c4c4c4" stroke="#000" stroke-width="1.1"/><rect x="239.6" y="863.4" width="9.3" height="9.3" fill="#c4c4c4" stroke="#000" stroke-width="1.1"/><rect x="252.9" y="864.1" width="9.3" height="9.3" fill="#c4c4c4" stroke="#000" stroke-width="1.1"/><rect x="266.2" y="864.7" width="9.3" height="9.3" fill="#c4c4c4" stroke="#000" stroke-width="1.1"/><rect x="279.6" y="865.4" width="9.3" height="9.3" fill="#c4c4c4" stroke="#000" stroke-width="1.1"/><rect x="292.9" y="866.0" width="9.3" height="9.3" fill="#c4c4c4" stroke="#000" stroke-width="1.1"/><rect x="306.3" y="866.7" width="9.3" height="9.3" fill="#c4c4c4" stroke="#000" stroke-width="1.1"/><rect x="319.6" y="867.4" width="9.3" height="9.3" fill="#c4c4c4" stroke="#000" stroke-width="1.1"/><rect x="332.9" y="868.0" width="9.3" height="9.3" fill="#c4c4c4" stroke="#000" stroke-width="1.1"/><rect x="346.3" y="868.6" width="9.3" height="9.3" fill="#c4c4c4" stroke="#000" stroke-width="1.1"/><rect x="359.6" y="869.3" width="9.3" height="9.3" fill="#c4c4c4" stroke="#000" stroke-width="1.1"/><rect x="372.9" y="869.9" width="9.3" height="9.3" fill="#c4c4c4" stroke="#000" stroke-width="1.1"/><rect x="386.3" y="870.6" width="9.3" height="9.3" fill="#c4c4c4" stroke="#000" stroke-width="1.1"/><rect x="399.6" y="871.2" width="9.3" height="9.3" fill="#c4c4c4" stroke="#000" stroke-width="1.1"/><rect x="412.9" y="871.9" width="9.3" height="9.3" fill="#c4c4c4" stroke="#000" stroke-width="1.1"/><rect x="426.3" y="872.5" width="9.3" height="9.3" fill="#c4c4c4" stroke="#000" stroke-width="1.1"/><rect x="439.6" y="873.1" width="9.3" height="9.3" fill="#c4c4c4" stroke="#000" stroke-width="1.1"/><rect x="453.0" y="873.7" width="9.3" height="9.3" fill="#c4c4c4" stroke="#000" stroke-width="1.1"/><rect x="466.3" y="874.4" width="9.3" height="9.3" fill="#c4c4c4" stroke="#000" stroke-width="1.1"/><rect x="479.6" y="875.0" width="9.3" height="9.3" fill="#c4c4c4" stroke="#000" stroke-width="1.1"/><rect x="493.0" y="875.6" width="9.3" height="9.3" fill="#c4c4c4" stroke="#000" stroke-width="1.1"/><rect x="506.3" y="876.2" width="9.3" height="9.3" fill="#c4c4c4" stroke="#000" stroke-width="1.1"/><rect x="519.6" y="876.8" width="9.3" height="9.3" fill="#c4c4c4" stroke="#000" stroke-width="1.1"/><rect x="533.0" y="877.4" width="9.3" height="9.3" fill="#c4c4c4" stroke="#000" stroke-width="1.1"/><rect x="546.3" y="878.0" width="9.3" height="9.3" fill="#c4c4c4" stroke="#000" stroke-width="1.1"/><rect x="559.6" y="878.6" width="9.3" height="9.3" fill="#c4c4c4" stroke="#000" stroke-width="1.1"/><rect x="573.0" y="879.1" width="9.3" height="9.3" fill="#c4c4c4" stroke="#000" stroke-width="1.1"/><rect x="586.3" y="879.7" width="9.3" height="9.3" fill="#c4c4c4" stroke="#000" stroke-width="1.1"/><rect x="599.6" y="880.3" width="9.3" height="9.3" fill="#c4c4c4" stroke="#000" stroke-width="1.1"/><rect x="613.0" y="880.9" width="9.3" height="9.3" fill="#c4c4c4" stroke="#000" stroke-width="1.1"/><rect x="626.3" y="881.4" width="9.3" height="9.3" fill="#c4c4c4" stroke="#000" stroke-width="1.1"/><rect x="639.7" y="882.0" width="9.3" height="9.3" fill="#c4c4c4" stroke="#000" stroke-width="1.1"/><rect x="653.0" y="882.5" width="9.3" height="9.3" fill="#c4c4c4" stroke="#000" stroke-width="1.1"/><rect x="666.3" y="883.1" width="9.3" height="9.3" fill="#c4c4c4" stroke="#000" stroke-width="1.1"/><rect x="679.7" y="883.6" width="9.3" height="9.3" fill="#c4c4c4" stroke="#000" stroke-width="1.1"/><rect x="693.0" y="884.1" width="9.3" height="9.3" fill="#c4c4c4" stroke="#000" stroke-width="1.1"/><rect x="706.3" y="884.6" width="9.3" height="9.3" fill="#c4c4c4" stroke="#000" stroke-width="1.1"/><rect x="719.7" y="885.1" width="9.3" height="9.3" fill="#c4c4c4" stroke="#000" stroke-width="1.1"/><rect x="733.0" y="885.6" width="9.3" height="9.3" fill="#c4c4c4" stroke="#000" stroke-width="1.1"/><rect x="746.3" y="886.1" width="9.3" height="9.3" fill="#c4c4c4" stroke="#000" stroke-width="1.1"/><rect x="759.7" y="886.6" width="9.3" height="9.3" fill="#c4c4c4" stroke="#000" stroke-width="1.1"/><rect x="773.0" y="887.1" width="9.3" height="9.3" fill="#c4c4c4" stroke="#000" stroke-width="1.1"/><rect x="786.4" y="887.6" width="9.3" height="9.3" fill="#c4c4c4" stroke="#000" stroke-width="1.1"/><rect x="799.7" y="888.0" width="9.3" height="9.3" fill="#c4c4c4" stroke="#000" stroke-width="1.1"/><rect x="813.0" y="888.5" width="9.3" height="9.3" fill="#c4c4c4" stroke="#000" stroke-width="1.1"/><rect x="826.4" y="888.9" width="9.3" height="9.3" fill="#c4c4c4" stroke="#000" stroke-width="1.1"/><rect x="839.7" y="889.4" width="9.3" height="9.3" fill="#c4c4c4" stroke="#000" stroke-width="1.1"/><rect x="853.0" y="889.8" width="9.3" height="9.3" fill="#c4c4c4" stroke="#000" stroke-width="1.1"/><rect x="866.4" y="890.2" width="9.3" height="9.3" fill="#c4c4c4" stroke="#000" stroke-width="1.1"/><rect x="879.7" y="890.6" width="9.3" height="9.3" fill="#c4c4c4" stroke="#000" stroke-width="1.1"/><rect x="893.0" y="891.0" width="9.3" height="9.3" fill="#c4c4c4" stroke="#000" stroke-width="1.1"/><rect x="906.4" y="891.4" width="9.3" height="9.3" fill="#c4c4c4" stroke="#000" stroke-width="1.1"/><rect x="919.7" y="891.8" width="9.3" height="9.3" fill="#c4c4c4" stroke="#000" stroke-width="1.1"/><rect x="933.0" y="892.2" width="9.3" height="9.3" fill="#c4c4c4" stroke="#000" stroke-width="1.1"/><rect x="946.4" y="892.5" width="9.3" height="9.3" fill="#c4c4c4" stroke="#000" stroke-width="1.1"/><rect x="959.7" y="892.9" width="9.3" height="9.3" fill="#c4c4c4" stroke="#000" stroke-width="1.1"/><rect x="973.1" y="893.2" width="9.3" height="9.3" fill="#c4c4c4" stroke="#000" stroke-width="1.1"/><rect x="986.4" y="893.5" width="9.3" height="9.3" fill="#c4c4c4" stroke="#000" stroke-width="1.1"/><rect x="999.7" y="893.9" width="9.3" height="9.3" fill="#c4c4c4" stroke="#000" stroke-width="1.1"/><rect x="1013.1" y="894.2" width="9.3" height="9.3" fill="#c4c4c4" stroke="#000" stroke-width="1.1"/><rect x="1026.4" y="894.4" width="9.3" height="9.3" fill="#c4c4c4" stroke="#000" stroke-width="1.1"/><rect x="1039.7" y="894.7" width="9.3" height="9.3" fill="#c4c4c4" stroke="#000" stroke-width="1.1"/><rect x="1053.1" y="895.0" width="9.3" height="9.3" fill="#c4c4c4" stroke="#000" stroke-width="1.1"/><rect x="1066.4" y="895.3" width="9.3" height="9.3" fill="#c4c4c4" stroke="#000" stroke-width="1.1"/><rect x="1079.7" y="895.5" width="9.3" height="9.3" fill="#c4c4c4" stroke="#000" stroke-width="1.1"/><rect x="1093.1" y="895.7" width="9.3" height="9.3" fill="#c4c4c4" stroke="#000" stroke-width="1.1"/><rect x="1106.4" y="896.0" width="9.3" height="9.3" fill="#c4c4c4" stroke="#000" stroke-width="1.1"/><rect x="1119.8" y="896.2" width="9.3" height="9.3" fill="#c4c4c4" stroke="#000" stroke-width="1.1"/><rect x="1133.1" y="896.4" width="9.3" height="9.3" fill="#c4c4c4" stroke="#000" stroke-width="1.1"/><rect x="1146.4" y="896.5" width="9.3" height="9.3" fill="#c4c4c4" stroke="#000" stroke-width="1.1"/><rect x="1159.8" y="896.7" width="9.3" height="9.3" fill="#c4c4c4" stroke="#000" stroke-width="1.1"/><rect x="1173.1" y="896.9" width="9.3" height="9.3" fill="#c4c4c4" stroke="#000" stroke-width="1.1"/><rect x="1186.4" y="897.0" width="9.3" height="9.3" fill="#c4c4c4" stroke="#000" stroke-width="1.1"/><rect x="1199.8" y="897.1" width="9.3" height="9.3" fill="#c4c4c4" stroke="#000" stroke-width="1.1"/><rect x="1213.1" y="897.3" width="9.3" height="9.3" fill="#c4c4c4" stroke="#000" stroke-width="1.1"/><rect x="1226.4" y="897.4" width="9.3" height="9.3" fill="#c4c4c4" stroke="#000" stroke-width="1.1"/><path d="M150.9 765.2L152.6 769.7L157.3 769.9L153.6 772.8L154.9 777.4L150.9 774.8L146.9 777.4L148.2 772.8L144.5 769.9L149.2 769.7Z" fill="#9a9a9a" stroke="#000" stroke-width="1.1"/><path d="M164.2 770.0L165.9 774.4L170.7 774.6L166.9 777.6L168.2 782.2L164.2 779.5L160.3 782.2L161.5 777.6L157.8 774.6L162.6 774.4Z" fill="#9a9a9a" stroke="#000" stroke-width="1.1"/><path d="M177.6 774.5L179.2 779.0L184.0 779.2L180.3 782.2L181.5 786.7L177.6 784.1L173.6 786.7L174.9 782.2L171.2 779.2L175.9 779.0Z" fill="#9a9a9a" stroke="#000" stroke-width="1.1"/><path d="M190.9 778.9L192.6 783.4L197.3 783.6L193.6 786.6L194.9 791.2L190.9 788.5L186.9 791.2L188.2 786.6L184.5 783.6L189.2 783.4Z" fill="#9a9a9a" stroke="#000" stroke-width="1.1"/><path d="M204.2 783.2L205.9 787.6L210.7 787.9L206.9 790.8L208.2 795.4L204.2 792.8L200.3 795.4L201.5 790.8L197.8 787.9L202.6 787.6Z" fill="#9a9a9a" stroke="#000" stroke-width="1.1"/><path d="M217.6 787.3L219.2 791.7L224.0 791.9L220.3 794.9L221.5 799.5L217.6 796.9L213.6 799.5L214.9 794.9L211.2 791.9L215.9 791.7Z" fill="#9a9a9a" stroke="#000" stroke-width="1.1"/><path d="M230.9 791.2L232.6 795.6L237.3 795.8L233.6 798.8L234.9 803.4L230.9 800.8L226.9 803.4L228.2 798.8L224.5 795.8L229.2 795.6Z" fill="#9a9a9a" stroke="#000" stroke-width="1.1"/><path d="M244.3 794.9L245.9 799.4L250.7 799.6L246.9 802.6L248.2 807.2L244.3 804.5L240.3 807.2L241.6 802.6L237.8 799.6L242.6 799.4Z" fill="#9a9a9a" stroke="#000" stroke-width="1.1"/><path d="M257.6 798.5L259.3 803.0L264.0 803.2L260.3 806.2L261.6 810.8L257.6 808.1L253.6 810.8L254.9 806.2L251.2 803.2L255.9 803.0Z" fill="#9a9a9a" stroke="#000" stroke-width="1.1"/><path d="M270.9 802.0L272.6 806.5L277.3 806.7L273.6 809.6L274.9 814.2L270.9 811.6L267.0 814.2L268.2 809.6L264.5 806.7L269.3 806.5Z" fill="#9a9a9a" stroke="#000" stroke-width="1.1"/><path d="M284.3 805.3L285.9 809.8L290.7 810.0L287.0 812.9L288.2 817.5L284.3 814.9L280.3 817.5L281.6 812.9L277.8 810.0L282.6 809.8Z" fill="#9a9a9a" stroke="#000" stroke-width="1.1"/><path d="M297.6 808.5L299.3 812.9L304.0 813.1L300.3 816.1L301.6 820.7L297.6 818.1L293.6 820.7L294.9 816.1L291.2 813.1L295.9 812.9Z" fill="#9a9a9a" stroke="#000" stroke-width="1.1"/><path d="M310.9 811.5L312.6 816.0L317.4 816.2L313.6 819.1L314.9 823.7L310.9 821.1L307.0 823.7L308.2 819.1L304.5 816.2L309.3 816.0Z" fill="#9a9a9a" stroke="#000" stroke-width="1.1"/><path d="M324.3 814.4L325.9 818.9L330.7 819.1L327.0 822.0L328.2 826.6L324.3 824.0L320.3 826.6L321.6 822.0L317.8 819.1L322.6 818.9Z" fill="#9a9a9a" stroke="#000" stroke-width="1.1"/><path d="M337.6 817.2L339.3 821.6L344.0 821.8L340.3 824.8L341.6 829.4L337.6 826.7L333.6 829.4L334.9 824.8L331.2 821.8L335.9 821.6Z" fill="#9a9a9a" stroke="#000" stroke-width="1.1"/><path d="M350.9 819.8L352.6 824.3L357.4 824.5L353.6 827.4L354.9 832.0L350.9 829.4L347.0 832.0L348.2 827.4L344.5 824.5L349.3 824.3Z" fill="#9a9a9a" stroke="#000" stroke-width="1.1"/><path d="M364.3 822.3L365.9 826.8L370.7 827.0L367.0 829.9L368.2 834.5L364.3 831.9L360.3 834.5L361.6 829.9L357.9 827.0L362.6 826.8Z" fill="#9a9a9a" stroke="#000" stroke-width="1.1"/><path d="M377.6 824.7L379.3 829.2L384.0 829.4L380.3 832.3L381.6 836.9L377.6 834.3L373.6 836.9L374.9 832.3L371.2 829.4L375.9 829.2Z" fill="#9a9a9a" stroke="#000" stroke-width="1.1"/><path d="M390.9 827.0L392.6 831.4L397.4 831.6L393.6 834.6L394.9 839.2L390.9 836.6L387.0 839.2L388.3 834.6L384.5 831.6L389.3 831.4Z" fill="#9a9a9a" stroke="#000" stroke-width="1.1"/><path d="M404.3 829.1L406.0 833.6L410.7 833.8L407.0 836.8L408.3 841.4L404.3 838.7L400.3 841.4L401.6 836.8L397.9 833.8L402.6 833.6Z" fill="#9a9a9a" stroke="#000" stroke-width="1.1"/><path d="M417.6 831.2L419.3 835.7L424.0 835.9L420.3 838.8L421.6 843.4L417.6 840.8L413.7 843.4L414.9 838.8L411.2 835.9L416.0 835.7Z" fill="#9a9a9a" stroke="#000" stroke-width="1.1"/><path d="M431.0 833.1L432.6 837.6L437.4 837.8L433.7 840.8L434.9 845.4L431.0 842.7L427.0 845.4L428.3 840.8L424.5 837.8L429.3 837.6Z" fill="#9a9a9a" stroke="#000" stroke-width="1.1"/><path d="M444.3 835.0L446.0 839.4L450.7 839.7L447.0 842.6L448.3 847.2L444.3 844.6L440.3 847.2L441.6 842.6L437.9 839.7L442.6 839.4Z" fill="#9a9a9a" stroke="#000" stroke-width="1.1"/><path d="M457.6 836.7L459.3 841.2L464.0 841.4L460.3 844.4L461.6 849.0L457.6 846.3L453.7 849.0L454.9 844.4L451.2 841.4L456.0 841.2Z" fill="#9a9a9a" stroke="#000" stroke-width="1.1"/><path d="M471.0 838.4L472.6 842.9L477.4 843.1L473.7 846.0L474.9 850.6L471.0 848.0L467.0 850.6L468.3 846.0L464.5 843.1L469.3 842.9Z" fill="#9a9a9a" stroke="#000" stroke-width="1.1"/><path d="M484.3 840.0L486.0 844.4L490.7 844.6L487.0 847.6L488.3 852.2L484.3 849.5L480.3 852.2L481.6 847.6L477.9 844.6L482.6 844.4Z" fill="#9a9a9a" stroke="#000" stroke-width="1.1"/><path d="M497.6 841.4L499.3 845.9L504.1 846.1L500.3 849.1L501.6 853.6L497.6 851.0L493.7 853.6L494.9 849.1L491.2 846.1L496.0 845.9Z" fill="#9a9a9a" stroke="#000" stroke-width="1.1"/><path d="M511.0 842.8L512.6 847.3L517.4 847.5L513.7 850.5L514.9 855.0L511.0 852.4L507.0 855.0L508.3 850.5L504.6 847.5L509.3 847.3Z" fill="#9a9a9a" stroke="#000" stroke-width="1.1"/><path d="M524.3 844.2L526.0 848.6L530.7 848.8L527.0 851.8L528.3 856.4L524.3 853.7L520.3 856.4L521.6 851.8L517.9 848.8L522.6 848.6Z" fill="#9a9a9a" stroke="#000" stroke-width="1.1"/><path d="M537.6 845.4L539.3 849.8L544.1 850.1L540.3 853.0L541.6 857.6L537.6 855.0L533.7 857.6L534.9 853.0L531.2 850.1L536.0 849.8Z" fill="#9a9a9a" stroke="#000" stroke-width="1.1"/><path d="M551.0 846.6L552.6 851.0L557.4 851.2L553.7 854.2L554.9 858.8L551.0 856.1L547.0 858.8L548.3 854.2L544.6 851.2L549.3 851.0Z" fill="#9a9a9a" stroke="#000" stroke-width="1.1"/><path d="M564.3 847.7L566.0 852.1L570.7 852.3L567.0 855.3L568.3 859.9L564.3 857.2L560.3 859.9L561.6 855.3L557.9 852.3L562.6 852.1Z" fill="#9a9a9a" stroke="#000" stroke-width="1.1"/><path d="M577.7 848.7L579.3 853.2L584.1 853.4L580.3 856.3L581.6 860.9L577.7 858.3L573.7 860.9L575.0 856.3L571.2 853.4L576.0 853.2Z" fill="#9a9a9a" stroke="#000" stroke-width="1.1"/><path d="M591.0 849.7L592.7 854.1L597.4 854.3L593.7 857.3L595.0 861.9L591.0 859.3L587.0 861.9L588.3 857.3L584.6 854.3L589.3 854.1Z" fill="#9a9a9a" stroke="#000" stroke-width="1.1"/><path d="M604.3 850.6L606.0 855.1L610.7 855.3L607.0 858.2L608.3 862.8L604.3 860.2L600.4 862.8L601.6 858.2L597.9 855.3L602.7 855.1Z" fill="#9a9a9a" stroke="#000" stroke-width="1.1"/><path d="M617.7 851.5L619.3 855.9L624.1 856.1L620.4 859.1L621.6 863.7L617.7 861.1L613.7 863.7L615.0 859.1L611.2 856.1L616.0 855.9Z" fill="#9a9a9a" stroke="#000" stroke-width="1.1"/><path d="M631.0 852.3L632.7 856.7L637.4 856.9L633.7 859.9L635.0 864.5L631.0 861.9L627.0 864.5L628.3 859.9L624.6 856.9L629.3 856.7Z" fill="#9a9a9a" stroke="#000" stroke-width="1.1"/><path d="M644.3 853.1L646.0 857.5L650.8 857.7L647.0 860.7L648.3 865.3L644.3 862.6L640.4 865.3L641.6 860.7L637.9 857.7L642.7 857.5Z" fill="#9a9a9a" stroke="#000" stroke-width="1.1"/><path d="M657.7 853.8L659.3 858.2L664.1 858.5L660.4 861.4L661.6 866.0L657.7 863.4L653.7 866.0L655.0 861.4L651.2 858.5L656.0 858.2Z" fill="#9a9a9a" stroke="#000" stroke-width="1.1"/><path d="M671.0 854.5L672.7 858.9L677.4 859.1L673.7 862.1L675.0 866.7L671.0 864.1L667.0 866.7L668.3 862.1L664.6 859.1L669.3 858.9Z" fill="#9a9a9a" stroke="#000" stroke-width="1.1"/><path d="M684.3 855.1L686.0 859.6L690.8 859.8L687.0 862.8L688.3 867.3L684.3 864.7L680.4 867.3L681.6 862.8L677.9 859.8L682.7 859.6Z" fill="#9a9a9a" stroke="#000" stroke-width="1.1"/><path d="M697.7 855.8L699.3 860.2L704.1 860.4L700.4 863.4L701.6 868.0L697.7 865.4L693.7 868.0L695.0 863.4L691.3 860.4L696.0 860.2Z" fill="#9a9a9a" stroke="#000" stroke-width="1.1"/><path d="M711.0 856.4L712.7 860.8L717.4 861.0L713.7 864.0L715.0 868.6L711.0 865.9L707.0 868.6L708.3 864.0L704.6 861.0L709.3 860.8Z" fill="#9a9a9a" stroke="#000" stroke-width="1.1"/><path d="M724.3 856.9L726.0 861.4L730.8 861.6L727.0 864.6L728.3 869.1L724.3 866.5L720.4 869.1L721.7 864.6L717.9 861.6L722.7 861.4Z" fill="#9a9a9a" stroke="#000" stroke-width="1.1"/><path d="M737.7 857.5L739.4 861.9L744.1 862.1L740.4 865.1L741.7 869.7L737.7 867.1L733.7 869.7L735.0 865.1L731.3 862.1L736.0 861.9Z" fill="#9a9a9a" stroke="#000" stroke-width="1.1"/><path d="M751.0 858.0L752.7 862.5L757.4 862.7L753.7 865.6L755.0 870.2L751.0 867.6L747.1 870.2L748.3 865.6L744.6 862.7L749.4 862.5Z" fill="#9a9a9a" stroke="#000" stroke-width="1.1"/><path d="M764.4 858.5L766.0 863.0L770.8 863.2L767.1 866.1L768.3 870.7L764.4 868.1L760.4 870.7L761.7 866.1L757.9 863.2L762.7 863.0Z" fill="#9a9a9a" stroke="#000" stroke-width="1.1"/><path d="M777.7 859.0L779.4 863.5L784.1 863.7L780.4 866.6L781.7 871.2L777.7 868.6L773.7 871.2L775.0 866.6L771.3 863.7L776.0 863.5Z" fill="#9a9a9a" stroke="#000" stroke-width="1.1"/><path d="M791.0 859.5L792.7 863.9L797.4 864.1L793.7 867.1L795.0 871.7L791.0 869.1L787.1 871.7L788.3 867.1L784.6 864.1L789.4 863.9Z" fill="#9a9a9a" stroke="#000" stroke-width="1.1"/><path d="M804.4 859.9L806.0 864.4L810.8 864.6L807.1 867.6L808.3 872.1L804.4 869.5L800.4 872.1L801.7 867.6L797.9 864.6L802.7 864.4Z" fill="#9a9a9a" stroke="#000" stroke-width="1.1"/><path d="M817.7 860.4L819.4 864.8L824.1 865.1L820.4 868.0L821.7 872.6L817.7 870.0L813.7 872.6L815.0 868.0L811.3 865.1L816.0 864.8Z" fill="#9a9a9a" stroke="#000" stroke-width="1.1"/><path d="M831.0 860.8L832.7 865.3L837.5 865.5L833.7 868.5L835.0 873.0L831.0 870.4L827.1 873.0L828.3 868.5L824.6 865.5L829.4 865.3Z" fill="#9a9a9a" stroke="#000" stroke-width="1.1"/><path d="M844.4 861.3L846.0 865.7L850.8 865.9L847.1 868.9L848.3 873.5L844.4 870.9L840.4 873.5L841.7 868.9L838.0 865.9L842.7 865.7Z" fill="#9a9a9a" stroke="#000" stroke-width="1.1"/><path d="M857.7 861.7L859.4 866.2L864.1 866.4L860.4 869.3L861.7 873.9L857.7 871.3L853.7 873.9L855.0 869.3L851.3 866.4L856.0 866.2Z" fill="#9a9a9a" stroke="#000" stroke-width="1.1"/><path d="M871.0 862.1L872.7 866.6L877.5 866.8L873.7 869.8L875.0 874.4L871.0 871.7L867.1 874.4L868.3 869.8L864.6 866.8L869.4 866.6Z" fill="#9a9a9a" stroke="#000" stroke-width="1.1"/><path d="M884.4 862.6L886.0 867.0L890.8 867.2L887.1 870.2L888.3 874.8L884.4 872.2L880.4 874.8L881.7 870.2L878.0 867.2L882.7 867.0Z" fill="#9a9a9a" stroke="#000" stroke-width="1.1"/><path d="M897.7 863.0L899.4 867.5L904.1 867.7L900.4 870.7L901.7 875.2L897.7 872.6L893.7 875.2L895.0 870.7L891.3 867.7L896.0 867.5Z" fill="#9a9a9a" stroke="#000" stroke-width="1.1"/><path d="M911.1 863.5L912.7 867.9L917.5 868.1L913.7 871.1L915.0 875.7L911.1 873.1L907.1 875.7L908.4 871.1L904.6 868.1L909.4 867.9Z" fill="#9a9a9a" stroke="#000" stroke-width="1.1"/><path d="M924.4 863.9L926.1 868.4L930.8 868.6L927.1 871.6L928.4 876.1L924.4 873.5L920.4 876.1L921.7 871.6L918.0 868.6L922.7 868.4Z" fill="#9a9a9a" stroke="#000" stroke-width="1.1"/><path d="M937.7 864.4L939.4 868.9L944.1 869.1L940.4 872.0L941.7 876.6L937.7 874.0L933.8 876.6L935.0 872.0L931.3 869.1L936.1 868.9Z" fill="#9a9a9a" stroke="#000" stroke-width="1.1"/><path d="M951.1 864.9L952.7 869.3L957.5 869.5L953.8 872.5L955.0 877.1L951.1 874.5L947.1 877.1L948.4 872.5L944.6 869.5L949.4 869.3Z" fill="#9a9a9a" stroke="#000" stroke-width="1.1"/><path d="M964.4 865.4L966.1 869.8L970.8 870.0L967.1 873.0L968.4 877.6L964.4 875.0L960.4 877.6L961.7 873.0L958.0 870.0L962.7 869.8Z" fill="#9a9a9a" stroke="#000" stroke-width="1.1"/><path d="M977.7 865.9L979.4 870.4L984.2 870.6L980.4 873.5L981.7 878.1L977.7 875.5L973.8 878.1L975.0 873.5L971.3 870.6L976.1 870.4Z" fill="#9a9a9a" stroke="#000" stroke-width="1.1"/><path d="M991.1 866.4L992.7 870.9L997.5 871.1L993.8 874.1L995.0 878.6L991.1 876.0L987.1 878.6L988.4 874.1L984.6 871.1L989.4 870.9Z" fill="#9a9a9a" stroke="#000" stroke-width="1.1"/><path d="M1004.4 867.0L1006.1 871.4L1010.8 871.7L1007.1 874.6L1008.4 879.2L1004.4 876.6L1000.4 879.2L1001.7 874.6L998.0 871.7L1002.7 871.4Z" fill="#9a9a9a" stroke="#000" stroke-width="1.1"/><path d="M1017.7 867.6L1019.4 872.0L1024.2 872.2L1020.4 875.2L1021.7 879.8L1017.7 877.2L1013.8 879.8L1015.0 875.2L1011.3 872.2L1016.1 872.0Z" fill="#9a9a9a" stroke="#000" stroke-width="1.1"/><path d="M1031.1 868.2L1032.7 872.6L1037.5 872.9L1033.8 875.8L1035.0 880.4L1031.1 877.8L1027.1 880.4L1028.4 875.8L1024.7 872.9L1029.4 872.6Z" fill="#9a9a9a" stroke="#000" stroke-width="1.1"/><path d="M1044.4 868.8L1046.1 873.3L1050.8 873.5L1047.1 876.5L1048.4 881.0L1044.4 878.4L1040.4 881.0L1041.7 876.5L1038.0 873.5L1042.7 873.3Z" fill="#9a9a9a" stroke="#000" stroke-width="1.1"/><path d="M1057.7 869.5L1059.4 874.0L1064.2 874.2L1060.4 877.1L1061.7 881.7L1057.7 879.1L1053.8 881.7L1055.1 877.1L1051.3 874.2L1056.1 874.0Z" fill="#9a9a9a" stroke="#000" stroke-width="1.1"/><path d="M1071.1 870.2L1072.8 874.7L1077.5 874.9L1073.8 877.8L1075.1 882.4L1071.1 879.8L1067.1 882.4L1068.4 877.8L1064.7 874.9L1069.4 874.7Z" fill="#9a9a9a" stroke="#000" stroke-width="1.1"/><path d="M1084.4 871.0L1086.1 875.4L1090.8 875.6L1087.1 878.6L1088.4 883.2L1084.4 880.6L1080.5 883.2L1081.7 878.6L1078.0 875.6L1082.8 875.4Z" fill="#9a9a9a" stroke="#000" stroke-width="1.1"/><path d="M1097.8 871.8L1099.4 876.2L1104.2 876.4L1100.5 879.4L1101.7 884.0L1097.8 881.3L1093.8 884.0L1095.1 879.4L1091.3 876.4L1096.1 876.2Z" fill="#9a9a9a" stroke="#000" stroke-width="1.1"/><path d="M1111.1 872.6L1112.8 877.0L1117.5 877.2L1113.8 880.2L1115.1 884.8L1111.1 882.2L1107.1 884.8L1108.4 880.2L1104.7 877.2L1109.4 877.0Z" fill="#9a9a9a" stroke="#000" stroke-width="1.1"/><path d="M1124.4 873.5L1126.1 877.9L1130.8 878.1L1127.1 881.1L1128.4 885.7L1124.4 883.0L1120.5 885.7L1121.7 881.1L1118.0 878.1L1122.8 877.9Z" fill="#9a9a9a" stroke="#000" stroke-width="1.1"/><path d="M1137.8 874.4L1139.4 878.8L1144.2 879.0L1140.5 882.0L1141.7 886.6L1137.8 884.0L1133.8 886.6L1135.1 882.0L1131.3 879.0L1136.1 878.8Z" fill="#9a9a9a" stroke="#000" stroke-width="1.1"/><path d="M1151.1 875.3L1152.8 879.8L1157.5 880.0L1153.8 883.0L1155.1 887.6L1151.1 884.9L1147.1 887.6L1148.4 883.0L1144.7 880.0L1149.4 879.8Z" fill="#9a9a9a" stroke="#000" stroke-width="1.1"/><path d="M1164.4 876.4L1166.1 880.8L1170.9 881.0L1167.1 884.0L1168.4 888.6L1164.4 886.0L1160.5 888.6L1161.7 884.0L1158.0 881.0L1162.8 880.8Z" fill="#9a9a9a" stroke="#000" stroke-width="1.1"/><path d="M1177.8 877.4L1179.4 881.9L1184.2 882.1L1180.5 885.1L1181.7 889.7L1177.8 887.0L1173.8 889.7L1175.1 885.1L1171.4 882.1L1176.1 881.9Z" fill="#9a9a9a" stroke="#000" stroke-width="1.1"/><path d="M1191.1 878.6L1192.8 883.0L1197.5 883.2L1193.8 886.2L1195.1 890.8L1191.1 888.2L1187.1 890.8L1188.4 886.2L1184.7 883.2L1189.4 883.0Z" fill="#9a9a9a" stroke="#000" stroke-width="1.1"/><path d="M1204.4 879.8L1206.1 884.2L1210.9 884.4L1207.1 887.4L1208.4 892.0L1204.4 889.3L1200.5 892.0L1201.7 887.4L1198.0 884.4L1202.8 884.2Z" fill="#9a9a9a" stroke="#000" stroke-width="1.1"/><path d="M1217.8 881.0L1219.4 885.5L1224.2 885.7L1220.5 888.6L1221.7 893.2L1217.8 890.6L1213.8 893.2L1215.1 888.6L1211.4 885.7L1216.1 885.5Z" fill="#9a9a9a" stroke="#000" stroke-width="1.1"/><path d="M1231.1 882.3L1232.8 886.8L1237.5 887.0L1233.8 889.9L1235.1 894.5L1231.1 891.9L1227.1 894.5L1228.4 889.9L1224.7 887.0L1229.4 886.8Z" fill="#9a9a9a" stroke="#000" stroke-width="1.1"/><path d="M150.9 730.8L156.4 720.4L145.4 720.4Z" fill="#c4c4c4" stroke="#000" stroke-width="1.1"/><path d="M164.2 739.4L169.7 729.0L158.7 729.0Z" fill="#c4c4c4" stroke="#000" stroke-width="1.1"/><path d="M177.6 747.5L183.1 737.1L172.1 737.1Z" fill="#c4c4c4" stroke="#000" stroke-width="1.1"/><path d="M190.9 755.2L196.4 744.7L185.4 744.7Z" fill="#c4c4c4" stroke="#000" stroke-width="1.1"/><path d="M204.2 762.4L209.7 752.0L198.7 752.0Z" fill="#c4c4c4" stroke="#000" stroke-width="1.1"/><path d="M217.6 769.2L223.1 758.7L212.1 758.7Z" fill="#c4c4c4" stroke="#000" stroke-width="1.1"/><path d="M230.9 775.6L236.4 765.1L225.4 765.1Z" fill="#c4c4c4" stroke="#000" stroke-width="1.1"/><path d="M244.3 781.6L249.8 771.1L238.8 771.1Z" fill="#c4c4c4" stroke="#000" stroke-width="1.1"/><path d="M257.6 787.2L263.1 776.8L252.1 776.8Z" fill="#c4c4c4" stroke="#000" stroke-width="1.1"/><path d="M270.9 792.5L276.4 782.1L265.4 782.1Z" fill="#c4c4c4" stroke="#000" stroke-width="1.1"/><path d="M284.3 797.5L289.8 787.1L278.8 787.1Z" fill="#c4c4c4" stroke="#000" stroke-width="1.1"/><path d="M297.6 802.2L303.1 791.7L292.1 791.7Z" fill="#c4c4c4" stroke="#000" stroke-width="1.1"/><path d="M310.9 806.6L316.4 796.2L305.4 796.2Z" fill="#c4c4c4" stroke="#000" stroke-width="1.1"/><path d="M324.3 810.8L329.8 800.3L318.8 800.3Z" fill="#c4c4c4" stroke="#000" stroke-width="1.1"/><path d="M337.6 814.7L343.1 804.3L332.1 804.3Z" fill="#c4c4c4" stroke="#000" stroke-width="1.1"/><path d="M350.9 818.4L356.4 808.0L345.4 808.0Z" fill="#c4c4c4" stroke="#000" stroke-width="1.1"/><path d="M364.3 822.0L369.8 811.5L358.8 811.5Z" fill="#c4c4c4" stroke="#000" stroke-width="1.1"/><path d="M377.6 825.3L383.1 814.9L372.1 814.9Z" fill="#c4c4c4" stroke="#000" stroke-width="1.1"/><path d="M390.9 828.5L396.4 818.1L385.4 818.1Z" fill="#c4c4c4" stroke="#000" stroke-width="1.1"/><path d="M404.3 831.6L409.8 821.2L398.8 821.2Z" fill="#c4c4c4" stroke="#000" stroke-width="1.1"/><path d="M417.6 834.6L423.1 824.2L412.1 824.2Z" fill="#c4c4c4" stroke="#000" stroke-width="1.1"/><path d="M431.0 837.5L436.5 827.1L425.5 827.1Z" fill="#c4c4c4" stroke="#000" stroke-width="1.1"/><path d="M444.3 840.3L449.8 829.9L438.8 829.9Z" fill="#c4c4c4" stroke="#000" stroke-width="1.1"/><path d="M457.6 843.0L463.1 832.6L452.1 832.6Z" fill="#c4c4c4" stroke="#000" stroke-width="1.1"/><path d="M471.0 845.6L476.5 835.2L465.5 835.2Z" fill="#c4c4c4" stroke="#000" stroke-width="1.1"/><path d="M484.3 848.2L489.8 837.7L478.8 837.7Z" fill="#c4c4c4" stroke="#000" stroke-width="1.1"/><path d="M497.6 850.6L503.1 840.2L492.1 840.2Z" fill="#c4c4c4" stroke="#000" stroke-width="1.1"/><path d="M511.0 853.0L516.5 842.5L505.5 842.5Z" fill="#c4c4c4" stroke="#000" stroke-width="1.1"/><path d="M524.3 855.3L529.8 844.8L518.8 844.8Z" fill="#c4c4c4" stroke="#000" stroke-width="1.1"/><path d="M537.6 857.5L543.1 847.0L532.1 847.0Z" fill="#c4c4c4" stroke="#000" stroke-width="1.1"/><path d="M551.0 859.6L556.5 849.2L545.5 849.2Z" fill="#c4c4c4" stroke="#000" stroke-width="1.1"/><path d="M564.3 861.7L569.8 851.2L558.8 851.2Z" fill="#c4c4c4" stroke="#000" stroke-width="1.1"/><path d="M577.7 863.7L583.2 853.2L572.2 853.2Z" fill="#c4c4c4" stroke="#000" stroke-width="1.1"/><path d="M591.0 865.6L596.5 855.1L585.5 855.1Z" fill="#c4c4c4" stroke="#000" stroke-width="1.1"/><path d="M604.3 867.4L609.8 857.0L598.8 857.0Z" fill="#c4c4c4" stroke="#000" stroke-width="1.1"/><path d="M617.7 869.2L623.2 858.8L612.2 858.8Z" fill="#c4c4c4" stroke="#000" stroke-width="1.1"/><path d="M631.0 870.9L636.5 860.5L625.5 860.5Z" fill="#c4c4c4" stroke="#000" stroke-width="1.1"/><path d="M644.3 872.6L649.8 862.1L638.8 862.1Z" fill="#c4c4c4" stroke="#000" stroke-width="1.1"/><path d="M657.7 874.2L663.2 863.7L652.2 863.7Z" fill="#c4c4c4" stroke="#000" stroke-width="1.1"/><path d="M671.0 875.7L676.5 865.3L665.5 865.3Z" fill="#c4c4c4" stroke="#000" stroke-width="1.1"/><path d="M684.3 877.2L689.8 866.7L678.8 866.7Z" fill="#c4c4c4" stroke="#000" stroke-width="1.1"/><path d="M697.7 878.6L703.2 868.1L692.2 868.1Z" fill="#c4c4c4" stroke="#000" stroke-width="1.1"/><path d="M711.0 879.9L716.5 869.5L705.5 869.5Z" fill="#c4c4c4" stroke="#000" stroke-width="1.1"/><path d="M724.3 881.2L729.8 870.7L718.8 870.7Z" fill="#c4c4c4" stroke="#000" stroke-width="1.1"/><path d="M737.7 882.4L743.2 872.0L732.2 872.0Z" fill="#c4c4c4" stroke="#000" stroke-width="1.1"/><path d="M751.0 883.6L756.5 873.1L745.5 873.1Z" fill="#c4c4c4" stroke="#000" stroke-width="1.1"/><path d="M764.4 884.6L769.9 874.2L758.9 874.2Z" fill="#c4c4c4" stroke="#000" stroke-width="1.1"/><path d="M777.7 885.7L783.2 875.2L772.2 875.2Z" fill="#c4c4c4" stroke="#000" stroke-width="1.1"/><path d="M791.0 886.6L796.5 876.2L785.5 876.2Z" fill="#c4c4c4" stroke="#000" stroke-width="1.1"/><path d="M804.4 887.5L809.9 877.1L798.9 877.1Z" fill="#c4c4c4" stroke="#000" stroke-width="1.1"/><path d="M817.7 888.3L823.2 877.9L812.2 877.9Z" fill="#c4c4c4" stroke="#000" stroke-width="1.1"/><path d="M831.0 889.1L836.5 878.6L825.5 878.6Z" fill="#c4c4c4" stroke="#000" stroke-width="1.1"/><path d="M844.4 889.8L849.9 879.3L838.9 879.3Z" fill="#c4c4c4" stroke="#000" stroke-width="1.1"/><path d="M857.7 890.4L863.2 879.9L852.2 879.9Z" fill="#c4c4c4" stroke="#000" stroke-width="1.1"/><path d="M871.0 890.9L876.5 880.5L865.5 880.5Z" fill="#c4c4c4" stroke="#000" stroke-width="1.1"/><path d="M884.4 891.4L889.9 881.0L878.9 881.0Z" fill="#c4c4c4" stroke="#000" stroke-width="1.1"/><path d="M897.7 891.9L903.2 881.4L892.2 881.4Z" fill="#c4c4c4" stroke="#000" stroke-width="1.1"/><path d="M911.1 892.2L916.6 881.8L905.6 881.8Z" fill="#c4c4c4" stroke="#000" stroke-width="1.1"/><path d="M924.4 892.5L929.9 882.0L918.9 882.0Z" fill="#c4c4c4" stroke="#000" stroke-width="1.1"/><path d="M937.7 892.7L943.2 882.2L932.2 882.2Z" fill="#c4c4c4" stroke="#000" stroke-width="1.1"/><path d="M951.1 892.8L956.6 882.4L945.6 882.4Z" fill="#c4c4c4" stroke="#000" stroke-width="1.1"/><path d="M964.4 892.9L969.9 882.5L958.9 882.5Z" fill="#c4c4c4" stroke="#000" stroke-width="1.1"/><path d="M977.7 892.9L983.2 882.5L972.2 882.5Z" fill="#c4c4c4" stroke="#000" stroke-width="1.1"/><path d="M991.1 892.8L996.6 882.4L985.6 882.4Z" fill="#c4c4c4" stroke="#000" stroke-width="1.1"/><path d="M1004.4 892.7L1009.9 882.3L998.9 882.3Z" fill="#c4c4c4" stroke="#000" stroke-width="1.1"/><path d="M1017.7 892.5L1023.2 882.0L1012.2 882.0Z" fill="#c4c4c4" stroke="#000" stroke-width="1.1"/><path d="M1031.1 892.2L1036.6 881.8L1025.6 881.8Z" fill="#c4c4c4" stroke="#000" stroke-width="1.1"/><path d="M1044.4 891.9L1049.9 881.4L1038.9 881.4Z" fill="#c4c4c4" stroke="#000" stroke-width="1.1"/><path d="M1057.7 891.4L1063.2 881.0L1052.2 881.0Z" fill="#c4c4c4" stroke="#000" stroke-width="1.1"/><path d="M1071.1 890.9L1076.6 880.5L1065.6 880.5Z" fill="#c4c4c4" stroke="#000" stroke-width="1.1"/><path d="M1084.4 890.4L1089.9 879.9L1078.9 879.9Z" fill="#c4c4c4" stroke="#000" stroke-width="1.1"/><path d="M1097.8 889.7L1103.3 879.3L1092.3 879.3Z" fill="#c4c4c4" stroke="#000" stroke-width="1.1"/><path d="M1111.1 889.0L1116.6 878.6L1105.6 878.6Z" fill="#c4c4c4" stroke="#000" stroke-width="1.1"/><path d="M1124.4 888.2L1129.9 877.8L1118.9 877.8Z" fill="#c4c4c4" stroke="#000" stroke-width="1.1"/><path d="M1137.8 887.4L1143.3 876.9L1132.3 876.9Z" fill="#c4c4c4" stroke="#000" stroke-width="1.1"/><path d="M1151.1 886.4L1156.6 876.0L1145.6 876.0Z" fill="#c4c4c4" stroke="#000" stroke-width="1.1"/><path d="M1164.4 885.4L1169.9 875.0L1158.9 875.0Z" fill="#c4c4c4" stroke="#000" stroke-width="1.1"/><path d="M1177.8 884.3L1183.3 873.9L1172.3 873.9Z" fill="#c4c4c4" stroke="#000" stroke-width="1.1"/><path d="M1191.1 883.2L1196.6 872.7L1185.6 872.7Z" fill="#c4c4c4" stroke="#000" stroke-width="1.1"/><path d="M1204.4 881.9L1209.9 871.5L1198.9 871.5Z" fill="#c4c4c4" stroke="#000" stroke-width="1.1"/><path d="M1217.8 880.6L1223.3 870.2L1212.3 870.2Z" fill="#c4c4c4" stroke="#000" stroke-width="1.1"/><path d="M1231.1 879.2L1236.6 868.8L1225.6 868.8Z" fill="#c4c4c4" stroke="#000" stroke-width="1.1"/><path d="M144.4 547.7h13.0M150.9 541.2v13.0" stroke="#000" stroke-width="1.6"/><path d="M157.7 565.7h13.0M164.2 559.2v13.0" stroke="#000" stroke-width="1.6"/><path d="M171.1 582.9h13.0M177.6 576.4v13.0" stroke="#000" stroke-width="1.6"/><path d="M184.4 599.5h13.0M190.9 593.0v13.0" stroke="#000" stroke-width="1.6"/><path d="M197.7 615.4h13.0M204.2 608.9v13.0" stroke="#000" stroke-width="1.6"/><path d="M211.1 630.6h13.0M217.6 624.1v13.0" stroke="#000" stroke-width="1.6"/><path d="M224.4 645.1h13.0M230.9 638.6v13.0" stroke="#000" stroke-width="1.6"/><path d="M237.8 659.0h13.0M244.3 652.5v13.0" stroke="#000" stroke-width="1.6"/><path d="M251.1 672.3h13.0M257.6 665.8v13.0" stroke="#000" stroke-width="1.6"/><path d="M264.4 685.0h13.0M270.9 678.5v13.0" stroke="#000" stroke-width="1.6"/><path d="M277.8 697.1h13.0M284.3 690.6v13.0" stroke="#000" stroke-width="1.6"/><path d="M291.1 708.6h13.0M297.6 702.1v13.0" stroke="#000" stroke-width="1.6"/><path d="M304.4 719.6h13.0M310.9 713.1v13.0" stroke="#000" stroke-width="1.6"/><path d="M317.8 730.1h13.0M324.3 723.6v13.0" stroke="#000" stroke-width="1.6"/><path d="M331.1 740.0h13.0M337.6 733.5v13.0" stroke="#000" stroke-width="1.6"/><path d="M344.4 749.4h13.0M350.9 742.9v13.0" stroke="#000" stroke-width="1.6"/><path d="M357.8 758.4h13.0M364.3 751.9v13.0" stroke="#000" stroke-width="1.6"/><path d="M371.1 766.8h13.0M377.6 760.3v13.0" stroke="#000" stroke-width="1.6"/><path d="M384.4 774.9h13.0M390.9 768.4v13.0" stroke="#000" stroke-width="1.6"/><path d="M397.8 782.5h13.0M404.3 776.0v13.0" stroke="#000" stroke-width="1.6"/><path d="M411.1 789.7h13.0M417.6 783.2v13.0" stroke="#000" stroke-width="1.6"/><path d="M424.5 796.5h13.0M431.0 790.0v13.0" stroke="#000" stroke-width="1.6"/><path d="M437.8 802.9h13.0M444.3 796.4v13.0" stroke="#000" stroke-width="1.6"/><path d="M451.1 808.9h13.0M457.6 802.4v13.0" stroke="#000" stroke-width="1.6"/><path d="M464.5 814.6h13.0M471.0 808.1v13.0" stroke="#000" stroke-width="1.6"/><path d="M477.8 820.0h13.0M484.3 813.5v13.0" stroke="#000" stroke-width="1.6"/><path d="M491.1 825.0h13.0M497.6 818.5v13.0" stroke="#000" stroke-width="1.6"/><path d="M504.5 829.8h13.0M511.0 823.3v13.0" stroke="#000" stroke-width="1.6"/><path d="M517.8 834.2h13.0M524.3 827.7v13.0" stroke="#000" stroke-width="1.6"/><path d="M531.1 838.4h13.0M537.6 831.9v13.0" stroke="#000" stroke-width="1.6"/><path d="M544.5 842.3h13.0M551.0 835.8v13.0" stroke="#000" stroke-width="1.6"/><path d="M557.8 846.0h13.0M564.3 839.5v13.0" stroke="#000" stroke-width="1.6"/><path d="M571.2 849.5h13.0M577.7 843.0v13.0" stroke="#000" stroke-width="1.6"/><path d="M584.5 852.7h13.0M591.0 846.2v13.0" stroke="#000" stroke-width="1.6"/><path d="M597.8 855.7h13.0M604.3 849.2v13.0" stroke="#000" stroke-width="1.6"/><path d="M611.2 858.5h13.0M617.7 852.0v13.0" stroke="#000" stroke-width="1.6"/><path d="M624.5 861.1h13.0M631.0 854.6v13.0" stroke="#000" stroke-width="1.6"/><path d="M637.8 863.4h13.0M644.3 856.9v13.0" stroke="#000" stroke-width="1.6"/><path d="M651.2 865.6h13.0M657.7 859.1v13.0" stroke="#000" stroke-width="1.6"/><path d="M664.5 867.5h13.0M671.0 861.0v13.0" stroke="#000" stroke-width="1.6"/><path d="M677.8 869.3h13.0M684.3 862.8v13.0" stroke="#000" stroke-width="1.6"/><path d="M691.2 870.8h13.0M697.7 864.3v13.0" stroke="#000" stroke-width="1.6"/><path d="M704.5 872.2h13.0M711.0 865.7v13.0" stroke="#000" stroke-width="1.6"/><path d="M717.8 873.4h13.0M724.3 866.9v13.0" stroke="#000" stroke-width="1.6"/><path d="M731.2 874.5h13.0M737.7 868.0v13.0" stroke="#000" stroke-width="1.6"/><path d="M744.5 875.3h13.0M751.0 868.8v13.0" stroke="#000" stroke-width="1.6"/><path d="M757.9 876.0h13.0M764.4 869.5v13.0" stroke="#000" stroke-width="1.6"/><path d="M771.2 876.5h13.0M777.7 870.0v13.0" stroke="#000" stroke-width="1.6"/><path d="M784.5 876.9h13.0M791.0 870.4v13.0" stroke="#000" stroke-width="1.6"/><path d="M797.9 877.1h13.0M804.4 870.6v13.0" stroke="#000" stroke-width="1.6"/><path d="M811.2 877.1h13.0M817.7 870.6v13.0" stroke="#000" stroke-width="1.6"/><path d="M824.5 877.0h13.0M831.0 870.5v13.0" stroke="#000" stroke-width="1.6"/><path d="M837.9 876.8h13.0M844.4 870.3v13.0" stroke="#000" stroke-width="1.6"/><path d="M851.2 876.4h13.0M857.7 869.9v13.0" stroke="#000" stroke-width="1.6"/><path d="M864.5 875.9h13.0M871.0 869.4v13.0" stroke="#000" stroke-width="1.6"/><path d="M877.9 875.3h13.0M884.4 868.8v13.0" stroke="#000" stroke-width="1.6"/><path d="M891.2 874.5h13.0M897.7 868.0v13.0" stroke="#000" stroke-width="1.6"/><path d="M904.6 873.6h13.0M911.1 867.1v13.0" stroke="#000" stroke-width="1.6"/><path d="M917.9 872.6h13.0M924.4 866.1v13.0" stroke="#000" stroke-width="1.6"/><path d="M931.2 871.5h13.0M937.7 865.0v13.0" stroke="#000" stroke-width="1.6"/><path d="M944.6 870.3h13.0M951.1 863.8v13.0" stroke="#000" stroke-width="1.6"/><path d="M957.9 869.0h13.0M964.4 862.5v13.0" stroke="#000" stroke-width="1.6"/><path d="M971.2 867.6h13.0M977.7 861.1v13.0" stroke="#000" stroke-width="1.6"/><path d="M984.6 866.1h13.0M991.1 859.6v13.0" stroke="#000" stroke-width="1.6"/><path d="M997.9 864.5h13.0M1004.4 858.0v13.0" stroke="#000" stroke-width="1.6"/><path d="M1011.2 862.8h13.0M1017.7 856.3v13.0" stroke="#000" stroke-width="1.6"/><path d="M1024.6 861.0h13.0M1031.1 854.5v13.0" stroke="#000" stroke-width="1.6"/><path d="M1037.9 859.2h13.0M1044.4 852.7v13.0" stroke="#000" stroke-width="1.6"/><path d="M1051.2 857.2h13.0M1057.7 850.7v13.0" stroke="#000" stroke-width="1.6"/><path d="M1064.6 855.3h13.0M1071.1 848.8v13.0" stroke="#000" stroke-width="1.6"/><path d="M1077.9 853.3h13.0M1084.4 846.8v13.0" stroke="#000" stroke-width="1.6"/><path d="M1091.3 851.2h13.0M1097.8 844.7v13.0" stroke="#000" stroke-width="1.6"/><path d="M1104.6 849.2h13.0M1111.1 842.7v13.0" stroke="#000" stroke-width="1.6"/><path d="M1117.9 847.1h13.0M1124.4 840.6v13.0" stroke="#000" stroke-width="1.6"/><path d="M1131.3 845.1h13.0M1137.8 838.6v13.0" stroke="#000" stroke-width="1.6"/><path d="M1144.6 843.1h13.0M1151.1 836.6v13.0" stroke="#000" stroke-width="1.6"/><path d="M1157.9 841.2h13.0M1164.4 834.7v13.0" stroke="#000" stroke-width="1.6"/><path d="M1171.3 839.3h13.0M1177.8 832.8v13.0" stroke="#000" stroke-width="1.6"/><path d="M1184.6 837.5h13.0M1191.1 831.0v13.0" stroke="#000" stroke-width="1.6"/><path d="M1197.9 835.8h13.0M1204.4 829.3v13.0" stroke="#000" stroke-width="1.6"/><path d="M1211.3 834.2h13.0M1217.8 827.7v13.0" stroke="#000" stroke-width="1.6"/><path d="M1224.6 832.7h13.0M1231.1 826.2v13.0" stroke="#000" stroke-width="1.6"/><polyline points="147.6,827.4 150.3,827.9 153.0,828.3 155.8,828.8 158.5,829.2 161.2,829.7 163.9,830.1 166.6,830.5 169.3,831.0 172.1,831.4 174.8,831.9 177.5,832.3 180.2,832.7 182.9,833.2 185.7,833.6 188.4,834.1 191.1,834.5 193.8,834.9 196.5,835.3 199.2,835.8 202.0,836.2 204.7,836.6 207.4,837.1 210.1,837.5 212.8,837.9 215.6,838.3 218.3,838.7 221.0,839.2 223.7,839.6 226.4,840.0 229.1,840.4 231.9,840.8 234.6,841.2 237.3,841.6 240.0,842.0 242.7,842.4 245.4,842.8 248.2,843.2 250.9,843.7 253.6,844.1 256.3,844.4 259.0,844.8 261.8,845.2 264.5,845.6 267.2,846.0 269.9,846.4 272.6,846.8 275.3,847.2 278.1,847.6 280.8,848.0 283.5,848.4 286.2,848.7 288.9,849.1 291.7,849.5 294.4,849.9 297.1,850.3 299.8,850.6 302.5,851.0 305.2,851.4 308.0,851.7 310.7,852.1 313.4,852.5 316.1,852.9 318.8,853.2 321.6,853.6 324.3,853.9 327.0,854.3 329.7,854.7 332.4,855.0 335.1,855.4 337.9,855.7 340.6,856.1 343.3,856.4 346.0,856.8 348.7,857.1 351.5,857.5 354.2,857.8 356.9,858.2 359.6,858.5 362.3,858.9 365.0,859.2 367.8,859.5 370.5,859.9 373.2,860.2 375.9,860.5 378.6,860.9 381.4,861.2 384.1,861.5 386.8,861.8 389.5,862.2 392.2,862.5 394.9,862.8 397.7,863.1 400.4,863.5 403.1,863.8 405.8,864.1 408.5,864.4 411.3,864.7 414.0,865.0 416.7,865.3 419.4,865.6 422.1,866.0 424.8,866.3 427.6,866.6 430.3,866.9 433.0,867.2 435.7,867.5 438.4,867.8 441.1,868.1 443.9,868.3 446.6,868.6 449.3,868.9 452.0,869.2 454.7,869.5 457.5,869.8 460.2,870.1 462.9,870.4 465.6,870.6 468.3,870.9 471.0,871.2 473.8,871.5 476.5,871.7 479.2,872.0 481.9,872.3 484.6,872.5 487.4,872.8 490.1,873.1 492.8,873.3 495.5,873.6 498.2,873.9 500.9,874.1 503.7,874.4 506.4,874.6 509.1,874.9 511.8,875.1 514.5,875.4 517.3,875.6 520.0,875.9 522.7,876.1 525.4,876.4 528.1,876.6 530.8,876.9 533.6,877.1 536.3,877.3 539.0,877.6 541.7,877.8 544.4,878.0 547.2,878.3 549.9,878.5 552.6,878.7 555.3,878.9 558.0,879.2 560.7,879.4 563.5,879.6 566.2,879.8 568.9,880.0 571.6,880.3 574.3,880.5 577.1,880.7 579.8,880.9 582.5,881.1 585.2,881.3 587.9,881.5 590.6,881.7 593.4,881.9 596.1,882.1 598.8,882.3 601.5,882.5 604.2,882.7 606.9,882.9 609.7,883.1 612.4,883.3 615.1,883.5 617.8,883.6 620.5,883.8 623.3,884.0 626.0,884.2 628.7,884.4 631.4,884.6 634.1,884.7 636.8,884.9 639.6,885.1 642.3,885.3 645.0,885.4 647.7,885.6 650.4,885.8 653.2,885.9 655.9,886.1 658.6,886.3 661.3,886.4 664.0,886.6 666.7,886.8 669.5,886.9 672.2,887.1 674.9,887.2 677.6,887.4 680.3,887.5 683.1,887.7 685.8,887.8 688.5,888.0 691.2,888.1 693.9,888.3 696.6,888.4 699.4,888.6 702.1,888.7 704.8,888.9 707.5,889.0 710.2,889.1 713.0,889.3 715.7,889.4 718.4,889.5 721.1,889.7 723.8,889.8 726.5,889.9 729.3,890.1 732.0,890.2 734.7,890.3 737.4,890.4 740.1,890.6 742.9,890.7 745.6,890.8 748.3,890.9 751.0,891.1 753.7,891.2 756.4,891.3 759.2,891.4 761.9,891.5 764.6,891.6 767.3,891.8 770.0,891.9 772.8,892.0 775.5,892.1 778.2,892.2 780.9,892.3 783.6,892.4 786.3,892.5 789.1,892.6 791.8,892.7 794.5,892.8 797.2,892.9 799.9,893.0 802.6,893.1 805.4,893.2 808.1,893.3 810.8,893.4 813.5,893.5 816.2,893.6 819.0,893.7 821.7,893.8 824.4,893.9 827.1,894.0 829.8,894.1 832.5,894.2 835.3,894.2 838.0,894.3 840.7,894.4 843.4,894.5 846.1,894.6 848.9,894.7 851.6,894.7 854.3,894.8 857.0,894.9 859.7,895.0 862.4,895.1 865.2,895.1 867.9,895.2 870.6,895.3 873.3,895.4 876.0,895.4 878.8,895.5 881.5,895.6 884.2,895.7 886.9,895.7 889.6,895.8 892.3,895.9 895.1,895.9 897.8,896.0 900.5,896.1 903.2,896.1 905.9,896.2 908.7,896.3 911.4,896.3 914.1,896.4 916.8,896.5 919.5,896.5 922.2,896.6 925.0,896.6 927.7,896.7 930.4,896.8 933.1,896.8 935.8,896.9 938.6,896.9 941.3,897.0 944.0,897.1 946.7,897.1 949.4,897.2 952.1,897.2 954.9,897.3 957.6,897.3 960.3,897.4 963.0,897.4 965.7,897.5 968.4,897.5 971.2,897.6 973.9,897.6 976.6,897.7 979.3,897.7 982.0,897.8 984.8,897.8 987.5,897.9 990.2,897.9 992.9,898.0 995.6,898.0 998.3,898.1 1001.1,898.1 1003.8,898.1 1006.5,898.2 1009.2,898.2 1011.9,898.3 1014.7,898.3 1017.4,898.4 1020.1,898.4 1022.8,898.4 1025.5,898.5 1028.2,898.5 1031.0,898.6 1033.7,898.6 1036.4,898.6 1039.1,898.7 1041.8,898.7 1044.6,898.7 1047.3,898.8 1050.0,898.8 1052.7,898.9 1055.4,898.9 1058.1,898.9 1060.9,899.0 1063.6,899.0 1066.3,899.0 1069.0,899.1 1071.7,899.1 1074.5,899.1 1077.2,899.2 1079.9,899.2 1082.6,899.2 1085.3,899.3 1088.0,899.3 1090.8,899.3 1093.5,899.4 1096.2,899.4 1098.9,899.4 1101.6,899.5 1104.4,899.5 1107.1,899.5 1109.8,899.6 1112.5,899.6 1115.2,899.6 1117.9,899.7 1120.7,899.7 1123.4,899.7 1126.1,899.7 1128.8,899.8 1131.5,899.8 1134.3,899.8 1137.0,899.9 1139.7,899.9 1142.4,899.9 1145.1,900.0 1147.8,900.0 1150.6,900.0 1153.3,900.1 1156.0,900.1 1158.7,900.1 1161.4,900.1 1164.1,900.2 1166.9,900.2 1169.6,900.2 1172.3,900.3 1175.0,900.3 1177.7,900.3 1180.5,900.3 1183.2,900.4 1185.9,900.4 1188.6,900.4 1191.3,900.5 1194.0,900.5 1196.8,900.5 1199.5,900.6 1202.2,900.6 1204.9,900.6 1207.6,900.6 1210.4,900.7 1213.1,900.7 1215.8,900.7 1218.5,900.8 1221.2,900.8 1223.9,900.8 1226.7,900.9 1229.4,900.9 1232.1,900.9" fill="none" stroke="#000" stroke-width="5.2" stroke-linejoin="round" stroke-linecap="butt"/><polyline points="147.6,877.6 150.3,877.7 153.0,877.8 155.8,877.9 158.5,878.0 161.2,878.1 163.9,878.2 166.6,878.3 169.3,878.4 172.1,878.6 174.8,878.7 177.5,878.8 180.2,878.9 182.9,879.0 185.7,879.1 188.4,879.2 191.1,879.3 193.8,879.4 196.5,879.5 199.2,879.6 202.0,879.7 204.7,879.8 207.4,879.9 210.1,880.0 212.8,880.1 215.6,880.3 218.3,880.4 221.0,880.5 223.7,880.6 226.4,880.7 229.1,880.8 231.9,880.9 234.6,881.0 237.3,881.1 240.0,881.2 242.7,881.3 245.4,881.4 248.2,881.5 250.9,881.6 253.6,881.7 256.3,881.8 259.0,881.9 261.8,882.0 264.5,882.1 267.2,882.2 269.9,882.3 272.6,882.4 275.3,882.5 278.1,882.6 280.8,882.7 283.5,882.8 286.2,882.9 288.9,883.0 291.7,883.1 294.4,883.2 297.1,883.3 299.8,883.3 302.5,883.4 305.2,883.5 308.0,883.6 310.7,883.7 313.4,883.8 316.1,883.9 318.8,884.0 321.6,884.1 324.3,884.2 327.0,884.3 329.7,884.4 332.4,884.5 335.1,884.6 337.9,884.7 340.6,884.8 343.3,884.8 346.0,884.9 348.7,885.0 351.5,885.1 354.2,885.2 356.9,885.3 359.6,885.4 362.3,885.5 365.0,885.6 367.8,885.7 370.5,885.8 373.2,885.8 375.9,885.9 378.6,886.0 381.4,886.1 384.1,886.2 386.8,886.3 389.5,886.4 392.2,886.5 394.9,886.5 397.7,886.6 400.4,886.7 403.1,886.8 405.8,886.9 408.5,887.0 411.3,887.1 414.0,887.1 416.7,887.2 419.4,887.3 422.1,887.4 424.8,887.5 427.6,887.6 430.3,887.6 433.0,887.7 435.7,887.8 438.4,887.9 441.1,888.0 443.9,888.1 446.6,888.1 449.3,888.2 452.0,888.3 454.7,888.4 457.5,888.5 460.2,888.5 462.9,888.6 465.6,888.7 468.3,888.8 471.0,888.9 473.8,888.9 476.5,889.0 479.2,889.1 481.9,889.2 484.6,889.3 487.4,889.3 490.1,889.4 492.8,889.5 495.5,889.6 498.2,889.7 500.9,889.7 503.7,889.8 506.4,889.9 509.1,890.0 511.8,890.0 514.5,890.1 517.3,890.2 520.0,890.3 522.7,890.3 525.4,890.4 528.1,890.5 530.8,890.6 533.6,890.6 536.3,890.7 539.0,890.8 541.7,890.9 544.4,890.9 547.2,891.0 549.9,891.1 552.6,891.1 555.3,891.2 558.0,891.3 560.7,891.4 563.5,891.4 566.2,891.5 568.9,891.6 571.6,891.6 574.3,891.7 577.1,891.8 579.8,891.9 582.5,891.9 585.2,892.0 587.9,892.1 590.6,892.1 593.4,892.2 596.1,892.3 598.8,892.3 601.5,892.4 604.2,892.5 606.9,892.5 609.7,892.6 612.4,892.7 615.1,892.7 617.8,892.8 620.5,892.9 623.3,892.9 626.0,893.0 628.7,893.1 631.4,893.1 634.1,893.2 636.8,893.3 639.6,893.3 642.3,893.4 645.0,893.5 647.7,893.5 650.4,893.6 653.2,893.7 655.9,893.7 658.6,893.8 661.3,893.8 664.0,893.9 666.7,894.0 669.5,894.0 672.2,894.1 674.9,894.2 677.6,894.2 680.3,894.3 683.1,894.3 685.8,894.4 688.5,894.5 691.2,894.5 693.9,894.6 696.6,894.6 699.4,894.7 702.1,894.8 704.8,894.8 707.5,894.9 710.2,894.9 713.0,895.0 715.7,895.1 718.4,895.1 721.1,895.2 723.8,895.2 726.5,895.3 729.3,895.3 732.0,895.4 734.7,895.5 737.4,895.5 740.1,895.6 742.9,895.6 745.6,895.7 748.3,895.7 751.0,895.8 753.7,895.9 756.4,895.9 759.2,896.0 761.9,896.0 764.6,896.1 767.3,896.1 770.0,896.2 772.8,896.2 775.5,896.3 778.2,896.3 780.9,896.4 783.6,896.4 786.3,896.5 789.1,896.5 791.8,896.6 794.5,896.7 797.2,896.7 799.9,896.8 802.6,896.8 805.4,896.9 808.1,896.9 810.8,897.0 813.5,897.0 816.2,897.1 819.0,897.1 821.7,897.2 824.4,897.2 827.1,897.3 829.8,897.3 832.5,897.4 835.3,897.4 838.0,897.4 840.7,897.5 843.4,897.5 846.1,897.6 848.9,897.6 851.6,897.7 854.3,897.7 857.0,897.8 859.7,897.8 862.4,897.9 865.2,897.9 867.9,898.0 870.6,898.0 873.3,898.1 876.0,898.1 878.8,898.1 881.5,898.2 884.2,898.2 886.9,898.3 889.6,898.3 892.3,898.4 895.1,898.4 897.8,898.5 900.5,898.5 903.2,898.5 905.9,898.6 908.7,898.6 911.4,898.7 914.1,898.7 916.8,898.8 919.5,898.8 922.2,898.8 925.0,898.9 927.7,898.9 930.4,899.0 933.1,899.0 935.8,899.0 938.6,899.1 941.3,899.1 944.0,899.2 946.7,899.2 949.4,899.2 952.1,899.3 954.9,899.3 957.6,899.4 960.3,899.4 963.0,899.4 965.7,899.5 968.4,899.5 971.2,899.6 973.9,899.6 976.6,899.6 979.3,899.7 982.0,899.7 984.8,899.7 987.5,899.8 990.2,899.8 992.9,899.8 995.6,899.9 998.3,899.9 1001.1,900.0 1003.8,900.0 1006.5,900.0 1009.2,900.1 1011.9,900.1 1014.7,900.1 1017.4,900.2 1020.1,900.2 1022.8,900.2 1025.5,900.3 1028.2,900.3 1031.0,900.3 1033.7,900.4 1036.4,900.4 1039.1,900.4 1041.8,900.5 1044.6,900.5 1047.3,900.5 1050.0,900.6 1052.7,900.6 1055.4,900.6 1058.1,900.7 1060.9,900.7 1063.6,900.7 1066.3,900.7 1069.0,900.8 1071.7,900.8 1074.5,900.8 1077.2,900.9 1079.9,900.9 1082.6,900.9 1085.3,901.0 1088.0,901.0 1090.8,901.0 1093.5,901.0 1096.2,901.1 1098.9,901.1 1101.6,901.1 1104.4,901.2 1107.1,901.2 1109.8,901.2 1112.5,901.2 1115.2,901.3 1117.9,901.3 1120.7,901.3 1123.4,901.3 1126.1,901.4 1128.8,901.4 1131.5,901.4 1134.3,901.5 1137.0,901.5 1139.7,901.5 1142.4,901.5 1145.1,901.6 1147.8,901.6 1150.6,901.6 1153.3,901.6 1156.0,901.7 1158.7,901.7 1161.4,901.7 1164.1,901.7 1166.9,901.7 1169.6,901.8 1172.3,901.8 1175.0,901.8 1177.7,901.8 1180.5,901.9 1183.2,901.9 1185.9,901.9 1188.6,901.9 1191.3,902.0 1194.0,902.0 1196.8,902.0 1199.5,902.0 1202.2,902.0 1204.9,902.1 1207.6,902.1 1210.4,902.1 1213.1,902.1 1215.8,902.1 1218.5,902.2 1221.2,902.2 1223.9,902.2 1226.7,902.2 1229.4,902.2 1232.1,902.3" fill="none" stroke="#000" stroke-width="5.2" stroke-linejoin="round" stroke-linecap="butt"/><polyline points="147.6,863.3 150.3,863.4 153.0,863.5 155.8,863.7 158.5,863.8 161.2,863.9 163.9,864.1 166.6,864.2 169.3,864.3 172.1,864.5 174.8,864.6 177.5,864.8 180.2,864.9 182.9,865.0 185.7,865.2 188.4,865.3 191.1,865.4 193.8,865.6 196.5,865.7 199.2,865.8 202.0,866.0 204.7,866.1 207.4,866.2 210.1,866.4 212.8,866.5 215.6,866.7 218.3,866.8 221.0,866.9 223.7,867.1 226.4,867.2 229.1,867.3 231.9,867.5 234.6,867.6 237.3,867.7 240.0,867.9 242.7,868.0 245.4,868.1 248.2,868.3 250.9,868.4 253.6,868.5 256.3,868.7 259.0,868.8 261.8,868.9 264.5,869.1 267.2,869.2 269.9,869.4 272.6,869.5 275.3,869.6 278.1,869.8 280.8,869.9 283.5,870.0 286.2,870.2 288.9,870.3 291.7,870.4 294.4,870.6 297.1,870.7 299.8,870.8 302.5,871.0 305.2,871.1 308.0,871.2 310.7,871.4 313.4,871.5 316.1,871.6 318.8,871.8 321.6,871.9 324.3,872.0 327.0,872.2 329.7,872.3 332.4,872.4 335.1,872.6 337.9,872.7 340.6,872.8 343.3,873.0 346.0,873.1 348.7,873.2 351.5,873.3 354.2,873.5 356.9,873.6 359.6,873.7 362.3,873.9 365.0,874.0 367.8,874.1 370.5,874.3 373.2,874.4 375.9,874.5 378.6,874.7 381.4,874.8 384.1,874.9 386.8,875.1 389.5,875.2 392.2,875.3 394.9,875.4 397.7,875.6 400.4,875.7 403.1,875.8 405.8,876.0 408.5,876.1 411.3,876.2 414.0,876.4 416.7,876.5 419.4,876.6 422.1,876.7 424.8,876.9 427.6,877.0 430.3,877.1 433.0,877.3 435.7,877.4 438.4,877.5 441.1,877.6 443.9,877.8 446.6,877.9 449.3,878.0 452.0,878.1 454.7,878.3 457.5,878.4 460.2,878.5 462.9,878.7 465.6,878.8 468.3,878.9 471.0,879.0 473.8,879.2 476.5,879.3 479.2,879.4 481.9,879.5 484.6,879.7 487.4,879.8 490.1,879.9 492.8,880.0 495.5,880.2 498.2,880.3 500.9,880.4 503.7,880.5 506.4,880.7 509.1,880.8 511.8,880.9 514.5,881.0 517.3,881.1 520.0,881.3 522.7,881.4 525.4,881.5 528.1,881.6 530.8,881.8 533.6,881.9 536.3,882.0 539.0,882.1 541.7,882.2 544.4,882.4 547.2,882.5 549.9,882.6 552.6,882.7 555.3,882.8 558.0,883.0 560.7,883.1 563.5,883.2 566.2,883.3 568.9,883.4 571.6,883.6 574.3,883.7 577.1,883.8 579.8,883.9 582.5,884.0 585.2,884.1 587.9,884.3 590.6,884.4 593.4,884.5 596.1,884.6 598.8,884.7 601.5,884.8 604.2,885.0 606.9,885.1 609.7,885.2 612.4,885.3 615.1,885.4 617.8,885.5 620.5,885.7 623.3,885.8 626.0,885.9 628.7,886.0 631.4,886.1 634.1,886.2 636.8,886.3 639.6,886.4 642.3,886.6 645.0,886.7 647.7,886.8 650.4,886.9 653.2,887.0 655.9,887.1 658.6,887.2 661.3,887.3 664.0,887.4 666.7,887.6 669.5,887.7 672.2,887.8 674.9,887.9 677.6,888.0 680.3,888.1 683.1,888.2 685.8,888.3 688.5,888.4 691.2,888.5 693.9,888.6 696.6,888.7 699.4,888.8 702.1,889.0 704.8,889.1 707.5,889.2 710.2,889.3 713.0,889.4 715.7,889.5 718.4,889.6 721.1,889.7 723.8,889.8 726.5,889.9 729.3,890.0 732.0,890.1 734.7,890.2 737.4,890.3 740.1,890.4 742.9,890.5 745.6,890.6 748.3,890.7 751.0,890.8 753.7,890.9 756.4,891.0 759.2,891.1 761.9,891.2 764.6,891.3 767.3,891.4 770.0,891.5 772.8,891.6 775.5,891.7 778.2,891.8 780.9,891.9 783.6,892.0 786.3,892.1 789.1,892.2 791.8,892.3 794.5,892.4 797.2,892.5 799.9,892.6 802.6,892.7 805.4,892.7 808.1,892.8 810.8,892.9 813.5,893.0 816.2,893.1 819.0,893.2 821.7,893.3 824.4,893.4 827.1,893.5 829.8,893.6 832.5,893.7 835.3,893.8 838.0,893.8 840.7,893.9 843.4,894.0 846.1,894.1 848.9,894.2 851.6,894.3 854.3,894.4 857.0,894.5 859.7,894.5 862.4,894.6 865.2,894.7 867.9,894.8 870.6,894.9 873.3,895.0 876.0,895.0 878.8,895.1 881.5,895.2 884.2,895.3 886.9,895.4 889.6,895.5 892.3,895.5 895.1,895.6 897.8,895.7 900.5,895.8 903.2,895.9 905.9,895.9 908.7,896.0 911.4,896.1 914.1,896.2 916.8,896.3 919.5,896.3 922.2,896.4 925.0,896.5 927.7,896.6 930.4,896.6 933.1,896.7 935.8,896.8 938.6,896.9 941.3,896.9 944.0,897.0 946.7,897.1 949.4,897.2 952.1,897.2 954.9,897.3 957.6,897.4 960.3,897.4 963.0,897.5 965.7,897.6 968.4,897.7 971.2,897.7 973.9,897.8 976.6,897.9 979.3,897.9 982.0,898.0 984.8,898.1 987.5,898.1 990.2,898.2 992.9,898.3 995.6,898.3 998.3,898.4 1001.1,898.4 1003.8,898.5 1006.5,898.6 1009.2,898.6 1011.9,898.7 1014.7,898.8 1017.4,898.8 1020.1,898.9 1022.8,898.9 1025.5,899.0 1028.2,899.1 1031.0,899.1 1033.7,899.2 1036.4,899.2 1039.1,899.3 1041.8,899.4 1044.6,899.4 1047.3,899.5 1050.0,899.5 1052.7,899.6 1055.4,899.6 1058.1,899.7 1060.9,899.7 1063.6,899.8 1066.3,899.8 1069.0,899.9 1071.7,899.9 1074.5,900.0 1077.2,900.0 1079.9,900.1 1082.6,900.1 1085.3,900.2 1088.0,900.2 1090.8,900.3 1093.5,900.3 1096.2,900.4 1098.9,900.4 1101.6,900.5 1104.4,900.5 1107.1,900.6 1109.8,900.6 1112.5,900.7 1115.2,900.7 1117.9,900.7 1120.7,900.8 1123.4,900.8 1126.1,900.9 1128.8,900.9 1131.5,900.9 1134.3,901.0 1137.0,901.0 1139.7,901.1 1142.4,901.1 1145.1,901.1 1147.8,901.2 1150.6,901.2 1153.3,901.2 1156.0,901.3 1158.7,901.3 1161.4,901.3 1164.1,901.4 1166.9,901.4 1169.6,901.4 1172.3,901.5 1175.0,901.5 1177.7,901.5 1180.5,901.6 1183.2,901.6 1185.9,901.6 1188.6,901.7 1191.3,901.7 1194.0,901.7 1196.8,901.7 1199.5,901.8 1202.2,901.8 1204.9,901.8 1207.6,901.8 1210.4,901.9 1213.1,901.9 1215.8,901.9 1218.5,901.9 1221.2,902.0 1223.9,902.0 1226.7,902.0 1229.4,902.0 1232.1,902.0" fill="none" stroke="#000" stroke-width="5.2" stroke-linejoin="round" stroke-linecap="butt"/><polyline points="147.6,770.7 150.3,771.7 153.0,772.7 155.8,773.7 158.5,774.7 161.2,775.6 163.9,776.6 166.6,777.5 169.3,778.5 172.1,779.4 174.8,780.3 177.5,781.3 180.2,782.2 182.9,783.1 185.7,784.0 188.4,784.9 191.1,785.8 193.8,786.6 196.5,787.5 199.2,788.4 202.0,789.2 204.7,790.1 207.4,790.9 210.1,791.8 212.8,792.6 215.6,793.4 218.3,794.2 221.0,795.0 223.7,795.8 226.4,796.6 229.1,797.4 231.9,798.2 234.6,799.0 237.3,799.8 240.0,800.5 242.7,801.3 245.4,802.0 248.2,802.8 250.9,803.5 253.6,804.2 256.3,805.0 259.0,805.7 261.8,806.4 264.5,807.1 267.2,807.8 269.9,808.5 272.6,809.2 275.3,809.9 278.1,810.5 280.8,811.2 283.5,811.9 286.2,812.5 288.9,813.2 291.7,813.8 294.4,814.5 297.1,815.1 299.8,815.7 302.5,816.4 305.2,817.0 308.0,817.6 310.7,818.2 313.4,818.8 316.1,819.4 318.8,820.0 321.6,820.6 324.3,821.2 327.0,821.7 329.7,822.3 332.4,822.9 335.1,823.4 337.9,824.0 340.6,824.5 343.3,825.1 346.0,825.6 348.7,826.1 351.5,826.6 354.2,827.2 356.9,827.7 359.6,828.2 362.3,828.7 365.0,829.2 367.8,829.7 370.5,830.2 373.2,830.7 375.9,831.2 378.6,831.6 381.4,832.1 384.1,832.6 386.8,833.0 389.5,833.5 392.2,833.9 394.9,834.4 397.7,834.8 400.4,835.3 403.1,835.7 405.8,836.1 408.5,836.6 411.3,837.0 414.0,837.4 416.7,837.8 419.4,838.2 422.1,838.6 424.8,839.0 427.6,839.4 430.3,839.8 433.0,840.2 435.7,840.6 438.4,840.9 441.1,841.3 443.9,841.7 446.6,842.0 449.3,842.4 452.0,842.8 454.7,843.1 457.5,843.5 460.2,843.8 462.9,844.2 465.6,844.5 468.3,844.8 471.0,845.2 473.8,845.5 476.5,845.8 479.2,846.1 481.9,846.4 484.6,846.7 487.4,847.1 490.1,847.4 492.8,847.7 495.5,848.0 498.2,848.3 500.9,848.5 503.7,848.8 506.4,849.1 509.1,849.4 511.8,849.7 514.5,849.9 517.3,850.2 520.0,850.5 522.7,850.7 525.4,851.0 528.1,851.3 530.8,851.5 533.6,851.8 536.3,852.0 539.0,852.3 541.7,852.5 544.4,852.7 547.2,853.0 549.9,853.2 552.6,853.4 555.3,853.7 558.0,853.9 560.7,854.1 563.5,854.3 566.2,854.6 568.9,854.8 571.6,855.0 574.3,855.2 577.1,855.4 579.8,855.6 582.5,855.8 585.2,856.0 587.9,856.2 590.6,856.4 593.4,856.6 596.1,856.8 598.8,857.0 601.5,857.2 604.2,857.3 606.9,857.5 609.7,857.7 612.4,857.9 615.1,858.1 617.8,858.2 620.5,858.4 623.3,858.6 626.0,858.7 628.7,858.9 631.4,859.1 634.1,859.2 636.8,859.4 639.6,859.5 642.3,859.7 645.0,859.8 647.7,860.0 650.4,860.1 653.2,860.3 655.9,860.4 658.6,860.6 661.3,860.7 664.0,860.9 666.7,861.0 669.5,861.2 672.2,861.3 674.9,861.4 677.6,861.6 680.3,861.7 683.1,861.8 685.8,862.0 688.5,862.1 691.2,862.2 693.9,862.3 696.6,862.5 699.4,862.6 702.1,862.7 704.8,862.8 707.5,863.0 710.2,863.1 713.0,863.2 715.7,863.3 718.4,863.4 721.1,863.5 723.8,863.7 726.5,863.8 729.3,863.9 732.0,864.0 734.7,864.1 737.4,864.2 740.1,864.3 742.9,864.4 745.6,864.5 748.3,864.7 751.0,864.8 753.7,864.9 756.4,865.0 759.2,865.1 761.9,865.2 764.6,865.3 767.3,865.4 770.0,865.5 772.8,865.6 775.5,865.7 778.2,865.8 780.9,865.9 783.6,866.0 786.3,866.1 789.1,866.2 791.8,866.3 794.5,866.3 797.2,866.4 799.9,866.5 802.6,866.6 805.4,866.7 808.1,866.8 810.8,866.9 813.5,867.0 816.2,867.1 819.0,867.2 821.7,867.3 824.4,867.4 827.1,867.5 829.8,867.5 832.5,867.6 835.3,867.7 838.0,867.8 840.7,867.9 843.4,868.0 846.1,868.1 848.9,868.2 851.6,868.3 854.3,868.3 857.0,868.4 859.7,868.5 862.4,868.6 865.2,868.7 867.9,868.8 870.6,868.9 873.3,869.0 876.0,869.1 878.8,869.1 881.5,869.2 884.2,869.3 886.9,869.4 889.6,869.5 892.3,869.6 895.1,869.7 897.8,869.8 900.5,869.9 903.2,870.0 905.9,870.0 908.7,870.1 911.4,870.2 914.1,870.3 916.8,870.4 919.5,870.5 922.2,870.6 925.0,870.7 927.7,870.8 930.4,870.9 933.1,871.0 935.8,871.1 938.6,871.2 941.3,871.3 944.0,871.4 946.7,871.5 949.4,871.6 952.1,871.7 954.9,871.8 957.6,871.9 960.3,872.0 963.0,872.1 965.7,872.2 968.4,872.3 971.2,872.4 973.9,872.5 976.6,872.6 979.3,872.7 982.0,872.8 984.8,872.9 987.5,873.0 990.2,873.1 992.9,873.3 995.6,873.4 998.3,873.5 1001.1,873.6 1003.8,873.7 1006.5,873.8 1009.2,873.9 1011.9,874.1 1014.7,874.2 1017.4,874.3 1020.1,874.4 1022.8,874.6 1025.5,874.7 1028.2,874.8 1031.0,874.9 1033.7,875.1 1036.4,875.2 1039.1,875.3 1041.8,875.5 1044.6,875.6 1047.3,875.7 1050.0,875.9 1052.7,876.0 1055.4,876.1 1058.1,876.3 1060.9,876.4 1063.6,876.6 1066.3,876.7 1069.0,876.9 1071.7,877.0 1074.5,877.2 1077.2,877.3 1079.9,877.5 1082.6,877.6 1085.3,877.8 1088.0,877.9 1090.8,878.1 1093.5,878.2 1096.2,878.4 1098.9,878.6 1101.6,878.7 1104.4,878.9 1107.1,879.1 1109.8,879.3 1112.5,879.4 1115.2,879.6 1117.9,879.8 1120.7,880.0 1123.4,880.1 1126.1,880.3 1128.8,880.5 1131.5,880.7 1134.3,880.9 1137.0,881.1 1139.7,881.3 1142.4,881.5 1145.1,881.7 1147.8,881.9 1150.6,882.1 1153.3,882.3 1156.0,882.5 1158.7,882.7 1161.4,882.9 1164.1,883.1 1166.9,883.3 1169.6,883.5 1172.3,883.7 1175.0,884.0 1177.7,884.2 1180.5,884.4 1183.2,884.6 1185.9,884.9 1188.6,885.1 1191.3,885.3 1194.0,885.6 1196.8,885.8 1199.5,886.1 1202.2,886.3 1204.9,886.6 1207.6,886.8 1210.4,887.1 1213.1,887.3 1215.8,887.6 1218.5,887.8 1221.2,888.1 1223.9,888.4 1226.7,888.6 1229.4,888.9 1232.1,889.2" fill="none" stroke="#2e2e2e" stroke-width="5.2" stroke-linejoin="round" stroke-linecap="butt"/><polyline points="147.6,723.4 150.3,725.2 153.0,727.0 155.8,728.8 158.5,730.5 161.2,732.3 163.9,734.0 166.6,735.7 169.3,737.4 172.1,739.0 174.8,740.7 177.5,742.3 180.2,743.9 182.9,745.4 185.7,747.0 188.4,748.5 191.1,750.1 193.8,751.6 196.5,753.1 199.2,754.5 202.0,756.0 204.7,757.4 207.4,758.8 210.1,760.2 212.8,761.6 215.6,763.0 218.3,764.3 221.0,765.6 223.7,766.9 226.4,768.2 229.1,769.5 231.9,770.8 234.6,772.0 237.3,773.3 240.0,774.5 242.7,775.7 245.4,776.9 248.2,778.0 250.9,779.2 253.6,780.3 256.3,781.5 259.0,782.6 261.8,783.7 264.5,784.8 267.2,785.8 269.9,786.9 272.6,787.9 275.3,789.0 278.1,790.0 280.8,791.0 283.5,792.0 286.2,793.0 288.9,794.0 291.7,794.9 294.4,795.9 297.1,796.8 299.8,797.7 302.5,798.6 305.2,799.5 308.0,800.4 310.7,801.3 313.4,802.2 316.1,803.0 318.8,803.9 321.6,804.7 324.3,805.6 327.0,806.4 329.7,807.2 332.4,808.0 335.1,808.8 337.9,809.6 340.6,810.3 343.3,811.1 346.0,811.9 348.7,812.6 351.5,813.3 354.2,814.1 356.9,814.8 359.6,815.5 362.3,816.2 365.0,816.9 367.8,817.6 370.5,818.3 373.2,819.0 375.9,819.7 378.6,820.3 381.4,821.0 384.1,821.7 386.8,822.3 389.5,823.0 392.2,823.6 394.9,824.2 397.7,824.9 400.4,825.5 403.1,826.1 405.8,826.7 408.5,827.4 411.3,828.0 414.0,828.6 416.7,829.2 419.4,829.8 422.1,830.4 424.8,831.0 427.6,831.5 430.3,832.1 433.0,832.7 435.7,833.3 438.4,833.9 441.1,834.4 443.9,835.0 446.6,835.5 449.3,836.1 452.0,836.7 454.7,837.2 457.5,837.7 460.2,838.3 462.9,838.8 465.6,839.4 468.3,839.9 471.0,840.4 473.8,840.9 476.5,841.5 479.2,842.0 481.9,842.5 484.6,843.0 487.4,843.5 490.1,844.0 492.8,844.5 495.5,845.0 498.2,845.5 500.9,846.0 503.7,846.5 506.4,846.9 509.1,847.4 511.8,847.9 514.5,848.4 517.3,848.8 520.0,849.3 522.7,849.8 525.4,850.2 528.1,850.7 530.8,851.1 533.6,851.6 536.3,852.0 539.0,852.5 541.7,852.9 544.4,853.3 547.2,853.8 549.9,854.2 552.6,854.6 555.3,855.1 558.0,855.5 560.7,855.9 563.5,856.3 566.2,856.7 568.9,857.1 571.6,857.5 574.3,857.9 577.1,858.3 579.8,858.7 582.5,859.1 585.2,859.5 587.9,859.9 590.6,860.3 593.4,860.7 596.1,861.1 598.8,861.4 601.5,861.8 604.2,862.2 606.9,862.6 609.7,862.9 612.4,863.3 615.1,863.6 617.8,864.0 620.5,864.4 623.3,864.7 626.0,865.1 628.7,865.4 631.4,865.8 634.1,866.1 636.8,866.4 639.6,866.8 642.3,867.1 645.0,867.4 647.7,867.8 650.4,868.1 653.2,868.4 655.9,868.7 658.6,869.1 661.3,869.4 664.0,869.7 666.7,870.0 669.5,870.3 672.2,870.6 674.9,870.9 677.6,871.2 680.3,871.5 683.1,871.8 685.8,872.1 688.5,872.4 691.2,872.7 693.9,873.0 696.6,873.2 699.4,873.5 702.1,873.8 704.8,874.1 707.5,874.4 710.2,874.6 713.0,874.9 715.7,875.2 718.4,875.4 721.1,875.7 723.8,875.9 726.5,876.2 729.3,876.4 732.0,876.7 734.7,876.9 737.4,877.2 740.1,877.4 742.9,877.6 745.6,877.9 748.3,878.1 751.0,878.3 753.7,878.6 756.4,878.8 759.2,879.0 761.9,879.2 764.6,879.4 767.3,879.7 770.0,879.9 772.8,880.1 775.5,880.3 778.2,880.5 780.9,880.7 783.6,880.9 786.3,881.1 789.1,881.3 791.8,881.4 794.5,881.6 797.2,881.8 799.9,882.0 802.6,882.2 805.4,882.3 808.1,882.5 810.8,882.7 813.5,882.9 816.2,883.0 819.0,883.2 821.7,883.3 824.4,883.5 827.1,883.6 829.8,883.8 832.5,883.9 835.3,884.1 838.0,884.2 840.7,884.4 843.4,884.5 846.1,884.6 848.9,884.8 851.6,884.9 854.3,885.0 857.0,885.1 859.7,885.3 862.4,885.4 865.2,885.5 867.9,885.6 870.6,885.7 873.3,885.8 876.0,885.9 878.8,886.0 881.5,886.1 884.2,886.2 886.9,886.3 889.6,886.4 892.3,886.5 895.1,886.5 897.8,886.6 900.5,886.7 903.2,886.8 905.9,886.8 908.7,886.9 911.4,887.0 914.1,887.0 916.8,887.1 919.5,887.2 922.2,887.2 925.0,887.3 927.7,887.3 930.4,887.4 933.1,887.4 935.8,887.4 938.6,887.5 941.3,887.5 944.0,887.5 946.7,887.6 949.4,887.6 952.1,887.6 954.9,887.6 957.6,887.7 960.3,887.7 963.0,887.7 965.7,887.7 968.4,887.7 971.2,887.7 973.9,887.7 976.6,887.7 979.3,887.7 982.0,887.7 984.8,887.7 987.5,887.6 990.2,887.6 992.9,887.6 995.6,887.6 998.3,887.6 1001.1,887.5 1003.8,887.5 1006.5,887.5 1009.2,887.4 1011.9,887.4 1014.7,887.3 1017.4,887.3 1020.1,887.2 1022.8,887.2 1025.5,887.1 1028.2,887.1 1031.0,887.0 1033.7,886.9 1036.4,886.9 1039.1,886.8 1041.8,886.7 1044.6,886.6 1047.3,886.6 1050.0,886.5 1052.7,886.4 1055.4,886.3 1058.1,886.2 1060.9,886.1 1063.6,886.0 1066.3,885.9 1069.0,885.8 1071.7,885.7 1074.5,885.6 1077.2,885.5 1079.9,885.3 1082.6,885.2 1085.3,885.1 1088.0,885.0 1090.8,884.9 1093.5,884.7 1096.2,884.6 1098.9,884.4 1101.6,884.3 1104.4,884.2 1107.1,884.0 1109.8,883.9 1112.5,883.7 1115.2,883.6 1117.9,883.4 1120.7,883.2 1123.4,883.1 1126.1,882.9 1128.8,882.7 1131.5,882.6 1134.3,882.4 1137.0,882.2 1139.7,882.0 1142.4,881.8 1145.1,881.6 1147.8,881.4 1150.6,881.2 1153.3,881.0 1156.0,880.8 1158.7,880.6 1161.4,880.4 1164.1,880.2 1166.9,880.0 1169.6,879.8 1172.3,879.6 1175.0,879.3 1177.7,879.1 1180.5,878.9 1183.2,878.6 1185.9,878.4 1188.6,878.2 1191.3,877.9 1194.0,877.7 1196.8,877.4 1199.5,877.2 1202.2,876.9 1204.9,876.7 1207.6,876.4 1210.4,876.1 1213.1,875.9 1215.8,875.6 1218.5,875.3 1221.2,875.0 1223.9,874.8 1226.7,874.5 1229.4,874.2 1232.1,873.9" fill="none" stroke="#000" stroke-width="5.2" stroke-linejoin="round" stroke-linecap="butt"/><polyline points="147.6,543.1 150.3,546.9 153.0,550.6 155.8,554.3 158.5,558.0 161.2,561.6 163.9,565.2 166.6,568.8 169.3,572.4 172.1,575.9 174.8,579.4 177.5,582.8 180.2,586.3 182.9,589.7 185.7,593.1 188.4,596.4 191.1,599.7 193.8,603.0 196.5,606.3 199.2,609.5 202.0,612.7 204.7,615.9 207.4,619.0 210.1,622.2 212.8,625.2 215.6,628.3 218.3,631.3 221.0,634.4 223.7,637.3 226.4,640.3 229.1,643.2 231.9,646.1 234.6,649.0 237.3,651.9 240.0,654.7 242.7,657.5 245.4,660.3 248.2,663.0 250.9,665.7 253.6,668.4 256.3,671.1 259.0,673.7 261.8,676.4 264.5,678.9 267.2,681.5 269.9,684.1 272.6,686.6 275.3,689.1 278.1,691.6 280.8,694.0 283.5,696.4 286.2,698.8 288.9,701.2 291.7,703.6 294.4,705.9 297.1,708.2 299.8,710.5 302.5,712.8 305.2,715.0 308.0,717.2 310.7,719.4 313.4,721.6 316.1,723.7 318.8,725.9 321.6,728.0 324.3,730.1 327.0,732.1 329.7,734.2 332.4,736.2 335.1,738.2 337.9,740.2 340.6,742.1 343.3,744.1 346.0,746.0 348.7,747.9 351.5,749.8 354.2,751.6 356.9,753.5 359.6,755.3 362.3,757.1 365.0,758.9 367.8,760.6 370.5,762.4 373.2,764.1 375.9,765.8 378.6,767.5 381.4,769.1 384.1,770.8 386.8,772.4 389.5,774.0 392.2,775.6 394.9,777.2 397.7,778.8 400.4,780.3 403.1,781.8 405.8,783.3 408.5,784.8 411.3,786.3 414.0,787.7 416.7,789.2 419.4,790.6 422.1,792.0 424.8,793.4 427.6,794.8 430.3,796.1 433.0,797.5 435.7,798.8 438.4,800.1 441.1,801.4 443.9,802.7 446.6,803.9 449.3,805.2 452.0,806.4 454.7,807.7 457.5,808.9 460.2,810.0 462.9,811.2 465.6,812.4 468.3,813.5 471.0,814.7 473.8,815.8 476.5,816.9 479.2,818.0 481.9,819.1 484.6,820.1 487.4,821.2 490.1,822.2 492.8,823.2 495.5,824.3 498.2,825.3 500.9,826.2 503.7,827.2 506.4,828.2 509.1,829.1 511.8,830.1 514.5,831.0 517.3,831.9 520.0,832.8 522.7,833.7 525.4,834.6 528.1,835.5 530.8,836.3 533.6,837.2 536.3,838.0 539.0,838.8 541.7,839.6 544.4,840.4 547.2,841.2 549.9,842.0 552.6,842.8 555.3,843.6 558.0,844.3 560.7,845.1 563.5,845.8 566.2,846.5 568.9,847.2 571.6,847.9 574.3,848.6 577.1,849.3 579.8,850.0 582.5,850.7 585.2,851.3 587.9,852.0 590.6,852.6 593.4,853.3 596.1,853.9 598.8,854.5 601.5,855.1 604.2,855.7 606.9,856.3 609.7,856.8 612.4,857.4 615.1,858.0 617.8,858.5 620.5,859.1 623.3,859.6 626.0,860.1 628.7,860.6 631.4,861.1 634.1,861.6 636.8,862.1 639.6,862.6 642.3,863.1 645.0,863.5 647.7,864.0 650.4,864.4 653.2,864.9 655.9,865.3 658.6,865.7 661.3,866.1 664.0,866.5 666.7,866.9 669.5,867.3 672.2,867.7 674.9,868.1 677.6,868.4 680.3,868.8 683.1,869.1 685.8,869.5 688.5,869.8 691.2,870.1 693.9,870.4 696.6,870.7 699.4,871.0 702.1,871.3 704.8,871.6 707.5,871.9 710.2,872.2 713.0,872.4 715.7,872.7 718.4,872.9 721.1,873.2 723.8,873.4 726.5,873.6 729.3,873.8 732.0,874.0 734.7,874.2 737.4,874.4 740.1,874.6 742.9,874.8 745.6,875.0 748.3,875.1 751.0,875.3 753.7,875.5 756.4,875.6 759.2,875.7 761.9,875.9 764.6,876.0 767.3,876.1 770.0,876.2 772.8,876.3 775.5,876.4 778.2,876.5 780.9,876.6 783.6,876.7 786.3,876.7 789.1,876.8 791.8,876.9 794.5,876.9 797.2,877.0 799.9,877.0 802.6,877.0 805.4,877.1 808.1,877.1 810.8,877.1 813.5,877.1 816.2,877.1 819.0,877.1 821.7,877.1 824.4,877.1 827.1,877.1 829.8,877.0 832.5,877.0 835.3,877.0 838.0,876.9 840.7,876.9 843.4,876.8 846.1,876.7 848.9,876.7 851.6,876.6 854.3,876.5 857.0,876.4 859.7,876.4 862.4,876.3 865.2,876.2 867.9,876.0 870.6,875.9 873.3,875.8 876.0,875.7 878.8,875.6 881.5,875.4 884.2,875.3 886.9,875.1 889.6,875.0 892.3,874.8 895.1,874.7 897.8,874.5 900.5,874.3 903.2,874.2 905.9,874.0 908.7,873.8 911.4,873.6 914.1,873.4 916.8,873.2 919.5,873.0 922.2,872.8 925.0,872.6 927.7,872.4 930.4,872.2 933.1,871.9 935.8,871.7 938.6,871.5 941.3,871.2 944.0,871.0 946.7,870.7 949.4,870.5 952.1,870.2 954.9,870.0 957.6,869.7 960.3,869.4 963.0,869.1 965.7,868.9 968.4,868.6 971.2,868.3 973.9,868.0 976.6,867.7 979.3,867.4 982.0,867.1 984.8,866.8 987.5,866.5 990.2,866.2 992.9,865.9 995.6,865.5 998.3,865.2 1001.1,864.9 1003.8,864.5 1006.5,864.2 1009.2,863.9 1011.9,863.5 1014.7,863.2 1017.4,862.8 1020.1,862.5 1022.8,862.1 1025.5,861.8 1028.2,861.4 1031.0,861.0 1033.7,860.7 1036.4,860.3 1039.1,859.9 1041.8,859.5 1044.6,859.1 1047.3,858.8 1050.0,858.4 1052.7,858.0 1055.4,857.6 1058.1,857.2 1060.9,856.8 1063.6,856.4 1066.3,856.0 1069.0,855.6 1071.7,855.2 1074.5,854.8 1077.2,854.4 1079.9,853.9 1082.6,853.5 1085.3,853.1 1088.0,852.7 1090.8,852.3 1093.5,851.9 1096.2,851.5 1098.9,851.1 1101.6,850.6 1104.4,850.2 1107.1,849.8 1109.8,849.4 1112.5,849.0 1115.2,848.6 1117.9,848.1 1120.7,847.7 1123.4,847.3 1126.1,846.9 1128.8,846.5 1131.5,846.1 1134.3,845.7 1137.0,845.2 1139.7,844.8 1142.4,844.4 1145.1,844.0 1147.8,843.6 1150.6,843.2 1153.3,842.8 1156.0,842.4 1158.7,842.0 1161.4,841.6 1164.1,841.2 1166.9,840.8 1169.6,840.5 1172.3,840.1 1175.0,839.7 1177.7,839.3 1180.5,838.9 1183.2,838.6 1185.9,838.2 1188.6,837.8 1191.3,837.5 1194.0,837.1 1196.8,836.8 1199.5,836.4 1202.2,836.1 1204.9,835.7 1207.6,835.4 1210.4,835.1 1213.1,834.7 1215.8,834.4 1218.5,834.1 1221.2,833.8 1223.9,833.5 1226.7,833.2 1229.4,832.9 1232.1,832.6" fill="none" stroke="#000" stroke-width="5.2" stroke-linejoin="round" stroke-linecap="butt"/><path d="M146.50 427.45h11M1230.90 427.45h-11M146.50 329.06h11M1230.90 329.06h-11M146.50 230.67h11M1230.90 230.67h-11M146.50 132.29h11M1230.90 132.29h-11M146.50 33.90h11M1230.90 33.90h-11M146.50 427.45v-11M146.50 33.90v11M228.11 427.45v-5.5M228.11 33.90v5.5M275.85 427.45v-5.5M275.85 33.90v5.5M309.72 427.45v-5.5M309.72 33.90v5.5M335.99 427.45v-5.5M335.99 33.90v5.5M357.46 427.45v-5.5M357.46 33.90v5.5M375.61 427.45v-5.5M375.61 33.90v5.5M391.33 427.45v-5.5M391.33 33.90v5.5M405.20 427.45v-5.5M405.20 33.90v5.5M417.60 427.45v-11M417.60 33.90v11M499.21 427.45v-5.5M499.21 33.90v5.5M546.95 427.45v-5.5M546.95 33.90v5.5M580.82 427.45v-5.5M580.82 33.90v5.5M607.09 427.45v-5.5M607.09 33.90v5.5M628.56 427.45v-5.5M628.56 33.90v5.5M646.71 427.45v-5.5M646.71 33.90v5.5M662.43 427.45v-5.5M662.43 33.90v5.5M676.30 427.45v-5.5M676.30 33.90v5.5M688.70 427.45v-11M688.70 33.90v11M770.31 427.45v-5.5M770.31 33.90v5.5M818.05 427.45v-5.5M818.05 33.90v5.5M851.92 427.45v-5.5M851.92 33.90v5.5M878.19 427.45v-5.5M878.19 33.90v5.5M899.66 427.45v-5.5M899.66 33.90v5.5M917.81 427.45v-5.5M917.81 33.90v5.5M933.53 427.45v-5.5M933.53 33.90v5.5M947.40 427.45v-5.5M947.40 33.90v5.5M959.80 427.45v-11M959.80 33.90v11M1041.41 427.45v-5.5M1041.41 33.90v5.5M1089.15 427.45v-5.5M1089.15 33.90v5.5M1123.02 427.45v-5.5M1123.02 33.90v5.5M1149.29 427.45v-5.5M1149.29 33.90v5.5M1170.76 427.45v-5.5M1170.76 33.90v5.5M1188.91 427.45v-5.5M1188.91 33.90v5.5M1204.63 427.45v-5.5M1204.63 33.90v5.5M1218.50 427.45v-5.5M1218.50 33.90v5.5M1230.90 427.45v-11M1230.90 33.90v11" stroke="#2e2e2e" stroke-width="1.1" fill="none"/><rect x="146.50" y="33.90" width="1084.40" height="393.55" stroke="#2e2e2e" stroke-width="1.4" fill="none"/><path d="M147.60 909.20h11M1232.10 909.20h-11M147.60 796.09h11M1232.10 796.09h-11M147.60 682.97h11M1232.10 682.97h-11M147.60 569.86h11M1232.10 569.86h-11M147.60 909.20v-11M147.60 513.30v11M229.22 909.20v-5.5M229.22 513.30v5.5M276.96 909.20v-5.5M276.96 513.30v5.5M310.83 909.20v-5.5M310.83 513.30v5.5M337.11 909.20v-5.5M337.11 513.30v5.5M358.58 909.20v-5.5M358.58 513.30v5.5M376.73 909.20v-5.5M376.73 513.30v5.5M392.45 909.20v-5.5M392.45 513.30v5.5M406.32 909.20v-5.5M406.32 513.30v5.5M418.73 909.20v-11M418.73 513.30v11M500.34 909.20v-5.5M500.34 513.30v5.5M548.08 909.20v-5.5M548.08 513.30v5.5M581.96 909.20v-5.5M581.96 513.30v5.5M608.23 909.20v-5.5M608.23 513.30v5.5M629.70 909.20v-5.5M629.70 513.30v5.5M647.85 909.20v-5.5M647.85 513.30v5.5M663.58 909.20v-5.5M663.58 513.30v5.5M677.44 909.20v-5.5M677.44 513.30v5.5M689.85 909.20v-11M689.85 513.30v11M771.47 909.20v-5.5M771.47 513.30v5.5M819.21 909.20v-5.5M819.21 513.30v5.5M853.08 909.20v-5.5M853.08 513.30v5.5M879.36 909.20v-5.5M879.36 513.30v5.5M900.83 909.20v-5.5M900.83 513.30v5.5M918.98 909.20v-5.5M918.98 513.30v5.5M934.70 909.20v-5.5M934.70 513.30v5.5M948.57 909.20v-5.5M948.57 513.30v5.5M960.98 909.20v-11M960.98 513.30v11M1042.59 909.20v-5.5M1042.59 513.30v5.5M1090.33 909.20v-5.5M1090.33 513.30v5.5M1124.21 909.20v-5.5M1124.21 513.30v5.5M1150.48 909.20v-5.5M1150.48 513.30v5.5M1171.95 909.20v-5.5M1171.95 513.30v5.5M1190.10 909.20v-5.5M1190.10 513.30v5.5M1205.83 909.20v-5.5M1205.83 513.30v5.5M1219.69 909.20v-5.5M1219.69 513.30v5.5M1232.10 909.20v-11M1232.10 513.30v11" stroke="#1c1c1c" stroke-width="1.1" fill="none"/><rect x="147.60" y="513.30" width="1084.50" height="395.90" stroke="#1c1c1c" stroke-width="1.4" fill="none"/></svg><div id="t"><div style="position:absolute;font-family:'Liberation Sans', sans-serif;line-height:1;white-space:nowrap;color:#000;-webkit-text-stroke:0.2px #fff;left:-60.5px;width:200px;text-align:right;top:412.4px;font-size:29px;font-weight:bold">0</div><div style="position:absolute;font-family:'Liberation Sans', sans-serif;line-height:1;white-space:nowrap;color:#000;-webkit-text-stroke:0.2px #fff;left:-60.5px;width:200px;text-align:right;top:314.1px;font-size:29px;font-weight:bold">100</div><div style="position:absolute;font-family:'Liberation Sans', sans-serif;line-height:1;white-space:nowrap;color:#000;-webkit-text-stroke:0.2px #fff;left:-60.5px;width:200px;text-align:right;top:215.7px;font-size:29px;font-weight:bold">200</div><div style="position:absolute;font-family:'Liberation Sans', sans-serif;line-height:1;white-space:nowrap;color:#000;-webkit-text-stroke:0.2px #fff;left:-60.5px;width:200px;text-align:right;top:117.3px;font-size:29px;font-weight:bold">300</div><div style="position:absolute;font-family:'Liberation Sans', sans-serif;line-height:1;white-space:nowrap;color:#000;-webkit-text-stroke:0.2px #fff;left:-60.5px;width:200px;text-align:right;top:18.9px;font-size:29px;font-weight:bold">400</div><div style="position:absolute;font-family:'Liberation Sans', sans-serif;line-height:1;white-space:nowrap;color:#000;-webkit-text-stroke:0.2px #fff;left:-59.5px;width:200px;text-align:right;top:894.2px;font-size:29px;font-weight:bold">0</div><div style="position:absolute;font-family:'Liberation Sans', sans-serif;line-height:1;white-space:nowrap;color:#000;-webkit-text-stroke:0.2px #fff;left:-59.5px;width:200px;text-align:right;top:781.1px;font-size:29px;font-weight:bold">4000</div><div style="position:absolute;font-family:'Liberation Sans', sans-serif;line-height:1;white-space:nowrap;color:#000;-webkit-text-stroke:0.2px #fff;left:-59.5px;width:200px;text-align:right;top:668.0px;font-size:29px;font-weight:bold">8000</div><div style="position:absolute;font-family:'Liberation Sans', sans-serif;line-height:1;white-space:nowrap;color:#000;-webkit-text-stroke:0.2px #fff;left:-59.5px;width:200px;text-align:right;top:554.9px;font-size:29px;font-weight:bold">12000</div><div style="position:absolute;font-family:'Liberation Sans', sans-serif;line-height:1;white-space:nowrap;color:#000;-webkit-text-stroke:0.2px #fff;left:47.6px;width:200px;text-align:center;top:930px;font-size:29px;font-weight:bold">10<span style="display:inline-block;font-size:22px;transform:translate(-0.5px,-19px) scaleX(0.86);transform-origin:0 0">1</span></div><div style="position:absolute;font-family:'Liberation Sans', sans-serif;line-height:1;white-space:nowrap;color:#000;-webkit-text-stroke:0.2px #fff;left:318.7px;width:200px;text-align:center;top:930px;font-size:29px;font-weight:bold">10<span style="display:inline-block;font-size:22px;transform:translate(-0.5px,-19px) scaleX(0.86);transform-origin:0 0">2</span></div><div style="position:absolute;font-family:'Liberation Sans', sans-serif;line-height:1;white-space:nowrap;color:#000;-webkit-text-stroke:0.2px #fff;left:589.9px;width:200px;text-align:center;top:930px;font-size:29px;font-weight:bold">10<span style="display:inline-block;font-size:22px;transform:translate(-0.5px,-19px) scaleX(0.86);transform-origin:0 0">3</span></div><div style="position:absolute;font-family:'Liberation Sans', sans-serif;line-height:1;white-space:nowrap;color:#000;-webkit-text-stroke:0.2px #fff;left:861.0px;width:200px;text-align:center;top:930px;font-size:29px;font-weight:bold">10<span style="display:inline-block;font-size:22px;transform:translate(-0.5px,-19px) scaleX(0.86);transform-origin:0 0">4</span></div><div style="position:absolute;font-family:'Liberation Sans', sans-serif;line-height:1;white-space:nowrap;color:#000;-webkit-text-stroke:0.2px #fff;left:1132.1px;width:200px;text-align:center;top:930px;font-size:29px;font-weight:bold">10<span style="display:inline-block;font-size:22px;transform:translate(-0.5px,-19px) scaleX(0.86);transform-origin:0 0">5</span></div><div style="position:absolute;font-family:'Liberation Sans', sans-serif;line-height:1;white-space:nowrap;color:#000;-webkit-text-stroke:0.2px #fff;left:537.5px;width:300px;text-align:center;top:965px;font-size:29px;font-weight:bold">Frequency (Hz)</div><div style="position:absolute;font-family:'Liberation Sans', sans-serif;line-height:1;white-space:nowrap;color:#000;-webkit-text-stroke:0.2px #fff;left:165px;top:49px;font-size:28.5px;font-weight:bold"><span style="font-weight:normal;-webkit-text-stroke:0.4px #000">(a)</span> thermal electrolytic</div><div style="position:absolute;font-family:'Liberation Sans', sans-serif;line-height:1;white-space:nowrap;color:#000;-webkit-text-stroke:0.2px #fff;left:163px;top:528.5px;font-size:28.5px;font-weight:bold">(b) electrolytic</div><div style="position:absolute;font-family:'Liberation Sans', sans-serif;line-height:1;white-space:nowrap;color:#000;-webkit-text-stroke:0.2px #fff;left:-68.0px;top:219.7px;width:200px;height:30px;text-align:center;font-size:28px;font-weight:bold;transform:rotate(-90deg);transform-origin:100px 15px">|Z| <span style="font-weight:normal;-webkit-text-stroke:0.5px #000">(<span style="position:relative;top:1.5px;font-size:27px">&Omega;</span>)</span></div><div style="position:absolute;font-family:'Liberation Sans', sans-serif;line-height:1;white-space:nowrap;color:#000;-webkit-text-stroke:0.2px #fff;left:-68.0px;top:677.1px;width:200px;height:30px;text-align:center;font-size:28px;font-weight:bold;transform:rotate(-90deg);transform-origin:100px 15px">|Z| <span style="font-weight:normal;-webkit-text-stroke:0.5px #000">(<span style="position:relative;top:1.5px;font-size:27px">&Omega;</span>)</span></div></div></body></html>
